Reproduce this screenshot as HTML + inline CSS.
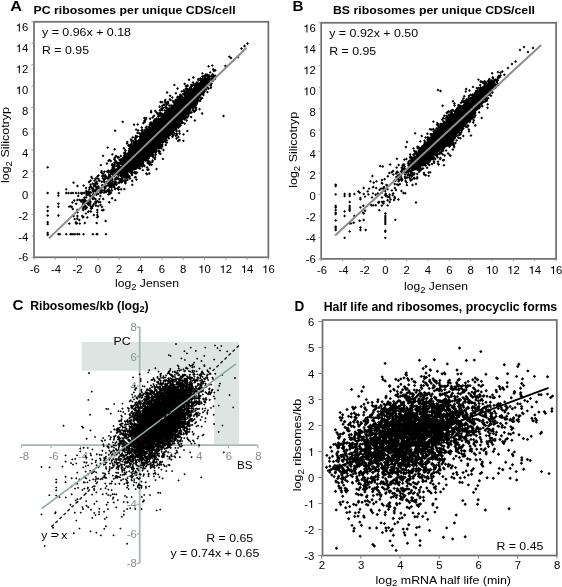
<!DOCTYPE html>
<html><head><meta charset="utf-8"><style>
html,body{margin:0;padding:0;background:#fff;}
svg{display:block;will-change:transform;font-family:"Liberation Sans", sans-serif;}
</style></head><body>
<svg width="562" height="587" viewBox="0 0 562 587" font-size="11.3">
<rect width="562" height="587" fill="#fff"/>
<text x="10.3" y="11.4" font-size="14" font-weight="700" textLength="11.8" lengthAdjust="spacingAndGlyphs">A</text>
<text x="33.6" y="14.0" font-size="11.5" font-weight="700" textLength="202" lengthAdjust="spacingAndGlyphs">PC ribosomes per unique CDS/cell</text>
<path fill="#000" fill-rule="evenodd" d="M107.6 146.2l-1.4 1.4 1.4 1.5 1.5-1.5zM101.6 155.8l1.4 1.5 1.5-1.5-1.5-1.4zM109.7 161.3l1.1 1.1 1.4-1.4-1.4-1.5-.2.2-1.2-1.1-2.3 2.1 1.5 1.5zM105.5 163.6l1.4 1.4 1.5-1.4-1.5-1.5zM99.4 165.1l1.5 1.5 1.4-1.5-1.4-1.4zM46.2 167.3l1.5 1.5 1.5-1.5-1.5-1.4zM105.7 171.8l1.4 1.3.1-.2.4.2.8.9 1.5-1.5-.9-.9 1.3 1.3.3-.3-1 1.1-.4-.3-1.4 1.4.5.5-.7.7.2.3-.6.6 0-.3-.8-.8.4-.4-1.4-1.4-1.1 1-.2-.2.9-.9-1.5-1.4-.3.3-.9-.9.8-.8-1.5-1.4-1.4 1.4.6.6-.9.9 1.5 1.4.1-.1.7.7.3-.3.7.7-.3.3-.6-.7-1.5 1.5 1.3 1.3-.8.8 2.1 2-.8.9-.8-.8-1.5 1.4 1.5 1.5 1.4-1.4.1.1-.3.3 1.4 1.5 1.4-1.4.7.8-.4.3 1.3 1.3-.5.6-.8-.8-1.2 1.3-2.7-2.1-1.5 1.5 1 1-.1.3-1.6 1.3-.8-.8.7-.6-1.5-1.4-1.3 1.1-.9-.9.3-.5-.7-.8 1.4 1.4 1.5-1.5-1.3-1.2.8-.8-1.4-1.5-2.6 2.4.2.3-.4.4-1.3-1.2-1.4 1.4 1.4 1.5.6-.6.3.4-1.2 1.2 1.4 1.5.5-.5.4.5.3-.2.8.7-.8.7.4.4-.3.3-.5-.5-.2.2-.4-.3.4-.3-1.4-1.5-.3.3-.7-.6.2-.3-1-1 .8-.8-1.5-1.4-1.4 1.4 1 1.1-2 1.7.9.8-1.1 1.1 1.4 1.4 1.5-1.4-.8-.8.4-.5 1.2 1.1.3-.3.1.2-1 .9 1.3 1.3-.4.5 1.2 1.2-1.4 1.3.4.4-1 .9-.8-.7.6-.6-.9-.9.2-.1.7.7 1.5-1.5-1.5-1.4-.2.3-.8-.8-.6.7-1.1-1-.6.6-1.3-1.3-1.5 1.5 1.2 1.2-.2.3-1-1-.9.9-.9-.9-1 1-.9-1-1.3 1.3-1.2-1.3-1.2 1.3-1.3-1.3-1.5 1.5 1.5 1.4 1.3-1.2 1.2 1.2 1.2-1.2 1.9 2 1-1 .3.2.9-.9.9.9 1-.9.3.3-1 1.1 1 1-1 1-.8-.7-1.4 1.4 1 1-.6.6-1-.8-1.3 1.2-1.2-1.2-1.2 1.1-1.2-1.1-1.4 1.4 1.4 1.5 1.2-1.2 1.2 1.2 1.2-1.3-1.3 1.4 1.4 1.4 1.5-1.4-.2-.2.3.3.3-.2-1.4 1.6.8.9-1 1 1.3 1.3-.6.6.3.3-.3.3.2.2-.6.6.8.8-.9.9 1.7 1.7 1.4-1.5-1-1 1.7-1.9 0 .4-1.3 1.3 1.4 1.5 2.7-2.9-2.7-3-.1.1-.3-.2-1.2 1.3-.2-.2.6-.6-.8-.8.5-.5.3.4 1.5-1.5-.5-.5.6.6 1.4-1.5-2.3-2.6.5-.4.7.7 1.5-1.4-1.1-1.1.7-.6.6.6 1-1.1.2.2-.5.6 1.7 1.7 1.3-1.3.5.4-1.1 1.2.8.8-.3.3 1.5 1.4 1.2-1.2 1.3 1.4 1.5-1.4-1.5-1.5-.1.2-1.6-1.9-.9.9-.1-.1.9-.9.2.2 1.3-1.3 1.2 1.3 1.4-1.4.5.5 1.5-1.4-1.5-1.5-.4.5-2-2.2.1-.2.5.6 1.5-1.5-.4-.4.3-.4-.2-.4 1.2 1.2.4-.4.2.3-.3.3.5.5-.7.7.6.7-.7.8 1.9 1.8 1.8-1.6 1.4 1.4 1.1-1.1.3.4.4-.4.4.4 1.3-1.3.9.8-1.4 1.5 1.5 1.4.6-.7.4.4 2.9-2.6-2.7-2.6.6-.6-1.8-1.7-1.1 1.2-.3-.3-1.5 1.7-.4 0 .5-.5-.5-.4 1.7-1.8-.6-.6 1-1 .7.7.4-.4.4.4-.4.4 1.4 1.4.8-.7.8.8-1.4 1.4 1.5 1.4.2-.2.3.3 1.4-1.4-1.4-1.5-.3.2 1.4-1.4-.7-.8.5-.5.1.2-.3.4 1.4 1.5 1.5-1.5-.6-.5.6-.6-.7-.6.3-.3 1.2 1.2 1.4-1.4-.7-1.1.5-.5 1 1 .6-.6.3.3 1-1 .3.3.2-.2.7.7 1.5-1.4-.4-.4.4-.4.6.6.5-.4-.4.6.5.5-.4.5 1.4 1.4 1.5-1.4-.6-.6.5-.4-.5-.5.7-.8.4.3 1.5-1.4-1.4-1.4.2-.3.5.4.2-.1 1.4 1.4 1.4-1.5-.6-.6.3-.3-.6-.6.7-.7-1.5-1.5-.4.5-.2-.3.2-.2-.7-.7.4-.5-.6-.7.5-.6-.1.2 2.5 2.2-.5.5 1.5 1.5 1.4-1.5-.7-.7.6-.5-.7-.7.3-.3 1.3 1.3.4-.4 1.1 1.1 2.6-2.5-1.5-1.5-.7.8-1.5-1.2-1.4 1.4.1.2-.3.4-.3-.3.7-.8-.5-.5 1-1 .6.6.7-.7.5.4 1.9-1.7 1.2 1.1.3-.4.8.8 1.5-1.4-1.2-1.5.5-.5 1.5 1.4 1.3-1.3.8.8 1.5-1.5-1.4-1.4.2-.2-.9-.9.6-.6-.4-.4.5-.5-.8-1 .4-.3 1.4 1.4 1.3-1.2.4.4-.9.8.5.5-.4.4 1.5 1.5.2-.2.3.4-.2.1 1.5 1.5 1-1.1.9 1 1.5-1.5-1.5-1.4-1 1-.2-.2 1.4-1.5-.9-.9 0-.1-1.4-1.4-.2.1-.8-.6 1.5-1.4-.7-.7.2-.1.2.2 1.2-1.2 1 .6.8-.9-.9 1.1 1.5 1.4.8-.8.2.3-.8.8 1.5 1.5 1.4-1.5-.8-.8.8-.8-1.4-1.5-.9.8-.5-.6.8-.8 1.1 1.1 1.4-1.5.1-.3-.9-1 1-1-.3-.3.9-.9.9.9-.7.7 2.4 2.3 1.5-1.5-1.4-1.4.8-.8-1.5-1.5-.2.2-.8-.8-1.2 1.3.2-.3-.7-.6.9-.9.5.6.3-.2.4.4 1.1-1.1 1.1 1.1 1.4-1.4-.9-.9.4.3 1.5-1.4-.9-.9.9-.9-1.1-1.1.1-.2.2.2.2-.2.3.3 1.2-1.2 1.2 1 .1-.2.9.9 1.5-1.5-1.2-1.2 1.1-1.1-1.1-1.1.1-.1-.3-.3.5-.5 1.5 1.5 1.4-1.5-1.3-1.3 1.1-1-.2-.2.1-.1.5.5 1.2-1.1-.1.2.4.4-1 1 1.5 1.5 1.4-1.5-.4-.4 1-1-.4-.4.2-.1-1.5-1.4-.5-.6.3.3.2-.2 1.9 2.2 1.1-1.1.3.3-.2.2-.1-.2-1.5 1.5 1.5 1.4.2-.2.2.1 2.1-2.1-.7-.7.6-.7 1.3 1.3 1.5-1.4-1.3-1.3 1.1-1-1.5-1.5-1.3 1.4-.5-.5.2-.2-.6-.7.6-.7-.6-.6.5-.5 1 1 1.4-1.5-.4-.4.3-.3.4.5 1.7-1.8-.8-.7 1-1 .4.5 1.5-1.5-1.5-1.7.4-.4-.2-.3.6-.6 1.1 1.1 2.2-2.2.4.3 2.6-3-.7-.7.9-.8-.3-.2.8-.8.5.5.3-.3.3.3 1.5-1.4-1.9-1.7-.7.7-.2-.2 1.5-1.6-.8-.8.3-.4.3.3.2-.1.7.7-.9.8 2.7 3.1 2.8-2.7-.5-.5.9-.9-.7-.7.8-.8-1.4-1.5-.7.6.8-.7.2.1 1.4-1.4-.4-.5.9-.9-.5-.5 1.1-1.1-.2-.3.1-.2 1.2 1.2 1.5-1.4-.6-.6 2.8-2.3-2-1.8-1 1 .4-.5-.5-.4 1.6-1.7-.2.2 1.4 1.4 1.5-1.4-.9-.9.8-.9-.6-.5.4.3 1.4-1.5-.9-1 .2-.3.9.9 1.4-1.5-1-1.1.4-.4.3.3-.2.2 1.4 1.5 1.5-1.5-1.4-1.4.2-.2-1.1-1 1.4-1.4-.2-.2.9-1.1.4.6-1.2 1.3 1.5 1.6-1 .9 1.4 1.5 1.5-1.5-1-1 .9-.9-.6-.8 1.2-1.3-1.8-2.1-1.1 1.1.6-.8-.7-.7 1.1-1 1.9 2 1.5-1.4-1-1.1.3-.3 1.1 1.2 1.5-1.5-1.5-1.4-.5.5-.5-.5.9-1-.6-.5 1.2 1 1.5-1.5-1.5-1.4-.6.6-1.9-1.9-2 1.7.4.3-.9.9-.1-.2.4-.4-1.4-1.4-.6.6-1.2-1.2-.6.5-.9-.9-2.3 2.6-.5-.4-.3.3-.5-.5-1.4 1.5 1.3 1.3-.6.6-1.3-1.3-1.4 1.5-.7-.7-1.5 1.4.9.9-.4.3 1.5 1.4.9-.9.6.6-1 1-.3-.4-.8.8-.2-.1.5-.5-1.5-1.4-1.4 1.4.2.2-1 1-.7-.7.4-.4-1.4-1.4-1.5 1.4 1.4 1.4-.4.4.1.1-.3.3-1.2-1.2-1.4 1.5 1.1 1.1-.2.2-.3-.3-1.5 1.4.4.4-.8.8-1.4-1.3-.6.6-.4-.3.2-.3.3.3.7-.6.4.4 1.5-1.4-.3-.3.2-.2-1.4-1.5-.9.9-.2-.2-.2.3-.3-.3-1.5 1.5 1.3 1.3-1.4 1.4.9.9-.2.2-1.2-1.2-1.4 1.5 1 1-.5.6 1.2 1.2-.3.2-.7-.8-1.5 1.5 1.5 1.4.3-.3.3.3-.5.5 1.1 1.1-.4.4-1.2-1.3.2-.3-1.4-1.4-.2.2-1.2-1.2-1.4 1.5.6.8-.1-.1-.7.7-.9-.9-1.4 1.5.2.2-.5.6.8.8-.6.6-.5-.5-1.5 1.4.7.8-.4-.4-.4.4-1.2-1.2-1.5 1.4 1.1 1.1-.3.4 1.3 1.3-.2.2.6.6-.2.2-.6-.5-.5.5-.6.1-.9-.9-1 1.1-.9-.9-1.4 1.5 1.4 1.4 1.1-1 .2.2-.2.3.1.2-1.1.9-.4-.4-.6.5-2.5-2.2-.5.5-.2-.1-1.4 1.4 1.4 1.5.4-.4.5.6.3-.3.2.1-.7.9-.9-.8-1.4 1.4 1.1 1.1-.2.2.2.2-1.1 1 .6.6-.3.3-.9-.9-.3.3-.5-.5-.3.2-1.4-1.6.5-.5.7.6.3-.3.4.4 1.5-1.4-.7-.7 1.3-1.2-1.5-1.5-.7.7 1.2-1.3.3.3.4-.4.3.4 1.2-1.1 1 1 3-2.9-.8-.7.7-.8-1.4-1.4-2 1.7-.2-.2.7-.7-.6-.5.7-.7-1.4-1.5-1.5 1.5.5.5-.6.7.9.9-.7.7 1.5 1.4.5-.5.1.2-.5.5-1.1-1-.3.4-.4-.4-1.3 1.3-.3-.3-1.4 1.5 1.2 1.2-.3.2-.1-.1-1.5 1.4.7.7-.2.2-.6-.7-1.5 1.5 1.4 1.3-1 1 .8.8-1.5-1.3-.3.3-2.5-2.8-1.5 1.5 3 3.2-.4.3 1.1 1-.6.8 1.4 1.4-.5.4-1.1-1.1-1.4 1.4-.4-.5-2.3 2.4.6.6-.9 1-.8-.8-.6.6-.5-.6-1.4 1.5.6.6-1.2 1.2 1.5 1.5.5-.2.4.4-.5.4-1.2-1.3-1.1 1.1-1.2-1.2-2.3 2.1.9.9-.4.4.6.6-.4.3-.8-.8-1.1 1-1.1-1.2 1-1-1.4-1.5-1.5 1.5 1.3 1.3-1 1 .2.3-.7.7 1.7 1.4-.2.2-.5-.5-.9.9-.9-.8-.6.6-1.3-1.2-1.4 1.5 1.4 1.4.7-.7 1.2 1.3.3-.3.3.3-1.3 1.3-1.3-1.3-.6.5-.8-.8-1.5 1.5.6.6-1.3 1.3.7.7-.7.7 1.3 1.6-.2.2-1.8-1.7-.7.7-.2-.3.4-.3-1.5-1.5-1.4 1.5.8.8-.4.3 1.3 1.3-1.1 1.1.5.5-.9.9-.9-.9-.3.3-.2-.2-1.4 1.5.5.5-.2.2 1.5 1.4.2-.2.2.2-1.2 1.3.6.7-.9 1 .7.7-.7.7.3.2-1.9 1.5-.2-.2.8-.8-.9-.9 1.1-1.1-1.7-1.7-1.4 1.5 1.1 1.1-.5.5-.3-.3-1.5 1.5 1.2 1.3-1.1 1.1 1.1 1.1-.3.2-.4-.4-1.4 1.5.6.6-.2.1-.8-.8-.8.9-.3-.3-.3.4-.4-.4-1.4 1.5 1.4 1.6-.4.7-.4-.4-.7.3-2.7-3.1.9-1.2-1.4-1.4-1.7 1.8.6.7-.8.7 2.1 2-.2.2-.4-.5-1.5 1.5 1.1 1-.4.4-1.3-1.3-1.4 1.5.4.5-.5.6 1.2 1.1-.6.6.4.4-.4.4.3.3-2 2.3-1.3-1.3-.2.3-.2-.2-2.3 2.3-1.3-1.3-1.5 1.4 1.5 1.5zM160.2 148l.3-.4 0 .1zM161.1 143.6l.6-.5.3.2-.6.6zM147.7 159l.2.1-1.3 1.2-.1-.1zM148.5 128.1l-1 1 .4-.5-.7-.8.7-.8.2.2-.3.2zM136.5 139.5l.1-.1-.3-.3 2.1-2.4 1.2 1.3-1.1 1.1.4.6-.5-.4-1.1 1zM108.3 184.4l-.1-.1.6-.6.1.1zM111.3 181.7l-.3-.7.7.8-.7.7-.3-.3zM112.9 182.1l.3-.3.6.7-.3.2zM116.8 180.7l1-1 .8.5-.2.3.8.8-.3.3-.3-.3-1.1 1.2-2-2.3.4-.4zM126.1 179.8l-1-.7.6-.7.9.9zM105.1 181.4l.3-.3-.6-.6.2.1 1.5-1.5-.4-.5 1.8 1.5.4-.4.6.5-.7.8-.6-.6-.4.4-.4-.3-1.3 1.3zM95.6 194.1l-.5.4-1.2-1.2-.2.1-.3-.3 1-1 1.1 1.1.2.3-.3.3zM104.3 178.2l-1.4-1.3.2-.2 1.5 1.4zM104 187.9l-.5.5.5.5-1 1-.7-.6-.3.3-.4-.4.2-.2.1.1 1.6-1.8zM103.3 191.6l.2.1-.7.7-.4-.3 1.1-1.2.2.2zM86.9 191.8l.7.8-.7-.7zM114.3 167.5l-.2.2-.2-.2.2-.2zM115.6 163.8l.7-.7-.4.4.8.8-.6.5.3.3-.8.8 1.5 1.4.2-.1-1.5 1.5-.9-.9 1.3-1.3-1-1.1 1-1-1.1-1zM121 168.6l.1.1.2 0-.2.1zM123.4 161.3l.1-.1.5.4-.1.2zM121.6 165.2l-.9.8-1-1 .4-.5 1 .9.6-.6.6.7-.2.2zM113.5 166.2l.8-.7-.7.8zM113.1 173.8l-.4-.4.2-.1.2.3 1.4-1.4.3.3-.3 0zM118.2 172.7l-.3.2.2-.3zM123.3 174.6l-.4-.4.2-.2.4.4zM113.1 169.8l-.1 0 .1 0zM116.8 170.8l.3-.5.1.1zM118.4 170.2l-.3-.3.3.3zM120.6 170.4l.2-.1.2.3-.1.1zM123.6 170.9l-.2-.2.2.2zM113.2 169l.1.1-.1.2-.2-.1zM114 174.8l-1.3 1.2 1.5 1.4 1.7-1.7-.8-.9.2-.2.9.9.7-.7.3.3.4-.4.3.3-.8.8 1.3 1.4-.3.3-1.4-1.5-1.5 1.5.9.9-.1.1-.9-.9-1.4 1.5 1 1-1 .9-.8-.9.8-.8-.5-.5.2-.3-1-1 .2-.3-1.9-1.7.6-.6 1.1 1.1 1.4-1.4zM118.7 177.1l1-1.1.3.3-.1.2 1.1 1.1-1 1 .1-.2zM123.6 178.7l-.3-.3.3-.4 1.3 1.1-.4.4-.5-.5-1 1-.4-.3zM119.3 174.5l.6.6-.3.4-.6-.7zM123.2 175.9l-.4.4-.1-.2.4-.4zM121.7 179.8l.1.1-.2.2-.1-.1zM110.7 179.2l0-.2.1.1zM113.5 182.9l.4.4-.1.2-.1.1-.4-.4-.5.5zM132.1 150.8l-.1-.2.1-.1.2.1zM132 149.7l-.2.3-.3-.3.3-.4zM132.1 141.6l1.1.9-.4.3.5.5-1 1.3-.3-.4 1.1-1.1-1.3-1.3zM127.3 169.6l.4-.6.1.1zM141.3 162.8l-.1-.2.5-.5.1.2zM143.1 130.3l1 1-.2.2-1.1-1zM143.1 165.9l-.6-.8.7.7zM153.9 152.6l1 1.1.3-.2-.8.9-.9-.9.6-.5zM152.6 123l.2.4-.3-.3zM160.6 115.9l-.3.4.3.3-.6.6.5.5-.3.3.2.2-.7-.6-.4.4-.6-.6zM174.2 131.4l.6-1 .5.5-.2.2 1.4 1.4-.8.7zM175.4 102.3l.5.5.2-.2-.3.4-.5-.6zM169 110l.3.3.1.3-.5-.5zM178.1 133.4l-1.2-1.2 1-1 1.3 1.2zM178.1 126.5l-.8.6.7-.7zM180.3 97.7l-.2.1.2-.2zM180.8 97.5l.1-.1.2.2-.1.1zM178.6 100.5l-.2.2-.4-.4.4.1zM180 124.6l-.1-.2.1.1zM185.3 90.3l.3.4-.4.4-.4-.4zM186.5 115.5l.8-.8.3.4-.8.8.2.2-.2.1zM193.8 86.1l.4.3-1 1 .5.6-.4-.5-1.1 1.1-.4-.3.5-.4-.3-.3zM189.1 89.5l-.7-.8.7.8zM187.3 90.7l-.3.3.3-.3zM188.3 110.1l-.2-.2.2-.2.3.2zM194.9 104.4l.1-.2 0 .1zM193.5 109.1l.2-.2.2.2.8-.8.3.3-.5.6.5.5-.3.2zM207 85.9l.1-.2-.5-.7.6.6zM204.1 77.7l-.5.6-.5-.4.7-.6zM206.3 77.5l.3-.3-.9-.8.1-.2 1.2 1.4-.3.3zM208 78.2l0-.3.2.1zM210.2 77.2l.4-.4.8.9-.6.6-.3-.2.3-.3zM211.7 77.4l.1-.1 0 .1zM199.6 79.2l.7.7-.3.3-.7-.6zM201.3 79l.1.1-.3.4-.2-.2zM206.2 79.4l.2.1-.1 0zM210.7 79.3l.4.4-.3.2-.4-.4zM197.8 84.9l-.2-.2.2.2zM205.3 89.1l.2-.3 0 .1zM198.8 99.2l1.5-1.3.2.2-1.3 1.3.5.5-.1.2zM98.5 173.9l-2.5 2.7 1.5 1.4 2.5-2.7zM89.9 176.9l1.2 1.2-.3.2 1.5 1.5 1.4-1.5-1.1-1.1.2-.3-1.4-1.4zM99.8 178.8l-1.5-1.4-.9.9-1.3-1.3-.4.4-.1-.2-1.5 1.5 1.5 1.4.4-.4.1.2.9-.9 1.1 1-.5.5 1.8 1.7 1.5-1.4-1.6-1.5zM93.1 180.6l1.4 1.4 1.5-1.4-1.5-1.5zM89.3 183.4l2.7-2.8-1.4-1.4-1.4 1.5-.2-.1-1.4 1.4 1.4 1.4.2-.1zM72.1 182.7l1.5 1.4 1.4-1.4-1.4-1.5zM82.1 185.6l1.5 1.4 1.4-1.4-1.4-1.4zM76 186l1.4 1.4 1.5-1.4-1.5-1.4zM84.6 188l1.4 1.4 1.4-1.4-1.4-1.4zM64.8 189.3l1.4 1.5 1.4-1.5-1.4-1.4zM67.4 192.8l-1.2-1.2-1.4 1.5 1.4 1.4 1.2-1.1 1.2 1.1 1.2-1.2 1.3 1.2.9-.9 1 .9 1.4-1.4-1.4-1.5-1 1-.9-1-1.3 1.3-1.2-1.3zM57 193.1l1.2 1.3-1.2 1.2 1.4 1.4 1.4-1.4-1.2-1.2 1.2-1.3-1.4-1.5zM46.2 193.1l1.5 1.4 1.5-1.4-1.5-1.5zM76.8 195.9l1.5 1.4 1.4-1.4-1.4-1.5zM98.9 195.9l1.5 1.5 1.4-1.5-1.4-1.4zM101.8 199.1l1.4 1.4 1.5-1.4-1.5-1.5zM97.9 199.1l1.5 1.5 1.4-1.5-1.4-1.4zM89.6 202.7l-1.4-1.4-.7.7-.3-.3-1.5 1.5 3 3.2 1.2-1.2.2.2 1.5-1.4-.8-.8 1.2-1.1-1.5-1.7.7-.6-1.5-1.5-1.4 1.5.4.4-.6.6 1.7 2-.7.8-.2-.1zM72.8 200.5l1.4 1.5 1.5-1.5-1.5-1.4zM92.1 204.2l.5.5-1.1 1.1-.8-.8-1.4 1.4 1.2 1.2-.9 1 1.4 1.4.6-.6.3.3 1.5-1.4-1.5-1.5-.7.6.7-.7.8.8 1.5-1.5-.5-.5 1.3-1.3.4.4-.9.9 1.4 1.5.8-.8 1.4 1.4 1.4-1.4-1.4-1.5-.8.8-1.1-1.1.9-.9-.5-.6.6-.6 1.4 1.3.8-.9.7.7 1.5-1.4-1.5-1.5-.8.9-1.9-1.7-.8.8-.3-.2-.7.7-.4-.4-1.4 1.4.9.9-.5.5-.6-.7zM71 202.4l1.4 1.4 1.5-1.4-1.5-1.4zM74.6 203.7l1.5 1.5 1.5-1.5-1.5-1.5zM57 203.7l1.4 1.5 1.4-1.5-1.4-1.5zM99 205l1.5 1.4 1.5-1.4-1.5-1.4zM70 207.3l.5.5.4-.4.9.8 1.4-1.4-1.4-1.4-.4.4-.9-.9-.8.8-.5-.5-1.5 1.4 1.5 1.5zM57 206.8l1.4 1.4 1.4-1.4-1.4-1.4zM46.2 206.8l1.5 1.4 1.5-1.4-1.5-1.4zM100.6 207l1.4 1.4 1.4-1.4-1.4-1.4zM71.3 208.9l1.5 1.5 1.4-1.5-1.4-1.4zM75.9 209.9l1.3 1.3-1.2 1.2 1.4 1.4 1.5-1.4-1.4-1.3 1.3-1.2-1.5-1.5zM95.8 217.4l1.5 1.4 2-2.1-1.1-1.1.6-.6-1.4-1.3 1.4-1.3-1.3-1.2 1.3-1.3-1.5-1.5-1.5 1.5 1.3 1.3-1.3 1.2 1.4 1.3-1.4 1.3 1.2 1.1zM102.7 209.3l-.5-.5-1.5 1.4 1.5 1.5.7-.8.6.5 1.5-1.4-1.5-1.4zM46.2 210.9l1.5 1.5 1.5-1.5-1.5-1.5zM88.7 210l-2 2.1 1.5 1.5 1.6-1.9 1.1 1.2 1.5-1.4-1.5-1.5-1.1 1.1zM84.6 213.6l1.4 1.4 1.4-1.4-1.4-1.4zM92.4 215l1.5 1.5 1.4-1.5-1.4-1.4zM57 215.5l1.4 1.5 1.4-1.5-1.4-1.5zM46.2 215.5l1.5 1.5 1.5-1.5-1.5-1.5zM72.1 216.1l1.5 1.5 1.4-1.5-1.4-1.5zM84.8 217l-2.5-2.4-1.5 1.5 1.1 1-.3.3 1.4 1.4zM76 216.1l1.1 1.2-1.4 1.4 1.5 1.4 1.4-1.4-1.1-1.2 1.4-1.4-1.5-1.5zM85.8 217.4l1.5 1.4 1.5-1.4-1.5-1.4zM73.2 219.1l1.5 1.5 1.4-1.5-1.4-1.4zM77.8 220.1l1.4 1.5 1.5-1.6-1.5-1.5zM105.7 219.6l-1.5 1.5 1.5 1.4 1.4-1.4zM76.6 224.5l.3.2 1.4-1.4-2.4-2.5-1.5 1.5.8.8-.6.5 1.5 1.4zM46.2 222.3l1 .9-1 1 1.5 1.4 1.5-1.4-1-1 1-.9-1.5-1.5zM83.4 223l1.4 1.4 1.4-1.4-1.4-1.4zM95.2 223l1.5 1.4 1.5-1.4-1.5-1.4zM67.8 223.6l1.5 1.4 1.5-1.4-1.5-1.4zM78.4 223.6l1.4 1.4 1.4-1.4-1.4-1.4zM46.2 232.9l1 .9-1 1 1.5 1.4 1.5-1.4-1-1 1-.9-1.5-1.5zM97 233l-.3-.2-1.5 1.4 1.5 1.4.3-.2.3.2 1.5-1.4-1.5-1.4zM64.8 234.2l1.4 1.4 1.4-1.4-1.4-1.4zM82.1 234.2l1.5 1.4 1.4-1.4-1.4-1.4zM58.4 232.8l-1.4 1.4 1.4 1.4.2-.1.1.1.6-.6.6.6 1.5-1.4-1.5-1.4-.6.6-.6-.6-.1.1zM71.2 233.4l-.7-.6-1.5 1.4 1.5 1.4.7-.6.6.6.6-.6.6.6 1-.9.9.9 1.3-1.2 1.2 1.2.9-.8.9.8 1.4-1.4-1.4-1.4-.9.8-.9-.8-1.2 1.2-1.3-1.2-.9.9-1-.9-.6.6-.6-.6zM104.6 234.2l1.4 1.4 1.4-1.4-1.4-1.4zM91.4 234.2l1.5 1.4 1.5-1.4-1.5-1.4zM121.3 121.8l1.4 1.5 1.5-1.5-1.5-1.4zM113.7 130.8l1.4 1.4 1.5-1.4-1.5-1.5zM122.4 148.3l1.5 1.4 1.4-1.4-1.4-1.5zM113.1 149.2l1.5 1.5 1.4-1.5-1.4-1.4zM110.9 154.3l1.5 1.5 1.4-1.5-1.4-1.4zM114.6 155.9l1.4 1.5 1.5-1.5-1.5-1.4zM119.4 156l1.4 1.4 1.5-1.4-1.5-1.5zM116.4 157.6l1.5 1.5.5-.5.2.2 1.5-1.4-1.5-1.5-.2.2-.4-.4-1.5 1.4.2.2zM117.7 187.1l1.4 1.5 1.5-1.5-1.5-1.4zM116.5 189l2.1 1.9 1.4-1.4 1.2 1.2 1.4-1.4-1.4-1.5-1.4 1.4-2.4-2.2-1.2 1.2-1-.9-1.6 1.7 1.5 1.5zM122.9 189.1l1.4 1.5 1.5-1.5-1.5-1.4zM117.6 193.1l1.4 1.5 1.5-1.5-1.5-1.4zM110.6 198.2l1.5 1.5 1.5-1.4-1.5-1.6zM113.8 200.2l1.5 1.4 1.4-1.4-1.4-1.5zM107.8 202.2l1.5 1.5 1.4-1.5-1.4-1.4zM131.3 137.3l1.4 1.5 1.5-1.5-1.5-1.4zM125.9 142l.5.5-.9.9 1.4 1.4 1.5-1.4-.5-.5.9-.9-1.5-1.4zM130.8 181l1.4 1.5 1.5-1.5-1.5-1.4zM130.8 184.8l1.4 1.5 1.5-1.5-1.5-1.4zM132.6 124.7l1.4 1.5 1.5-1.5-1.5-1.4zM134.7 129.6l1.5 1.5 1.4-1.5-1.4-1.4zM135.3 176.2l-.3-.3-1.5 1.5 1.5 1.4.5-.5.2.3 1.5-1.4-1.5-1.5zM135 179.6l1.5 1.5 1.4-1.5-1.4-1.4zM136.3 124.4l1.4 1.4 1.5-1.4-1.5-1.5zM136.8 130.5l1.4 1.4 1.5-1.4-1.5-1.5zM145.5 121.3l1.6-1.7-.5-.5 1-1.1-1.4-1.4-.9.9-1-1-1.4 1.4 1.4 1.5 1-.8-2.4 2.4.6.6-1.6 1.5 1.4 1.5 3-2.6zM141.4 170.2l1.4 1.4 1.5-1.4-1.5-1.5zM144.9 173.5l2.1 2.2 1.5-1.4-2.2-2.2zM147.8 168.7l-.3-.3 1.1-1-1.5-1.4-1.4 1.4 1.2 1.3-1 1 1.5 1.5.6-.7.5.5 1.5-1.5-1.5-1.4zM148.7 118.7l1.4 1.5 1.5-1.5-1.5-1.4zM147.8 173.5l1.5 1.5 1.4-1.5-1.4-1.4zM149.6 112.4l1.5 1.4 1.4-1.4-.6-.6.7-.8-1.4-1.4-1.5 1.4.7.7zM151.2 117.5l1.4 1.5 1.5-1.5-1.5-1.4zM151.1 160.4l.7.7-.8.7 1.5 1.5 1.4-1.5-.6-.6.7-.8-1.4-1.4zM152.6 115.8l1.4 1.4 1.5-1.4-1.5-1.5zM155.1 169.1l1.4 1.4 1.5-1.4-1.5-1.5zM163.6 102.3l-1.5-1.5-.6.7-1-.9-1.4 1.5 1.4 1.4.7-.7.9.9zM158.2 106.7l1.4 1.5 1.5-1.5-1.5-1.4zM162 150.1l1.5 1.4 1.4-1.4-1.4-1.5zM161.5 158.9l1.4 1.4 1.5-1.4-1.5-1.5zM164.3 145l1.4 1.4 1.5-1.4-1.5-1.5zM165.7 92.6l1.4 1.4 1.5-1.4-1.5-1.5zM168.7 95.7l1.4 1.5 1.5-1.5-1.5-1.4zM170.6 101.3l1.4-1.4-1.4-1.5-.2.2-.5-.5-1.4 1.4 1.4 1.5.2-.2zM170.9 97.4l1.5 1.5 1.4-1.5-1.4-1.4zM172.9 84.9l1.4 1.4 1.5-1.4-1.5-1.5zM176.1 88.6l1.5 1.4 1.4-1.4-1.4-1.5zM174.5 93.3l1.4 1.4 1.5-1.4-1.5-1.5zM175.1 138.5l1.4 1.4 1.5-1.4-1.5-1.5zM176.9 136.9l1.4 1.5 1.5-1.5-1.5-1.4zM178.1 139.4l-1.4 1.5 1.4 1.4 1.2-1.1.3.3 1.5-1.4-1.5-1.5-1.1 1.2zM180.4 91.4l1.5 1.4 1.4-1.4-1.4-1.5zM183.2 83.8l1.5 1.5 1.4-1.5-1.4-1.4zM183.2 123.6l1.4 1.5 1.5-1.5-1.5-1.4zM182.1 134.4l1.4 1.4 1.5-1.4-1.5-1.5zM181.9 140.8l1.5 1.5 1.4-1.5-1.4-1.4zM187.6 79.7l1.4 1.5 1.5-1.5-1.5-1.4zM185.2 120.5l1.5 1.4 1.4-1.4-1.4-1.5zM185.8 131.1l1.5 1.4 1.4-1.4-1.4-1.5zM191.8 77.5l1.5 1.5 1.4-1.5-1.4-1.4zM189.7 117.1l1.4 1.4 1.5-1.4-1.5-1.5zM193.4 120.4l1.5 1.5 1.4-1.5-1.4-1.4zM246 43.5l1.5 1.5 1.5-1.5-1.5-1.5zM243 46l1.5 1.4 1.5-1.4-1.5-1.4zM240 48.5l1.5 1.5 1.5-1.5-1.5-1.5zM227.8 56.7l1.5 1.4 1.4-1.4-1.4-1.5zM238 55.6l-1.4 1.4 1.4 1.4 1.4-1.4zM229.6 58l1.4 1.4 1.4-1.4-1.4-1.4zM210.8 65.6l1.5 1.5 1.4-1.5-1.4-1.4zM224 66.1l1.4 1.4 1.5-1.4-1.5-1.5zM207.1 66.3l1.5 1.5 1.4-1.5-1.4-1.4zM214.8 69.5l-1.5-1.7-1.4 1.5 1 1.2-.4.4 1.4 1.5 1.1-1.1.4.5 1.4-1.5-1.4-1.4zM208.8 72.4l1.5 1.4 1.4-1.4-1.4-1.5zM201 73.4l1.4 1.4 1.5-1.4-1.5-1.5zM206 92.1l1.5 1.5 1.4-1.5-1.4-1.4zM198.1 109.2l1.5 1.4 1.4-1.4-1.4-1.5zM200.7 113.6l1.5 1.4 1.4-1.4-1.4-1.5zM222 116l1.5 1.4 1.5-1.4-1.5-1.4z"/>
<line x1="48.9" y1="238.4" x2="246.6" y2="47.8" stroke="#8c8c8c" stroke-width="2"/>
<rect x="34.0" y="21.8" width="234.4" height="235.5" fill="none" stroke="#6c6c6c" stroke-width="1.7"/>
<path d="M31.5 257.3h2.5M34.0 257.3v2.5M31.5 235.9h2.5M55.3 257.3v2.5M31.5 214.5h2.5M76.6 257.3v2.5M31.5 193.1h2.5M97.9 257.3v2.5M31.5 171.7h2.5M119.2 257.3v2.5M31.5 150.3h2.5M140.5 257.3v2.5M31.5 128.8h2.5M161.9 257.3v2.5M31.5 107.4h2.5M183.2 257.3v2.5M31.5 86.0h2.5M204.5 257.3v2.5M31.5 64.6h2.5M225.8 257.3v2.5M31.5 43.2h2.5M247.1 257.3v2.5M31.5 21.8h2.5M268.4 257.3v2.5" stroke="#9a9a9a" stroke-width="1"/>
<text x="28.2" y="261.4" text-anchor="end">-6</text>
<text x="28.2" y="240.5" text-anchor="end">-4</text>
<text x="28.2" y="219.6" text-anchor="end">-2</text>
<text x="28.2" y="198.7" text-anchor="end">0</text>
<text x="28.2" y="177.8" text-anchor="end">2</text>
<text x="28.2" y="156.9" text-anchor="end">4</text>
<text x="28.2" y="135.9" text-anchor="end">6</text>
<text x="28.2" y="115.0" text-anchor="end">8</text>
<text x="15.6" y="94.1"> 0</text>
<path transform="translate(15.63 94.13) scale(0.01175 -0.01130)" d="M359 0L359 703L293 703C280 650 250 600 180 582C150 575 120 572 101 572L101 504L271 504L271 0Z"/>
<text x="15.6" y="73.2"> 2</text>
<path transform="translate(15.63 73.22) scale(0.01175 -0.01130)" d="M359 0L359 703L293 703C280 650 250 600 180 582C150 575 120 572 101 572L101 504L271 504L271 0Z"/>
<text x="15.6" y="52.3"> 4</text>
<path transform="translate(15.63 52.31) scale(0.01175 -0.01130)" d="M359 0L359 703L293 703C280 650 250 600 180 582C150 575 120 572 101 572L101 504L271 504L271 0Z"/>
<text x="15.6" y="31.4"> 6</text>
<path transform="translate(15.63 31.40) scale(0.01175 -0.01130)" d="M359 0L359 703L293 703C280 650 250 600 180 582C150 575 120 572 101 572L101 504L271 504L271 0Z"/>
<text x="34.8" y="273.1" text-anchor="middle">-6</text>
<text x="56.1" y="273.1" text-anchor="middle">-4</text>
<text x="77.4" y="273.1" text-anchor="middle">-2</text>
<text x="97.9" y="273.1" text-anchor="middle">0</text>
<text x="119.2" y="273.1" text-anchor="middle">2</text>
<text x="140.5" y="273.1" text-anchor="middle">4</text>
<text x="161.9" y="273.1" text-anchor="middle">6</text>
<text x="183.2" y="273.1" text-anchor="middle">8</text>
<text x="198.2" y="273.1"> 0</text>
<path transform="translate(198.19 273.10) scale(0.01175 -0.01130)" d="M359 0L359 703L293 703C280 650 250 600 180 582C150 575 120 572 101 572L101 504L271 504L271 0Z"/>
<text x="219.5" y="273.1"> 2</text>
<path transform="translate(219.50 273.10) scale(0.01175 -0.01130)" d="M359 0L359 703L293 703C280 650 250 600 180 582C150 575 120 572 101 572L101 504L271 504L271 0Z"/>
<text x="240.8" y="273.1"> 4</text>
<path transform="translate(240.81 273.10) scale(0.01175 -0.01130)" d="M359 0L359 703L293 703C280 650 250 600 180 582C150 575 120 572 101 572L101 504L271 504L271 0Z"/>
<text x="262.1" y="273.1"> 6</text>
<path transform="translate(262.12 273.10) scale(0.01175 -0.01130)" d="M359 0L359 703L293 703C280 650 250 600 180 582C150 575 120 572 101 572L101 504L271 504L271 0Z"/>
<text x="42.0" y="36.0" textLength="89" lengthAdjust="spacingAndGlyphs">y = 0.96x + 0.18</text>
<text x="42.0" y="54.4" textLength="47" lengthAdjust="spacingAndGlyphs">R = 0.95</text>
<text x="115.0" y="286.7" textLength="64" lengthAdjust="spacingAndGlyphs">log<tspan font-size="8.8" dy="2.8">2</tspan><tspan dy="-2.8"> Jensen</tspan></text>
<text x="9.0" y="183.0" textLength="76" lengthAdjust="spacingAndGlyphs" transform="rotate(-90 9.0 183.0)">log<tspan font-size="8.8" dy="2.8">2</tspan><tspan dy="-2.8"> Silicotryp</tspan></text>
<text x="292.4" y="11.4" font-size="14" font-weight="700" textLength="11.0" lengthAdjust="spacingAndGlyphs">B</text>
<text x="333.0" y="14.0" font-size="11.5" font-weight="700" textLength="202" lengthAdjust="spacingAndGlyphs">BS ribosomes per unique CDS/cell</text>
<path fill="#000" fill-rule="evenodd" d="M407 140.6l-1.4 1.5 1.4 1.4 1.5-1.4zM404.4 146.9l1.5 1.5 1.4-1.5-1.4-1.4zM412 148.4l1.5 1.4 1.4-1.4-1.4-1.5zM410.2 160.1l-.8-.9-2.1 2.3.5.5-1.2 1.2 1.3 1.3-.9.9 1.1 1.1-.5.5.8.8-.2.3-.7.7-.2-.2-.5.4-.9-.8-.2.2-.6-.7 1-1-1.2-1.2.8-.7-1.5-1.5-.3.3-.6-.6-1.5 1.4-.5 1 1.4 1.5.4-.4 1.2 1.3-.2.2-1.2-1.2-.3.3-.9-.9-1.5 1.5 1.3 1.2-.8.9.3.3-1.4 1.4 2.4 2.4 1.4-1.1.9.7.3-.2.1.1-1.1 1.1 1.2 1.1-1.3 1.3.6.9-.3.4 1.4 1.5.9-1 .2.3.6-.6.6.6 1-1 .7.8-.4.3 1 1-.6.5 1.5 1.5 1.4-1.5-.9-1 1.1 1.1 1.4-1.5-1.4-1.4-1 .9-1-1 .4-.3-.8-.8 1-.9-.7.8 1.4 1.4 1.5-1.4-.3-.3.8-.7.4.4 1.5-1.5-.5-.5.7-.6-1.5-1.5-.8.9-1.3-1.3.2-.4.6.7.7-.8.3.2 1.1-1.1.7.6.5-.5 1.1 1.1.9-.6.4.4-.9.9 1.4 1.4 1.5-1.4-.6-.6.2-.2.5.6 2-2.1.3.4 1.5-1.5-1.5-1.4-.7.7-.4-.4-.3.4-.5-.5-.5.4 1.2-1.4.5.5.8-.8.8.7.7-.7 1.1.9 1.5-1.4-1-1 .5-.6 2.6 2.5 1.5-1.5-1.6-1.5 2.4-2.8-.4-.4.2.1.3-.4.4.4.2-.2.4.4.5-.5.2.2.8-.8 1.1 1 1.4-1.5-2.5-2.9-.5.4.9-.9 1.7 1.6-.2.2 1.5 1.4 1.4-1.4-1.2-1.3 1.1-1.2-.3-.2.2-.3 1 1 1.1-1.2 1.7 1.7 1.5-1.4-2-2 .5-.6.5.4 1.4-1.4-.7-.8.8-.8-.3-.3 1.9-1.8.2.2.3-.3.3.3 1.3-1.3.2.2-.5.6 1.4 1.4 1.5-1.4-.3-.3.7-.7.3.3.8-.7.9 1-.6.6 1.5 1.5 1.4-1.5-1-1 .6-.7-.4-.4.3-.3-1.3-1.4.8-.8-1-1.1 1.4-1.4-1.4-1.5 1.3 1.2 1.4-1.4-.5-.6.6-.7.6.4 1.4-1.5-2.1-2 .8.6 1.4-1.4 0-.3.3.2-.3.3.2.2-1.2 1.4 1.5 1.5 1.1-.9.4.4 1.5-1.5-.7-.6 1.6-1.6-.8-.9 2.6-2.8-.8-.9.8-.6 1.4 1.4.5-.5.7.7 2.4-2.7-1.9-1.9-1.5 1.4.6.7-.1.1-.7-.7-.5.5.9-1.1-.7-1 .1-.1.7.7 2.2-2.1.9 1 .2-.1 1.5-1.5-.6-.6 1.1-1.3-.9-1 1.3 1.3 1.4-1.4-.1-.2.3-.3.5.5 1.4-1.5-.4-.4 1.4-1.4-1.2-1.3 1.2-1.2-1-.9.3-.4-.5-.6.4.4.5-.5.1.2 2.2-1.9.3.2.2-.2 1.5-1.4-.2-.2.4-.4-.4-.4.3-.3 1.2 1.1.1-.2.2.2 1.4-1.5-1.4-1.4-.3 0 .7-.7.2-.3-.2-.2.3-.3.3.3 1.1-1.1.6.6 1.2-1.3.5.4 1.5-1.4-.6-.6 1.9-2-1.4-1.4-.7.7-.4-.4 1-1.1-.4-.5.1-.1 1.1 1 1.5-1.4-.2-.2.9-.9-.8-.8.2-.3 1 .8.2-.1.7.7 1.5-1.5-.5-.4.2-.2-1.5-1.4.2-.2-.2-.2.3.3 2.1-2 .8.7 1.8-1.7-.8-.8.3-.3-.3-.3 1-1 1.1 1.1 1.5-1.4-.8-.8.2-.2-1.3-1.3.3-.3-.3-.4 1.2-1.2-.6-.5.4-.4-.9-.8.2-.1.5.5 2.6-2.2-.7-.7 1.2-1.1-1.3-1.3 1.3-1.3-1.5-1.4-1.4 1.4 1.3 1.3-1 1-.5-.5-2 2.2.3.3-.6.6.9.8-.7.7-.9-.9-1 1-.6-.6-1.3 1.3-1-1-1.2 1.2-.3-.2.4-.3-.2-.3.2-.2-1.5-1.5-1.4 1.5.2.2-.2.3 1 1-1-.8-1.4 1.4 1.1 1.1 0 .1-.1.2.7.7-.2.2-.7-.8.2-.2-2.9-2.7-1.4 1.5 1.2 1.4-2.6-2.5-.5.5-.6-.7-1.5 1.5 1.5 1.4.4-.4 2.1 1.8.3-.3.1.2-.4.5.4.4-.3.2 1 1.1-.7-.7-.8.8-.4-.4-.9.8-.8-.9-1.2 1.2-.8-.8-1 1-.8-.9-1.5 1.5 1.5 1.4 1-1 1.2 1.4-.2.1-1.2-1.2-1.3 1.4-.4-.4-1.4 1.4.5.5-1.5 1.5.4.4-.4.4-.8-.9-1.4 1.3-.8-.9-1.4 1.4-.4-.3-1.4 1.4 1 1-1 1 .4.4-.5.5-.9-.9-1.4 1.5.4.4-.2.1-.3-.3-1 1-1.4-1.4-1.4 1.4.6.6-.5.4-.2-.2-1.5 1.4 1.5 1.5 1.2-1.2.2.2.5-.4.5.5.6-.6.2.2-2.2 2.6-1.3-1.2-.5.5-1-1-.3.3-.5-.5-1.4 1.4.5.6-.2.3.5.6-.3.3-.2-.2-1.5 1.5 1.3 1.3-1.1-1.1-1.5 1.5.4.3-.4.4-.5-.5.2-.2-1.5-1.4-1.1 1.1-.4-.4-1.4 1.4.4.4-.3.3-1.4-1.4-1.5 1.4.1.3-.3-.3-1.5 1.5 1.5 1.4.4-.3.2.3 1.5-1.5-.2-.2.3-.3.9.9-.8.9-.5-.5-1.4 1.5.9.9-.1.1-1.5-1.6-1 1-1.2-1.1-1.4 1.4 1.4 1.5 1-1 .7.7-1.3 1-1.4-1.5-1.4 1.5.3.3-1.4 1.4 1.4 1.4 1.5-1.4-.3-.3.5-.6 1.5 1.4.9-.9.2.1-1.4 1.4.6.6-.1.1-.9-.9-.4.5-.9-.9-1.4 1.5 1 1-.7.7-.7-.7-.5.3-.5-.5-1.3 1.3-2-2.1-1.4 1.5.7.7-1 1 2.2 2-.5.5.5.5-.1.2-1.1-1.1-1.5 1.4.6.6-.9.8-.4-.3.3-.3-1.4-1.5-1.3 1.3-.7-.7-.5.4-.8-.9-1.5 1.5 1.5 1.4.4-.4.9.9 1.3-1.3-.3.3.7.7-.7.7.9.9-.7.7.3.2-.3.3-.6-.7-.4.4-.9-.6-1.5 1.4 1.4 1.5-.3.3.5.4-.6.7.1.2-.7-.7-.4.5-1.1-1.1-.2.3-.2-.2-1.1 1.1-.9-1-1.5 1.5 1.5 1.4 1.1-1.1.6.7-1.2 1.2 1.1 1.1-.7.7-.4-.4-.6.5-.3-.3.7-.7-1.5-1.5-1.4 1.5 1.2 1.1-.8.8.5.6-.8.9 0 .5-.5.5-.3-.4-1.5 1.5.4.4-.7.6-.1-.1-.7.5-.2-.1.4-.4-1.4-1.5-.3.3-.7-.7-1.4 1.4.7.7-.7.7 1.4 1.5.4-.4.2.1.1-.1.4.4-1.3 1.3.9.9-.4.4.3.3-.2.2-.4-.2.4-.5-1.4-1.4-.3.2-.4-.4-.3.4-1.3-1.3-1.4 1.5 1.4 1.4.5-.2-1.1 1.3-.1-.1-1.5 1.4 1.5 1.5 1.7-1.4 1.1 1-.3.2-.4-.4-.3.3-.6-.6-1.8 1.6-.7-.7-.3.3-1.2-1.2.9-.8-1.4-1.5-1.5 1.5 1.2 1.2-.8.9.2.2-.6.6 1.4 1.5 1.1-.8-1.1 1.1.5.6zM453 112.3l-1-1 .2-.2.9 1 .4-.4.9.9-.8.8-.9-.8zM438.7 153.2l-.6-.5.2-.2-.3-.3.2-.3.4.4 2.1-1.9.2.2-.5.6-.3.3-.2-.2-1.5 1.4.5.6-.5.4-.1-.1zM412.9 173.3l.4.5-.4-.4zM415.5 163.7l-.8.7.7-.8zM420 164.8l-.1.2-.2-.2.2-.2zM408.2 173.5l1.3-1.3.8.8-.6.7-.9-.8-.9.9-.3-.3-1.4 1.5 1.2 1.2-.5.5-.6-.6-.4.4-.6-.7 1.2-1.3-1-1.1.3-.3.9.9 1-.9zM408.8 176.4l-.6.5-.5-.5.5-.6zM410.6 167.6l-.2-.3.1-.1.3.3zM409 162.7l1.2-1.2.2.3-.9 1-.3-.3zM411.6 161.6l-.1.3-.1-.1zM404.2 170.4l-.2.1-.2-.2-.7.6-.3-.3.8-.8zM403.2 169.4l.4-.2-.3.3zM410.5 169l-.2-.2.1-.1.4.6-.5.5 0 .3-.4-.5zM422.5 151.6l-.2-.1.1 0zM415.5 167.9l-.3-.4.4.3zM416.1 168.1l.2-.3 0 .1zM420.2 169.3l-.2.2-.3-.6.1 0zM425.8 160.7l.5.4-.1.1zM430.1 138.8l.3.5-.4-.4zM437.1 129.7l-.2-.2.3-.4.2.2zM439.3 128.3l.4-.5.3.3-.5.4zM439.1 125.2l.7-.8.5.5-.7.7zM441.2 148.8l0-.6.3.3.1-.1.2.2-.2-.2zM444 122.7l-.2 0 .1-.1zM442.4 124.7l0 .2-.1-.1zM449.7 118.8l0-.1.1 0zM448.7 116.8l-.2.2-.6-.6.2-.2zM447.4 119.8l-.2.1.9-1zM449.6 144.5l.3-.5.1.1zM452.5 143.6l.2-.2.3.3-.1.2zM460.9 131.2l-.5.5-.5-.6.5-.4zM471.4 95.8l-.3.3.8.8-.2.2-.8-.7-1.1 1-.5-.5 1-.9.3.3.6-.6zM473.9 115.5l.4.3-.4.4-.4-.4zM484.7 100.4l-.7.8-.5-.5.7-.7zM480.6 105.3l.3.3.3-.3.2.1-.5.5-.5-.5zM496.7 81l-1.3 1.2 1.3 1.3-.3.3.8.8-.1.1-1.2-1.2-.4.4-.1-.2.3-.3-.6-.7.3-.4-.6-.6.4-.4.5.6zM395.5 158.8l1.4 1.5 1.5-1.5-1.5-1.4zM405.1 158.9l-.7-.7-1.5 1.4 1.5 1.5 1.3-1.3.7.7 1.4-1.4-1.4-1.5zM388.7 164.4l1.4 1.5 1.5-1.5-1.5-1.4zM397.2 165l1.5 1.5 1.4-1.5-1.4-1.4zM378.7 166.1l1.4 1.4 1.5-1.4-1.5-1.5zM381.3 166.5l1.4 1.4 1.5-1.4-1.5-1.5zM395.2 167.6l1.4 1.5 1.5-1.5-1.5-1.4zM393 169.6l-2.7 2.7 1.5 1.5 2.7-2.7zM399.5 172.4l-1.5-1.5-.1.2-.8-.8-1.5 1.5.4.3-1.4 1.4 1.5 1.4 1.4-1.4-.2-.5.7.8zM387.8 173l1.5 1.4 1.4-1.4-1.4-1.5zM391.8 174.6l1.5 1.5 1.4-1.5-1.4-1.4zM397.3 177.3l.4.4-1.3 1.2 1.6 1.6-.9.8 1.5 1.5 1.4-1.5-.2-.2.5-.5 1.4 1.5 2-2.2-.9-.8.3-.3-.6-.5.3-.3-1.2-1.2.8-.7-2.7-2.9-1.3 1.3-.4-.4-1.4 1.5 1.1 1.3-1.4-1.5-1.5 1.5 1.5 1.4zM400.4 178.5l-.2.3.8.9-1.3-1.3-.5.4-.2-.3 1.2-1.2-1.2-1.2.3-.3 1.4 1.5-.8.7zM372.4 174.6l-1.4 1.4 1.4 1.4 1.4-1.4zM386.4 176.3l1.5 1.4 1.4-1.4-1.4-1.5zM383.2 179.2l1.4 1.4 1.5-1.4-1.5-1.5zM380.5 179.9l1.5 1.5 1.4-1.5-1.4-1.4zM396.9 180.7l-1.4-1.4-.5.4-.4-.5-1.5 1.5 1.5 1.4.4-.4.5.5zM408.1 182.5l-1.2-1.2.2-.3-1.4-1.4-1.5 1.4 1.2 1.3-.2.2 1.4 1.4-1.2 1.2 1.5 1.4 1.4-1.4-1.4-1.4zM369 181.3l1.4 1.5 1.4-1.5-1.4-1.4zM375 181.3l1.4 1.5 1.4-1.5-1.4-1.4zM372.2 182.7l1.5 1.4 1.5-1.4-1.5-1.5zM383.7 183.4l-1.9-1.8-1.5 1.5 2 1.8zM398 183.8l-.9-.9-1 1-1.3-1.4-1.5 1.4 1.5 1.5.9-1 2.4 2.2 1.4-1.4.4.4 1.4-1.5-1.4-1.4-1.4 1.4-.4-.4zM334.2 184.7l.7.7-.7.6 1.5 1.4 1.5-1.4-.7-.6.7-.7-1.5-1.5zM411.1 185l1.4 1.4 1.5-1.4-1.5-1.5zM388.8 185.6l-1.5-1.5-.2.2-.7-.7-1.4 1.5 1.4 1.4.2-.2.7.7zM373 188.8l1.7-1.8-1.4-1.4-1.7 1.7zM383.4 189.7l.8.8 1.5-1.4-1.1-1.1.9-.9-1.4-1.5-1.5 1.5.2.2-.7.7-.9-.9-1.5 1.4 1.5 1.5.8-.9 1 1zM393.4 187.9l1.5 1.4 1.4-1.4-1.4-1.5zM374.7 187.9l1.5 1.5 1.4-1.5-1.4-1.4zM362.2 188l1.5 1.4 1.5-1.4-1.5-1.4zM367.6 188.7l1.4 1.4 1.4-1.4-1.4-1.5zM386.1 189.2l1.4 1.4 1.5-1.4-1.5-1.5zM378.1 189.9l1.5 1.4 1.4-1.4-1.4-1.5zM394.5 189.9l1.5 1.5 1.4-1.5-1.4-1.4zM390.4 190.4l1.5 1.4 1.4-1.4-1.4-1.5zM400 191l1.5 1.4 1.4-1.4-1.4-1.5zM383.7 191.1l1.5 1.5 1.4-1.5-1.4-1.4zM361.2 192.7l-2.8-2.7-1.4 1.4 2.7 2.7zM366.2 191.4l1.5 1.4 1.5-1.4-1.5-1.4zM380.1 192.9l1.4 1.4 1.5-1.4-1.5-1.5zM406.7 193.2l-1.5-1.4-.8.8-.9-1-1.5 1.4 1.5 1.5.8-.8.9 1zM391.8 193.3l.6.6-1.2 1.2 1.5 1.4 1.4-1.4-.5-.6 1.1-1.2-1.4-1.4zM371.6 193.4l1.4 1.4 1.4-1.4-1.4-1.4zM376.3 193.5l1.4 1.4 1.5-1.4-1.5-1.5zM388.4 197.7l1.1 1 1.4-1.4-1.1-1.2 1.3-1.3-1.4-1.5-1.5 1.5 1.2 1.1-.4.4-1.1-1-.2.2-1.1-1.1.6-.7-1.4-1.4-1.5 1.4.4.4-1.1 1 2.6 2.6.6-.6 1.1 1.1zM343.2 194l1 1-1 1 1.4 1.4 1.4-1.4-1-1 1-1-1.4-1.4zM348.2 194l1 1-1 1 1.5 1.4 1.5-1.4-1-1 1-1-1.5-1.4zM353 194l1.4 1.4 1.4-1.4-1.4-1.4zM362.2 194l1.5 1.4 1.5-1.4-1.5-1.4zM334.2 194.3l1.5 1.5 1.5-1.5-1.5-1.4zM366.9 194.3l1.5 1.5 1.4-1.5-1.4-1.4zM374.1 194.7l1.5 1.5 1.4-1.5-1.4-1.4zM363.6 196.7l1.4 1.4 1.4-1.4-1.4-1.5zM393.1 197l.7.7-.2.3 1.4 1.4 1.4-1.4-.7-.7.3-.3-1.5-1.4zM370.5 197.4l1.5 1.4 1.4-1.4-1.4-1.5zM380.6 197.4l1.4 1.5 1.5-1.5-1.5-1.4zM359 198l.6.7-.6.7 1.4 1.4 1.4-1.4-.6-.7.6-.7-1.4-1.4zM389.1 199.5l1.4 1.4 1.5-1.4-1.5-1.5zM396.9 199.5l1.5 1.4 1.4-1.4-1.4-1.5zM392.6 200.1l1.4 1.4 1.5-1.4-1.5-1.5zM386.2 200.3l1.4 1.4 1.5-1.4-1.5-1.5zM384.1 203l1.2-1.3-1.5-1.4-1 1-.9-.9-1.5 1.4 1.5 1.5.8-.9.2.2-1 1 1.4 1.5 1.5-1.5zM388.2 202l1.5 1.4 1.5-1.4-1.5-1.4zM348.2 202l1.5 1.4 1.5-1.4-1.5-1.4zM380.4 202l-1.4-1.4-.4.3-.2-.1-1.4 1.4.4.4-.3.2 1.5 1.5 1.4-1.5-.2-.2zM372.5 204.7l-1.3-1.3-1.5 1.5 2 1.9.8-.8.8.8 1.3-1.3 1.2 1.2 1.4-1.4-1.4-1.5-1.3 1.3-1.2-1.2zM386.2 205.4l1.5 1.4 1.5-1.4-1.5-1.4zM380.4 205.7l1.4 1.4 1.5-1.4-1.5-1.5zM361.9 205.7l1.5 1.5 1.4-1.5-1.4-1.4zM351.2 210.7l-.7-.7.7-.6-.8-.7.8-.7-1-1 1-1-1.5-1.4-1.5 1.4 1 1-1 1 .8.7-.8.7.7.6-.7.7 1.5 1.5zM334.2 214l1.5 1.4 1.5-1.4-.7-.6.7-.7-1.4-1.3 1.4-1.4-1.4-1.3 1.4-1.3-.8-.7.8-.7-1.5-1.4-1.5 1.4.8.7-.8.7 1.4 1.3-1.4 1.3 1.4 1.4-1.4 1.3.7.7zM359 207.4l1.4 1.4 1.4-1.4-1.4-1.4zM377.8 210.2l1.5 1.4 1.4-1.4-1.4-1.5zM363.6 210.7l1.4 1.5 1.4-1.5-1.4-1.5zM343.2 211.4l1.4 1.4 1.4-1.4-1.4-1.4zM365.4 213.4l-2.4-2.2-1.4 1.5 2.3 2.2zM383.8 218l1 1-1 1 1 1-1 1 1 1-1 1 1.5 1.4 1.5-1.4-1-1 1-1-1-1 1-1-1-1 1-1-1-1 1-1-1.4-1.3 1.4-1.3-1.5-1.4-1.5 1.4 1.4 1.3-1.4 1.3 1 1zM353 216l1.4 1.4 1.4-1.4-1.4-1.4zM343.2 216l1.4 1.4 1.4-1.4-1.4-1.4zM393.8 219.8l1.5 1.4 1.5-1.4-1.5-1.4zM362.2 220l1.5 1.4 1.5-1.4-1.5-1.4zM334.2 220.4l1.5 1.4 1.5-1.4-1.5-1.4zM358.2 220.7l1.5 1.5 1.5-1.5-1.5-1.5zM352.2 222.7l1.5 1.5 1.5-1.5-1.5-1.5zM349.7 222l-1.5 1.4 1.5 1.4.7-.6.6.6 1.4-1.4-1.4-1.4-.6.6zM334.2 226.7l.7.7-.7.6 1 1-1 1 1.5 1.4 1.5-1.4-1-1 1-1-.7-.6.7-.7-1.5-1.5zM359 227.5l1.2 1.2-1.2 1.3 1.4 1.4 1.4-1.4-1.2-1.2 1.3-1.3-1.5-1.4zM364.2 230l1.5 1.4 1.5-1.4-1.5-1.4zM383.8 230.7l.6.5-.6.5 1.5 1.5 1.5-1.5-.6-.5.6-.5-1.5-1.5zM348.2 231.4l1.5 1.4 1.5-1.4-1.5-1.4zM383.8 237.8l1.5 1.4 1.5-1.4-1.5-1.4zM343.2 237.8l1.4 1.4 1.4-1.4-1.4-1.4zM413.7 133.3l1.4 1.5 1.5-1.5-1.5-1.4zM420.3 136l1.4 1.4 1.5-1.4-1.5-1.5zM418.8 141.4l1.5 1.4 1.4-1.4-1.4-1.5zM415.7 174l1.5 1.4 1.4-1.4-1.4-1.5zM418.5 178.4l-.5-.4.7-.7-1.4-1.5-1.5 1.5.5.4-.6.6-.3-.4.2-.2-1.4-1.5-1.5 1.5.7.7-.2.3 1.5 1.4 1.3-1.3 1 1.1zM414.5 184.1l1.5 1.4 1.4-1.4-1.4-1.5zM414.6 202.5l1.4 1.5 1.4-1.5-1.4-1.5zM426 133.8l1.4 1.4 1.5-1.4-1.5-1.5zM425.7 167.7l1.4 1.5 1.5-1.5-1.5-1.4zM425.4 173l-1.4-1.5-1.5 1.5.9.9-.6.6 1.4 1.5.4-.4 1.1 1.1 1.5-1.5-1.5-1.4-.4.4-.6-.6zM428.7 171l-1.5 1.5 1.5 1.4.8-.8.7.7 1.5-1.4-1.5-1.5-.8.8zM427.3 175.8l1.4 1.5 1.5-1.5-1.5-1.4zM431.9 121.6l1.5 1.5 1.4-1.5-1.4-1.4zM432.5 161.3l.9.9-.7.7 1.5 1.4 1.4-1.4-.9-.9.7-.7-1.5-1.4zM430.6 164l1.4 1.4 1.5-1.4-1.5-1.5zM436.6 90l1.4 1.4 1.4-1.4-1.4-1.4zM439.5 161.7l-1.4-1.5-1.5 1.5 1.1 1-1.1 1.1 2.1 2.2 1.4-1.4-1.7-1.8zM439 91l1.5 1.4 1.5-1.4-1.5-1.4zM438.7 159l1.5 1.5 1.4-1.5-.3-.3.6-.7-1.5-1.4-1.4 1.4.3.4zM441.2 105.7l1.5 1.5 1.4-1.5-1.4-1.4zM443.4 159.1l-.3-.3-1.4 1.5 1.4 1.4.6-.5.2.2 1.5-1.4-1.5-1.5zM442.5 165.3l1.4 1.5 1.5-1.5-1.5-1.4zM443.3 155.6l1.4 1.4 1.5-1.4-1.5-1.5zM444.7 150.4l1.4 1.5 1.5-1.5-1.5-1.4zM446.6 153.4l1.4 1.4 1.5-1.4-1.5-1.5zM451.9 155.7l-2.3-2.2-1.4 1.5 2.3 2.2zM451.5 101.2l1.5 1.5 1.4-1.5-1.4-1.4zM451.5 149.6l1.5 1.4 1.4-1.4-1.4-1.5zM453.1 105.4l1.4 1.5 1.5-1.5-1.1-1 1-1-1.5-1.4-1.4 1.4 1 1.1zM454 143l1.4 1.5 1.5-1.5-1.5-1.4zM455.2 140.4l1.5 1.4 1.4-1.4-1.4-1.5zM461.8 138.3l-1.4-1.5-.7.7-1.3-1.2-1.4 1.5 1.4 1.4.8-.7 1.2 1.2zM462 98.4l1.4 1.5 1.5-1.5-1.5-1.4zM461.8 136l1.5 1.5 1.4-1.5-1.4-1.4zM462.8 96.3l1.5 1.4 1.4-1.4-1.4-1.5zM464.7 89l1.5 1.4 1.4-1.4-1.4-1.5zM464.3 91.6l1.4 1.5 1.5-1.5-1.5-1.4zM468 90.5l1.5 1.5 1.4-1.5-1.4-1.4zM467.5 131.3l1.4 1.4 1.5-1.4-1-1 .9-.9-1.5-1.4-1.4 1.4 1 1zM471.6 86.9l1.4 1.4 1.5-1.4-1.5-1.5zM469.5 135.6l1.4 1.5 1.5-1.5-1.5-1.4zM472.4 120.2l.8.9-1.4 1.4 1.5 1.5 1.4-1.5-.8-.8 1.4-1.5-1.5-1.4zM476.7 125.6l-.1-.1.2-.3-1.4-1.5-1.5 1.5.2.2-.3.2 1.5 1.5zM477 79.7l1.5 1.4 1.4-1.4-1.4-1.5zM478.7 85l1.5 1.4 1.4-1.4-1.4-1.5zM477.7 112.3l1.5 1.5 1.4-1.5-1.4-1.4zM480.3 117.9l1.4 1.5 1.5-1.5-1.5-1.4zM522.6 47l1.4 1.4 1.4-1.4-1.4-1.4zM531.6 48l1.4 1.4 1.4-1.4-1.4-1.4zM518.6 50l1.4 1.4 1.4-1.4-1.4-1.4zM526.6 52l1.4 1.4 1.4-1.4-1.4-1.4zM514 61.5l1.5 1.5 1.5-1.5-1.5-1.5zM510.6 64l1.4 1.4 1.4-1.4-1.4-1.4zM506.6 68l1.4 1.4 1.4-1.4-1.4-1.4zM500.9 71.5l1.4 1.5 1.5-1.5-1.5-1.4zM496.5 72.1l1.5 1.5 1.4-1.5-1.4-1.4zM490.7 73.2l1.4 1.5 1.5-1.5-1.5-1.4zM502.9 74.8l1.4 1.4 1.5-1.4-1.5-1.5zM491.2 77.2l.7.7-.3.3 1.4 1.4 1.5-1.4-.7-.7.3-.3-1.4-1.4zM489.6 95.7l1.4 1.5 1.5-1.5-1.5-1.4zM486.3 104.3l1.4 1.5 1.5-1.5-1.5-1.4zM486.1 107.8l1.5 1.5 1.4-1.5-1.4-1.4z"/>
<line x1="335.1" y1="235.5" x2="541.2" y2="45.0" stroke="#8c8c8c" stroke-width="2"/>
<rect x="321.2" y="22.8" width="234.9" height="236.1" fill="none" stroke="#6c6c6c" stroke-width="1.7"/>
<path d="M318.7 258.9h2.5M321.2 258.9v2.5M318.7 237.4h2.5M342.6 258.9v2.5M318.7 216.0h2.5M363.9 258.9v2.5M318.7 194.5h2.5M385.3 258.9v2.5M318.7 173.0h2.5M406.6 258.9v2.5M318.7 151.6h2.5M428.0 258.9v2.5M318.7 130.1h2.5M449.3 258.9v2.5M318.7 108.7h2.5M470.7 258.9v2.5M318.7 87.2h2.5M492.0 258.9v2.5M318.7 65.7h2.5M513.4 258.9v2.5M318.7 44.3h2.5M534.7 258.9v2.5M318.7 22.8h2.5M556.1 258.9v2.5" stroke="#9a9a9a" stroke-width="1"/>
<text x="315.8" y="263.0" text-anchor="end">-6</text>
<text x="315.8" y="242.0" text-anchor="end">-4</text>
<text x="315.8" y="221.1" text-anchor="end">-2</text>
<text x="315.8" y="200.1" text-anchor="end">0</text>
<text x="315.8" y="179.1" text-anchor="end">2</text>
<text x="315.8" y="158.2" text-anchor="end">4</text>
<text x="315.8" y="137.2" text-anchor="end">6</text>
<text x="315.8" y="116.3" text-anchor="end">8</text>
<text x="303.2" y="95.3"> 0</text>
<path transform="translate(303.23 95.29) scale(0.01175 -0.01130)" d="M359 0L359 703L293 703C280 650 250 600 180 582C150 575 120 572 101 572L101 504L271 504L271 0Z"/>
<text x="303.2" y="74.3"> 2</text>
<path transform="translate(303.23 74.33) scale(0.01175 -0.01130)" d="M359 0L359 703L293 703C280 650 250 600 180 582C150 575 120 572 101 572L101 504L271 504L271 0Z"/>
<text x="303.2" y="53.4"> 4</text>
<path transform="translate(303.23 53.36) scale(0.01175 -0.01130)" d="M359 0L359 703L293 703C280 650 250 600 180 582C150 575 120 572 101 572L101 504L271 504L271 0Z"/>
<text x="303.2" y="32.4"> 6</text>
<path transform="translate(303.23 32.40) scale(0.01175 -0.01130)" d="M359 0L359 703L293 703C280 650 250 600 180 582C150 575 120 572 101 572L101 504L271 504L271 0Z"/>
<text x="322.0" y="273.9" text-anchor="middle">-6</text>
<text x="343.4" y="273.9" text-anchor="middle">-4</text>
<text x="364.7" y="273.9" text-anchor="middle">-2</text>
<text x="385.3" y="273.9" text-anchor="middle">0</text>
<text x="406.6" y="273.9" text-anchor="middle">2</text>
<text x="428.0" y="273.9" text-anchor="middle">4</text>
<text x="449.3" y="273.9" text-anchor="middle">6</text>
<text x="470.7" y="273.9" text-anchor="middle">8</text>
<text x="485.8" y="273.9"> 0</text>
<path transform="translate(485.75 273.90) scale(0.01175 -0.01130)" d="M359 0L359 703L293 703C280 650 250 600 180 582C150 575 120 572 101 572L101 504L271 504L271 0Z"/>
<text x="507.1" y="273.9"> 2</text>
<path transform="translate(507.11 273.90) scale(0.01175 -0.01130)" d="M359 0L359 703L293 703C280 650 250 600 180 582C150 575 120 572 101 572L101 504L271 504L271 0Z"/>
<text x="528.5" y="273.9"> 4</text>
<path transform="translate(528.46 273.90) scale(0.01175 -0.01130)" d="M359 0L359 703L293 703C280 650 250 600 180 582C150 575 120 572 101 572L101 504L271 504L271 0Z"/>
<text x="549.8" y="273.9"> 6</text>
<path transform="translate(549.82 273.90) scale(0.01175 -0.01130)" d="M359 0L359 703L293 703C280 650 250 600 180 582C150 575 120 572 101 572L101 504L271 504L271 0Z"/>
<text x="329.2" y="37.0" textLength="89" lengthAdjust="spacingAndGlyphs">y = 0.92x + 0.50</text>
<text x="329.2" y="55.4" textLength="47" lengthAdjust="spacingAndGlyphs">R = 0.95</text>
<text x="404.0" y="290.1" textLength="64" lengthAdjust="spacingAndGlyphs">log<tspan font-size="8.8" dy="2.8">2</tspan><tspan dy="-2.8"> Jensen</tspan></text>
<text x="297.0" y="187.8" textLength="76" lengthAdjust="spacingAndGlyphs" transform="rotate(-90 297.0 187.8)">log<tspan font-size="8.8" dy="2.8">2</tspan><tspan dy="-2.8"> Silicotryp</tspan></text>
<text x="12.4" y="310.4" font-size="14" font-weight="700" textLength="11" lengthAdjust="spacingAndGlyphs">C</text>
<text x="30.2" y="309.5" font-size="12" font-weight="700" textLength="118.5" lengthAdjust="spacingAndGlyphs">Ribosomes/kb (log<tspan font-size="9" dy="2.5">2</tspan><tspan dy="-2.5">)</tspan></text>
<path d="M81.7 342H239.1V443.9H214V370.8H81.7Z" fill="#dde5e2"/>
<path d="M21.3 445.2H257.7M139.7 327V563.5" stroke="#a2b9b5" stroke-width="1.8" fill="none"/>
<path d="M21.5 445.2v3M139.7 563.4h-3M51.0 445.2v3M139.7 533.9h-3M80.6 445.2v3M139.7 504.3h-3M110.1 445.2v3M139.7 474.8h-3M139.7 445.2v3M139.7 445.2h-3M169.3 445.2v3M139.7 415.6h-3M198.8 445.2v3M139.7 386.1h-3M228.4 445.2v3M139.7 356.5h-3M257.9 445.2v3M139.7 327.0h-3" stroke="#a2b9b5" stroke-width="1.3"/>
<text x="23.9" y="459.6" text-anchor="middle" fill="#8c8c8c">-8</text>
<text x="136.8" y="567.4" text-anchor="end" fill="#8c8c8c">-8</text>
<text x="53.4" y="459.6" text-anchor="middle" fill="#8c8c8c">-6</text>
<text x="136.8" y="537.9" text-anchor="end" fill="#8c8c8c">-6</text>
<text x="83.0" y="459.6" text-anchor="middle" fill="#8c8c8c">-4</text>
<text x="136.8" y="508.3" text-anchor="end" fill="#8c8c8c">-4</text>
<text x="112.5" y="459.6" text-anchor="middle" fill="#8c8c8c">-2</text>
<text x="136.8" y="478.8" text-anchor="end" fill="#8c8c8c">-2</text>
<text x="169.8" y="459.6" text-anchor="middle" fill="#8c8c8c">2</text>
<text x="136.8" y="419.6" text-anchor="end" fill="#8c8c8c">2</text>
<text x="199.3" y="459.6" text-anchor="middle" fill="#8c8c8c">4</text>
<text x="136.8" y="390.1" text-anchor="end" fill="#8c8c8c">4</text>
<text x="228.9" y="459.6" text-anchor="middle" fill="#8c8c8c">6</text>
<text x="136.8" y="360.5" text-anchor="end" fill="#8c8c8c">6</text>
<text x="258.4" y="459.6" text-anchor="middle" fill="#8c8c8c">8</text>
<text x="136.8" y="331.0" text-anchor="end" fill="#8c8c8c">8</text>
<path fill="#000" fill-rule="evenodd" d="M89 371.8l-1.2 1.2 1.2 1.2 1.2-1.2zM90.7 391.7l1.1 1.1 1.2-1.1-1.2-1.2zM87.1 399.9l1.2 1.2 1.1-1.2-1.1-1.1zM113 404.1l1.1 1.2 1.2-1.2-1.2-1.1zM109.3 409.1l-1.1-1.2-.9.9-1-1.1-1.2 1.1 1.2 1.2.8-.8 1.1 1zM109.7 413.6l1.1 1.1 1.2-1.1-1.2-1.2zM88.9 414.8l1.2 1.1 1.1-1.1-1.1-1.2zM62.4 425.8l1.2 1.1 1.1-1.1-1.1-1.2zM112.4 425.9l1.2 1.1 1.1-1.1-1.1-1.2zM80.9 426.6l1.1 1.1 1.2-1.1-1.2-1.2zM82 427.7l1.1 1.2 1.2-1.2-1.2-1.1zM117.3 431.6l-.3-.3-1.2 1.2.3.2-.4.4 1.2 1.2 1.1-1.2-.3-.2.2-.2.3.3.7-.7 1 1-1 1 1.1 1.1.8-.7.4.4.6-.6.7.5-.3.3 1.1 1.1.6-.5.2.2-.5.5.7.9-.6-.6-.7.8-.8-.8-1.1 1.1 1.1 1.2.7-.8.8.8 1.1-1 1.6 1.6 1.1-1.1.3.2-1 1 2.8 3.1.1-.1.6.6.4-.3-.9 1-.3-.3-.3.3-.5-.4.2-.2-1.2-1.1-.5.5-.4-.5-1.2 1.2.2.2-.6-.6-.3.2-.6-.6.5-.4 1 1 1.2-1.2-1.2-1.1-.3.3-.9-.8.4-.3-1.8-1.6-.6.6-.2-.2-1.4 1.1-.3-.3-.4.4.2-.2-.9-.9.1-.2.6.6 1.1-1.2-1.1-1.1-.2.1-.8-.7.5-.5-1.2-1.1-2.1 1.9 1.1 1.1.5-.4.3.4-.3.3-.2-.2-1.1 1.1 1.1 1.2.4-.4.5.6-.3.3.9.9-2.4 2 1.2 1.2.9-1 .1.1-.9 1 .4.4-.7.7.2.3-.6.6.9.9-.9.9 1.2 1.1-1-.9-.2 0-.5.4-.3-.4.3-.5-1.2-1.1-1.1 1.1.8.9-.4.4 1.2 1.2.4-.5.8.8.4-.2.9.8-.3.3-.9-.9-.8.7-.6-.7-1.2 1.2.4.3-.9.9 1.1 1.1.3-.2.8.8 1.2-1.1-1.2-1.2-.2.3.4-.5.7.7.6-.7 1 1 1.1-1.1-1.1-1.1.6-.6.2.3 1.2-1.1-1.2-1.2-.8.9-.3-.3.9-.9-.9-.9.9-.9-.3-.2.7-.7-.4-.4.7-.7-.5-.4.5-.5.4.4.5-.5 1.6 1.6-.7-.6-1.2 1.1 1.2 1.2.2-.2.8.8-.4.4-.3-.3-1.7 1.8 1.8 1.9.4-.4 1 1 1.1-1.1-.4-.4.2.1.7-.7.7.7.3-.3.3.3-1.1 1-.7-.7-1.1 1.2 1.1 1.1 1.2-1.1.5.5-1.8 2 1.1 1.2 2.1-2.2.8.9 1.9-1.7.6.6 1.1-1.2-.3-.3.7-.9.4.3-.7.8.1.2-.2.2 1.2 1.2.2-.2.4.4-.3.2 1.2 1.1-.2.2-.2-.2-.5.5-.2-.1.5-.5-1.2-1.1-.6.5.7-.8-1.2-1.1-2.2 2.1-.3-.3-.8.8-.2-.2-.8.8-.8-.7-1.1 1.1.2.2-1.5 1.3-.4-.5 1.2-1.1-.9-.8.3-.3-1.1-1.2-.2.2-1.1-.8-.4.2.9-.9-1.2-1.1-1.1 1.1.3.3-.6.6-.2-.3-1.5 1.4 2 1.9.3-.3.3.4 1.3-1.1.2.2-1.2 1.2 1.1 1.2 1.2-1.2.2.3-2.1 2.2 1.2 1.1 1.1-1.1 1.1 1 1.1-1.1-.3-.3.2-.2.5.5-.4.4.6.6-.4.5-.6-.6-.7.6-.3-.3-.5.5-.7-.6-1.1 1.1 2.1 2.1.8-.5.8.8 1.1-1.2-.2-.2.1-.2.4.4.1-.2.6.6-.3.4.7.7-.2.2.5.5-.3.3-.8-.8-.9.9-.9-.9-2 2.1 1.2 1.1.8-.8 1.1 1.1 1.1-1.1-.2-.2.2-.2.8.8 1.1-1.2-.5-.5 1.1-1.1-.4-.3 1-1-1.2-1.2-.1.2-.2-.2-.2.2-1.2-1.1-.1.2.3-.5-.6-.6 2 1.6.1-.2 1 1.1.5-.5.4.4 1.2-1.1-.5-.5 1.3-1.2.3.3-.5.5.6.5-.8.8 1.1 1.1-.7.7.4.4-.3.3 2.4 2 .4-.4 1.1 1.1 1.1-1.2-1.1-1.1-.4.4-1.1-1.1-.2.2-.3-.3.3-.3-.4-.4 1.3-1.5-1.8-2 .9.7.8-.5.5.5-.4.4 1.2 1.2 1.1-1.2-1-.9.4-.4.4.4.5-.5.2.2-.6.6.5.5-.2.3.4.4-.4.5.4.4-.4.3 1.1 1.2.4-.4.3.3-.1.1-.2-.1-.4.4-.7-.6-1.1 1.3 1.1 1.2.6-.5.5.5.2-.3.8.9-.9.9.3.3-.4.5 1.1 1.2.9-.9.5.5.4-.4.2.2 1.1-1.1-1.1-1.2-.4.4-.2-.2-.4.4-.5-.5 1.8-1.9-.3-.3.7-.7-.3-.3.3-.3.5.6.2-.2.2.1-.7.7.2.1-1.4 1.3 1.2 1.1 1.3-1.2-.1-.2.9-.9.6.6.9-.9.4.5 2-2-1.2-1.2-1.7 1.7-.4-.4-.9.9-.2-.2.7-.6-.7-.6.5-.4.5.5.6-.6.4.2 1.1-1.2-.8-.8 1.1-1.2-.3-.2.8-.6.7.8 1.2-1.2-1.2-1.1-.2.2.3-.3.8.8.2-.3.6.3-.5.5.6.8-.1.1-.3-.2-1.1 1.1.8.9-.1.1-.4-.5-1.5 1.6 1.6 1.6-1.1.8-.5-.6-1.1 1.2.1.2-.9.9.9.9-.8.8 1.1 1.2 1.9-1.8 2 1.7 1.2-1.2-1-1 1.1-1.1-1.2-1.2-1.1 1.2.4.4-.1.2-.7-.7-1 1-.6-.6.3-.3.5.6 2.5-2.3-.8-.7.3-.3.7.6 1-1 .7.7 1.1-1.2-.2-.3.1-.1-1-1.1.6-.6.8.8 1.2-1.1-1.5-1.8-.8.8-.4-.3-1.1 1.1 1 1.1-.9.8-.8-.8.8-.9-.2-.2 1.9-2-.9-.9.8-.7-1.2-1.2-.8.8-.2-.2 1.1-1.3-.7-.7.1-.1 1.2 1.4-.3.4 2.6 2.4 1.2-1.2-.5-.5.2-.2-.7-.8 1-1.1-1.1-1.2-.3.4-.9-.9-.8.8-.1-.3.7-.7.6.5.7-.7.2.2 1.2-1.1-.4-.4.5-.6 1.1 1.2 1.2-1.2-.2-.1 1.5-1.9-.1-.1.7-.7-.8-1 .5.6.3-.4.6.6 1.4-1.5.4.1.6-.6.2.2-.9.9.2.2-.4.4.4.3-.5.5-.2-.3-1 .9-.6-.6-1.1 1.2.2.2-.3.4 1.1 1.1 1.2-1.1-.3-.3.2-.1.6.6.5-.5.3.2.5-.5.2.2.5-.5.3.3.7-.5 1.3 1.1 1.1-1.2-1.1-1.1-.8-.2.3-.2.2.2.4-.4.2.3 1.2-1.2-.6-.6.2-.2.9.8 1.1-1.1.7.5 1.1-1.2-1.1-1.1-.3-.2-.9.9-.9-.9-1.1 1.2.5.5-.2.2-1.3-1.3.6-.5.5.5 1.1-1 1 1 1.7-1.7.2.3 1-1 .3.4-.6.6 1.2 1.2 1.1-1.1 1.6 1.4 1.1-1.1-.3-.4.8-.9-.4-.4 1-1-.4-.4.8-.8-1.1-1.1-1.2 1.1.4.4-.8.8.4.4-.8.8-.6-.6-.5.5-.9-1-1 1-.2-.2 1-1.1-.7-1 .3-.4 1.2 1.2.4-.5.4.4.8-.8.3.3 1.1-1.2-1.1-1.1-.2.1-.7-.8-.3-.6.3-.3.2.2-.2.3 1.1 1.1.8-.7.5.5 1.1-1.1 1 1 1.2-1.1-.8-.8.5-.4-1.2-1.2-1.1 1.2.7.7-.4.4-.8-.8.2-.3-.5-.5 1-1-.4-.4.2-.2-1.1-1.3.5-.6-.9-.9.3-.3.2.2.4-.4 1.1 1.1.6-.5.7.6-.1.2-.7-.7-1.1 1.2 2.9 3-.7.8 2.2 2.1 1.2-1.1-.4-.4.7-.7-.6-.5.4-.4.7.7.5-.4.2.2 1.1-1.2-1.1-1.1-1.2.8-.7-.7.3.1 1.1-1.1-.7-.8.5-.5-1.1-1.2-.3.2-.1-.1.7-.7.3.3.4-.4 1 1 1.1-1.2-.5-.5.2-.3.7.7.8-.8.7.7 1.1-1.1-1.1-1.2-.8.8-.7-.7-1 .9-.5-.5.9-1.1-.6-.6.3-.2-.2-.2 1-1-.4-.4.2-.2.6.5-.4.4 1.1 1.1 1.2-1.1-.3-.3.3-.3.5.4 2-2.3-1.2-1.1-1.8 2.1-.3-.3.8-.8-1.1-1.1-.6.5-1-1 .7-.7.2.2 1.1-1.1-.8-.9.7-.7-1-.9.3-.3-1.1-1.2-.3.3-.2-.2.3-.3 1.5 1.4.5-.4.6.5 1.1-1.1-1-1.1.2-.2-1.1-1.2-.7.8-.4-.4-.7.7-.6-.7-.5.5-.5-.5 1.3-1.1 1.1 1.1.4-.5.2.2.7-.6.4.5-.3.2 1.2 1.2 1.1-1.2-.5-.5.3-.2-1.3-1.4.8-.8-.7-.7.2-.2.9 1 1.2-1.1-1.2-1.2-1 1-.9-1-.3.2.3-.3.9.8 1.1-1.1-.6-.7.6.5.7-.7.3.3-.8 1 1.2 1.2 1.1-1.2 0-.2.4.5.6-.3 1 1 .5-.4.1.1 1.2-1.3-1.1-1.1.4-.4.5.6-.3.3 1.2 1.2 1.1-1.2-.7-.7.4-.3-1.2-1.1-.4.4-.6-.6-.1-.3.3-.3-1.1-1.1.2-.2.3.3 1.1-1.2-.8-.9 1.7-1.4-1.2-1.2-1.1.9.4-.5-.8-.8.5-.5-.3-.2.4-.4-.4-.5.2-.2.3.3.4-.4.8.7 1.1-1.1-.3-.3.1-.2.9.9 1.2-1.1-.3-.3.3-.3-1.1-1.1-1.2 1.1.2.4-.9-1-.7.8-.5-.4-.8.8-.5-.6-.9.9-.3-.4.6-.6-1.1-1.1-.2.2-.3-.3 1.1-1.2-1.2-1.3.4-.3-1.2-1.2-1.1 1.2.9.9-.6.6 1.1 1.2-.7.4.3-.4-1.1-1.1-.5.4-.3-.3-.3.4-.1-.1 1-1.1-.7-.7.2-.2-.6-.7.3-.3-.3-.2.2-.1-.6-.6.9-1-1.8-2-.2.3-.4-.3.5-.5.8.7.8-.8.2.1.2-.2.5.5-.9.9 1.2 1.2.4-.5.3.3 1.1-1.1-.1-.2.8-.9.7.7 1.2-1.2-.7-.7.9-.9-.5-.6 1-.9-1.2-1.2-.4.4-.5-.5-1.2 1.1 1.1 1.1-.3.3-.5-.4-1.1 1.2-.4-.4.2-.3-1.2-1.2-1.1 1.2.2.4-1.5 1.1-.5-.4 1.2-1.2.2.2 1.1-1.1-1.1-1.2-.4.5-.8-.8-.3.3-.9-.9-.1.1-.1-.1 1.3-1.1-1.2-1.2-1.5 1.4 1.1 1.1-.8.8-1.3-1.6-1.5 1.4.8.9-.7.6.4.4-.2.1-1-.8-.2.2-.7-.6-1.1 1.1.6.6-.4.4.4.5-.4-.4-.3.4-1-.9-.5.5-.2-.2-.3.2-.9-1.1.2-.2 1 1.1 3.2-3.3.6.5 1.2-1.1.1-.4-1.1-1.2-.2.2-.6-.6-.5.5-.2-.2-.5.5-.7-.7-1.2 1.1.5.5-.5.5-.6-.7-1.2 1.2.3.2-1.1 1.1.7.6-.3 0-.5.5-.7-.8-.3.3-.7-.7-.9.9-.5-.5-1 1-.4-.4-.4.4-.3-.2-.5.4-.9-.9-.2.2-.4-.5-.2.2-1.1-1-.8.9-.7-.8-1.8 1.7.7.7.5 1.1-1.7-1.7-.7.7-1.1-.6-1 1.1-.4-.4-1.1 1.1 1.5 1.7 1-1.1.9.9 1-1 1 1-1 1 1.2 1.1.5-.5.4.4.6-.6.3.3-.5.6.2.3-.1-.1-1 1-.2-.3-1 1.1-.4-.4.2-.2.4.4 1.1-1.2-1.5-1.7-.6-.5-.1.2-.8-.9-1.4 1.7.3.4-.4.4.7.7-1.1.8-.8-.8-1.2 1.1.9.9-.6.6-.9-.7.5-.6-1-1 .5-.5.6.7.8-.8.4.3 1.1-1.2-.2-.2.6-.7-.2-.2.2-.3-1.1-1.1-1 1-1.2-1.3.8-.8-.2-.2.1-.1-1.2-1.2-.2 0 .2-.2-1.1-1.2-.3.1-1.2 1.1.8.8-.1.2 1.8 1.7-.8.8.6.6-.3.3-.5-.5.1-.1-.5-.6.4-.5-1.1-1.1-.8.7-.4-.4-1.1 1.2 1.7 1.7.3-.3-.1.3 1.2 1.1.2-.2 1 1-.4.4-.6-.6-1 1-.8-.8-.3.3-.2-.2 1-1-1.2-1.1-1.1 1.1.7.7-1 .9-.4-.4.4-.4-1.1-1.2-1.2 1.2.8.8-.4.4.4.7-.3.4.6.7-.3.3.7 1.2-.7.7.4.3-.4.4-.4-.3.2-.2-1.5-1.3-.2.2-.7-.6-.4.4-.3-.3.6-.6-.3-.3.2-.3-1.1-1.1-1.2 1.1.3.3-.2.3.9.9-.3.3-1-1-1 1 .9-1-1.1-1.1-1.2 1.1.4.4-.9.9 1.1 1.2 1-1 .8.8.9-.9.1.2-.4.4.7.7-.3.4.2.1-.3.3.3.3-.3.2-1.7-1.7-1.7 1.7 1-1.1-1.2-1.2-1.1 1.2.5.5-.5.6-.5-.6-1.2 1.2.2.2-.6.7-.4-.4-.6.6-.7-.6.4-.4-1.1-1.2-1.2 1.2.3.2-.6.6 1 1-.2.2 1.1 1.2.8-.8.5.5-.3.3-.2-.3-1.1 1.2 1.1 1.1.8-.7.2.2 1.2-1.2-.7-.6.7-.7-.4-.4.3.3 1.2-1.1-.3-.2.4-.4 1.2 1.2-.6.6-.2-.3-1.2 1.2 1.2 1.1.9-.9.2.4-.8.8.4.6-1-1.1-.7.7-.2-.2-1.1 1.1 1.3 1.7-1.1 1.1.1.1-.3.3.3.4-.2.1-.7-.7-.4.3-.5-.5-1.2 1.1.2.3-1 .9.2.2-.2.2.9.9-.7.7.6.6-.2.2-.4-.4-.2.2-.6-.6.4-.6-.7-.7.6-.8-.1-.2.5-.1 1.1-1.2-.3-.3.2.1 1.2-1.1-1.2-1.2-.6.3-.7-.5-.3.4-.2-.2-1.1 1.2.4.4-1.1 1.2.3.2-1.7 1.8-1-1.1-1.6 1.6-.7-.8-.4.4-.7-.7-1.2 1.2 1.2 1.1-.8.8 1.6 2 .2.1 1.1-1.1.2.2-.5.5 1.1 1.2.9-.9-.9 1 1.2 1.2.6-.6-.5.4.6.5-.4.4.2.1-1.6 2-.3-.3 1.8-1.6-1.1-1.1-3.1 2.5.7.7-.9.9.3.2-.6.6 1.1 1.2.5-.5.8.8.2-.2.1.1-.9.9.8 1-1.3 1.2 1.1 1.2.6-.6.3.3 1.1-1.1-.7-.8 1 .8.3-.2 1.2 1.4-.3.4 1.6 1.4-.3.3-1.1-1.1-.7.6-1.9-1.7-1.1 1.2.3.3-1.2 1.1.9-1-1.1-1.2-.4.4-.1-.1.5-.6-.8-.8 1.1-1-1.2-1.1-.7.4-.2-.2-.3.3-.3-.3-1.2 1.1.8.8-.2.2-1-.9.6-.5-1.2-1.2-1.8 2.1-.9-.9-1.1 1.2 1.7 1.8-1.6 2 1.2 1.1 1.1-1.1.6.7 1.4-1.1.6.6.9-.9.6.6.8-.4-.5.6.4.4-.5.5-1.1-1.1-1.1 1.2.8.8-.3.3.5.5-.6.6.1.2-.2.1.4.3-.5.5.1.2-.4.4-.3-.4-.3.2-.1-.2-.8.8-.3-.4.2-.2.2.2 1.1-1.1-1.1-1.2-.3.3-.2-.2-1.2 1.1 1 1-.2.1-1-.9-1.1 1.1-1-1-.4.5-.5-.4-1.1 1.1 1.1 1.2.5-.5 1.2 1.3-.6.6-1.1-1.2-1.1 1.2.2.2-.4.4-.3-.3 1-1-.3-.3.4-.3-.5-.5.3-.3-.6-.5.5-.5-1.2-1.2-.3.3-.6-.7.2-.2.7.6 1.1-1.1-1.1-1.2-1.1 1.2-.7-.7-2.5 2.3-1.2-1.1-1.1 1.1.2.2-.3.3 1.1 1.1 1.2-1.1-.2-.2.2-.2.6.6-.5.6 1.1 1.1.4-.4zM157.7 454.1l.2.2.3-.3.5.5-.3.3zM158.1 449.7l0-.2.1.1zM158.8 448l.2-.2-.2-.5.9.9-.3.3zM160.1 400.2l.2-.3.3.2-.3.3zM160.1 399.1l.2-.2.3.5 0 .1zM159.9 392.7l.3-.3.1.2-.2.2zM159.9 392.1l0-.1.1.1zM159.2 390.4l-.7.8-.4 0-.4.3-.4-.3.5-.8-.3-.3.2-.2-1.1-1.2-.5.6-.2-.2.2-.2-.6-.5 1.2-1.1-.4.5 1.1 1.2.7-.7.4.3-.5.5 1.2 1.1.7-.7-.8.8.9.9zM144.4 461.7l-.5-.5-1.1 1.1.1-.1-.4-.4.3-.3-.5-.4.2.1 1-1 1.1 1.1.5-.5.3.3-.2.3-.2-.2zM146.3 461l.4.6-.5-.5zM145.3 459.7l-.7-.7-1 1-.1-.1 1-1-.2-.2.4-.4-1.7-1.7.5-.6.7.8-.4.4 2.6 2.5-.6-.5zM145.8 455.1l-1.1-1 .8.7.4-.2.3.4.7-.7.3.3 1.1-1.2-.8-.9.9-.9-1-1 .9-.6-.7.8 1.1 1.1.9-.8-1.5 1.8.5.5-1 1 .5.5-.5.4.9 1.1-.2.2-1.2-1.4-.8.8-.6-.7zM145 450.4l-.5-.5.6-.5 1.8 1.4-.3.3-.4-.3-.3.1-.7-.7zM145.4 444.6l.4.6-.3.3-.5-.5zM147.6 405.9l1.2-1 .3.6-.2.1-.3-.3-.8.8zM146.7 403l.2-.3.5.6-.5-.4zM148 400.1l.4.4-.2.3-.4-.5zM133.1 448.8l.2-.2-.3-.4-1-1 .5-.5.6.7.2-.2.9.9-.9.9zM133.9 441.1l.2.3-.3-.3zM128 436.6l-.3.1-.7-.7-.1-.3.5-.5.8.8.4-.4-.6.6 1.2 1.2.4-.5.3.3.2-.2 1.4 1.2-.9.9 1.1 1.2.6-.5 0 .4-.6.6-.7-.7-.2.1-1.3-1.4-.3.3-.7-.6-.3.4 1-1.2zM129.2 432.9l-.3.4.5.6-.4.6-.3-.2.3-.3-.8-.9.6-.6zM119.1 430.3l.1.2-.4.4.4.5-.1.2-.8-.8.3-.3-.9-1 1.1 1.1zM123.5 434.3l-.1-.1.1.1zM125 434.5l-.6-.7.2-.2.6.7zM123.8 430.5l.9.7-.1.1zM125.7 432.5l-.9.8-.8-.8.3-.3.8.8 1-.9.7-.7.4.4-.4.4.9.8-.7.7zM128.3 453.7l-.8-.7.1-.1zM128 449.1l-.3-.4.5.6-.7.6-.2-.2zM122.3 442.6l.4.5-.5-.5-.3-.4 1.3-1.2-1 1.1.3.3zM123.4 445.9l1.2-1 .1.2-1.1 1zM125.7 449.1l.3.3-.2.2-.4-.4.5-.5-.8-.9.2-.1-.4-.4.4-.3.5.5.6-.6-.8.9.7.7zM123.7 449.6l.2.2-.3-.2zM126.4 423.8l-.9-.8.9-.9 1.1 1.1.5-.5.2.2.8-.7.5.6-.1.1.3.3-.4.3-.6-.6-.9.9-.6-.6zM132.4 436.8l1.1 1 .3-.3.1.2-.8.7-.1-.2.4-.4zM131.6 428.9l-.9.9.3.3-.4-.4-.4.5-.2-.1.7-.7-.4-.3.6-.8zM132.3 426l-.2-.2.4-.4.9.8-.3-.2-.2.2-.4-.4zM130.8 427.4l.1.2-.1-.1zM130.6 426.6l-.4-.2.1-.1zM132.6 432.1l0 .1 0-.1zM132.7 436.3l-.2.2-.3-.3.2-.3zM129 445.8l-.3-.4.4.3zM129.5 448.2l1-1.1-.2-.2.2-.3.3.3.2-.2.6.6-1 1.2-.7-.7zM132.1 444.6l.3.3-.5.4-.1-.2-.3.3zM129.7 450.3l-.5.3 1.4-1.2.4.4-.8 1zM134.9 426.4l.6-.7.1 0zM136 434.1l.2.2-.2-.2zM135.7 436.9l.2.4-.3-.3zM134.9 459.3l-.4.4-.5-.5.4-.4zM129.1 460.1l-.1-.1.2-.3.2.1zM128.4 457.2l-.6.5.6-.6zM123.6 456.1l.2.3-.3-.3zM131.4 458.5l.3-.4.3.2-.9.9-.4-.4.5-.5zM132.7 455.9l.1 0 0 .1zM130.6 459.9l.5-.5 1.5 1.5-1.1-1-.3.4zM137.5 420.2l.3.3-.3-.3zM137.6 413.5l.2.2-.2-.2zM138.4 411l-.4.6-.2 0zM136.4 409.2l-.4.4.9-.9-.8-.8.2-.2 1.5 1.2.4-.3.2.2-1.3 1.2zM134.5 407.2l.5.5-.3.3-.5-.6-1.1 1.1-.3-.3.4-.4-.1-.2 2.2-2.2 1.1 1.1.3-.2.3.3-.4.4-1-.9zM131.8 406.9l-.5-.4.1-.1zM134.3 416.4l-.2.2-.7-.7 1-.9.1.1-.7.7zM135.6 417.2l-.1-.1.7-.8.4.4-.3-.1zM140.4 456.3l-.1-.2.3-.2.1.1zM141.4 443.7l-.1-.1.1.1zM141.2 442.5l-.1.1.1-.1zM141.2 441.9l.2.2-.2.2-.3-.3zM143.2 424.2l.3.3-.3.3.2-.4zM143.2 418.6l-.8.7.7-.8zM142.9 412.1l.3.3-.1.1-.3-.3.2-.3zM141.2 411.2l-.9-.9.4-.3-1.1-1.1.4-.4 1.1 1.1 1.2-1.2-.6-.7.6.5 1.4-1.2.9.9.5-.4-.6.6-.5-.5-.5.5-.4-.4-1.1 1.2 1.2 1.2-.1.1-.7-.7-1.2 1.1.3.3zM145 404.6l-.8.9-.3-.3.5-.5.3.3zM135.6 458.6l.4-.5-.2-.3.2.2.8-.6 1 1 .4-.4.5.5.9-.7-.8.8.4.3-.2.3-.4-.4-.5.5-.7-.8-1.1.9zM137.5 453.4l-.4.4-.4-.3.4-.5zM138.3 451.4l-.1-.1-.4-.3.1-.1zM135.8 453.9l-.1-.1.6-.6.1.1zM135.7 450.5l.3 0-.1.1zM135 448.8l-.3-.4.4-.4.4.4zM141 421.4l-.2-.2.2.2zM140 412.5l-.2-.4.3.3zM141.3 411.5l.9.8-.5.5-.9-.8zM138.5 413.5l.8.7-.2.2-.8-.8zM139.2 408.8l.2.2-.3.2-.2-.2zM142.3 404.4l.4.4-.8.8.5.4-.6.4-.9-.9.7-.7-.2-.6.2-.2.6.6zM138.8 448.2l.2-.1-.2.2zM142.5 415.3l.2.3-.3-.3zM142.5 414.1l-1-.8.1-.1zM142 414.7l.1-.2 0 .1zM142.7 464.4l-.1-.3.2.2zM144.3 454.3l-.7.8-.4-.4.3.1.7-.6zM144.2 449.7l-.3.2.1-.4zM142.4 456.3l.2.3-.3-.2zM142.7 452.9l-.4.4-.2-.2.3-.3zM146.2 404.8l.2-.1-.1.2 1 1-.2.2-.3-.4-.6.6-.2-.2-.5.4.7-.7-.9-1 .4-.4zM144.5 401.1l.2-.2.8.9-.2.1zM146.4 408l.7.4-.4.4.2-.3zM143.7 424.5l.3.1-.1.1zM146.6 395.4l-.2-.2.7-.7.1.2zM147.5 400.3l-.3.2-.4-.4.2-.2zM151.9 453.9l0 .1-.1 0zM150.4 445.6l.9.8-.2.1-.1-.3zM154.2 402l-.6.4-.2-.2.5-.5zM152.3 394.5l.2-.2-.3-.2.3-.3.9.9.3 0-.1.2.2.3.7.7-.4-.3-.9.8-.2-.3.5-.5zM149.4 447.7l-.3-.2.1 0zM150.3 403.3l.1-.3.1.1zM149.9 399.6l-1.1-1 .1-.2.8.8 1.1-1 .4.4-1 1 .6.6-.1.1-.6-.5-.6.5-.2-.1zM152 398.9l-.2 0 .1-.1zM150 396.5l-.8-.8.8-.8.6.6.4-.3.7 1-.4-.2-1.2 1.1-.3-.4zM151.3 393.3l-.3.3-.2-.2.3-.3zM147.7 446.1l.2-.3.1 0zM147.2 442.6l-.6.3.5-.5zM146.9 443.5l-.2 0 .1-.1zM148.8 397.6l-.3.1.2-.2zM149.8 457.4l.5-.4.2.2-.4.4-.4-.1-.2.2zM149.1 460.5l-1.1.9-.2-.2.7-.7-.4-.3.4-.4zM148.1 458.3l.4-.5.3.3-.5.5zM152.1 403.2l.7.7-.7-.7zM152.1 401.9l.4-.4.5.5-.4.4zM155.7 462.1l-.1-.1.1 0zM152.8 451.5l.9-.5.9.8-.6.6.2.2-.2.3zM154.5 448.5l1.4-1.6.4.1.3-.3.4.5-.3.3-.3-.3-1.1 1.1.7.8-.3.3-.2-.3-.2.2zM154.2 446l-.6-.6.4.3.6-.6.3.2-.3.3.1.2-.5.5zM155.1 443l.7-.5.2.2.4-.4.1.2-.5.5-.3-.3-.5.5zM156.9 400.9l-.2-.2.2-.1.1.1zM157.1 399.8l-.5.4.4-.5zM154.8 393.1l.6-.9-.3-.4.5-.6.6.6-.2.3.3.4-1.2 1.3-.1-.2.1-.2zM153 455.1l.3.5-.4-.3zM153.8 454.3l-.4.4-1.1-1.1 1 .9.4-.4zM155.1 397.9l.6.7-.3-.1-.9.5-.2-.3zM156.6 442.5l.2-.2.4.4-.2.1zM157.6 413.2l-.1.1 0-.1zM171.1 439.9l.9-1.2.3.3-.9.9 1.2 1.1.8-.8.3.2-.9.9-1.1-1.1-.2.1zM172.2 394.3l.2.1-.1.1zM171.3 383.2l-.3-.3 1-1.1-.2-.3.2.3-.5.5.5.5zM172.8 379.9l.1.2-.1.2-.2-.2zM164.1 442.5l1.1-.6.4.3-.4.4-.3-.4-.5.6zM165.9 440.6l0 .1 0-.1zM165.4 440l-1.3-1.4.1-.1 1.3 1.4zM165.1 394l.7.5-.3.5-.4-.4.3-.3zM161.1 444.9l-.6-.6.2.1.3-.3.4.5 1.3-1.1-1.1 1 1 1.1-.6-.6-.3.4-.5-.5-.3.3zM161.5 436.7l.3.2 0 .1zM163.7 390.8l.2.1-.4.4.8.8-.4.4.1.3-.3-.3-.3.4.7-.9-.8-.8zM161.1 448.8l0 .3-.8-.8.4-.4.7.7zM161.8 404.3l-.2.2 0-.3zM162.1 397.6l-.5-.6.5.5zM162 392.3l.1 0-.1 0zM162.1 391.5l.6-.7.2.1-1 1-.2-.4.2-.2zM161.9 383.7l.2-.2.1.2-.2.2zM160.4 395.3l.1-.1-.1.1zM162.7 395.1l-.3 0 .1-.1zM163.4 445.6l-.1.3-.4-.4.2-.1zM163.6 438.2l-.2.1-.3-.3.1-.2zM165.4 389l.2-.2.2.2-.2.2zM166 388l-.1-.4.2.3zM164.3 444.2l-.2-.1.1 0zM167.4 443l.3-.2-.4.4-.2-.4zM168.4 440.2l-.3.3.3.3-.5-.4.4-.4zM169.6 392.2l-.1.1.1-.1zM166.7 435.3l.1-.3.1.1zM168.3 382.5l-.4-.3.3-.3.3.3zM168.6 445.1l.3-.3.2.3-.3.3zM172 385.9l-.4.5-.2-.2.1-.2zM169.7 378.6l1.2 1.1.2-.2.2.2-.4.4-1.5-1.2zM171.7 380.1l.2-.1.3.3-.1.1zM180.1 431.3l.6.8-.7-.7zM179 431.5l-.2.2-.8-.8.5-.4-1-1.3.7.5.5-.5.2.2 1.1-1.1-.2-.4.4.4-.8.8.5.4-.3.3-.2-.1-1.1 1.1zM178.7 420.2l.4.4-.4-.4zM179.5 415.6l.1 0-.2.2zM180.8 413.1l.3.3-.7.7-.1-.1.7-.7zM182.9 394.6l-.1.1-.2-.2.1-.1zM183.1 390.4l-.2.2-.2-.3.2-.2zM183.4 385.6l1.5 1.3.3-.1-.6.6-.5-.6.3-.2zM183.6 382.1l-.4-.5.8.4-.7.8 1 1.2-1.4-1.3zM173.2 439.3l.9-.9.3.2-1 1-.5-.6zM173 437.2l-.2-.2.3-.2.4.4.8-.8.2.1-.8 1-.5-.5zM174.1 435.5l-.3-.3.4-.5.4.4zM175.5 433.2l.4.4 1.2-1.1-.1-.3.7.7.6-.5.5.5-.4-.2-1 .9-.4-.4-.8.8-.7-.7-.2.2-.5-.5.1-.1.5.4zM176.3 386.2l-.4-.4-.3.3-.6-.3.6-.7.6.6.9-.8.5.5zM176.8 380.2l.7-.8.8.9 0 .3-.5.5.3.5-.5-.5-.6.6-.2-.3.6-.6zM173.9 385.9l.3.1-.4.4.3-.3zM173.6 383.4l.4-.4-.4-.4.2-.3-.4-.4.3-.3 1.1 1.1 1.1-1.1.2.2-.6.6.6.6-.5.6.2.2-.7.8zM175.4 380.6l-.2.2-.4-.4-.5.4-.1-.1.7-.6zM173.6 433.1l.4-.5.4.4-.2.3-.4-.4zM176.3 426.8l-.5-.5.5.5zM176.4 434.9l-.5.3.4-.4zM178.8 395.3l0-.2.2-.3.4.2zM179.8 387.3l-.3.3.8.8-.5-.4-.7.7-.4-.3.8-.8-.4-.4.3-.3zM181.5 381.7l.5-.5.1.1-.8.8.2.4-1.1-1.1-.3.1.4-.4.3.4.3-.2zM178.5 426.9l-.2.2-.1-.2.1-.1zM180.8 386l.9.9-.1.2-.2-.2.2-.1zM181 383.5l.1-.1-.1.1zM180.8 388.6l.1.3-.2-.2zM186.6 432.2l.1.3-.2-.2zM186.6 429.6l-.1-.1.2-.3.1.2zM185.6 426.3l-.5.5.3-.3-1.2-1.2-.3.1.2-.2.6.5.8-.8.4.3.4-.4.5.5-1 1 1 1zM186.7 423.5l-.6-.4.1-.1zM185.5 420.3l-.3.1.4-.4.3.3 1.2-1.1-1.2-1.2-.3.4.6-.6-.3-.3.5-.4-.5-.5.9-.9-.6-.7.6.5.1-.2.7.7-1.4 1.7.7.7-.3.2 1.2 1.1 1.1-1.1-.7-.7.5-.6.9.8.8-.7-3.9 4.6.2.2-.4.4-.4-.4.7-.7zM188 412.3l-.1-.3.1.2zM187.6 410.1l.1 0-.6.5zM186.9 408.2l-.2-.2.6-.6.2.2zM187.1 406.3l-.3-.4.3-.3.4.3zM186.8 401.2l.6.6.4-.3.2.3-.5.5-.8-1zM186.9 397.8l.3.4-.3.4-.1-.2.2-.2-.3-.3zM186.9 393.3l.3.3-.1.1zM188.2 388.2l-.2.4.3.2-.7.7.5-.5-.4-.3zM186 387.3l.7.7.1-.1-.2.2zM187.5 385.6l.2.2-.5.5-.3-.4zM188.5 380.8l-1.1-1 .3-.3.1.2 1-1 .6.7-.2.2.8.8-.3.4.2.2-.9 1 .3.4-.4.3.4.4-.5.6-.6-.6.7-.7-1-1zM181.2 425l.3.4 1-.9-1.1 1.1-.4-.4zM183.8 419.9l-.7.7.2.2-.3.2-.5-.2 1-1-.2-.4zM183 418.6l.1-.3.1.1zM183.1 418.2l-.3-.3.2-.1.2.2zM182.8 411.4l.3.4-.2.2-.3-.3-.3.3-.1-.1zM182.7 407.8l.3-.3.3.3-.3.2 1.1 1.1-.1.2-1.4-1 .3-.4zM181.6 420.5l-.3-.3.2-.2.3.3zM180.7 416.1l.3 0-.1.1zM184.8 383.6l.5.5.2.3-.2.2-.8-.7zM184.1 388.6l.4-.4.8.9-.2.2zM185.7 410.5l.6.6-.7.7.6.6-.2.2-.6-.7.2-.3-.4-.4zM184.1 395.1l0 .1-.5-.5zM185.6 399.4l-.1-.3-.8-.8 1 .9zM183.7 398.2l.2-.2.2.1-.1 0zM185.6 406.4l.1-.2-.4-.4.2-.4.6.6zM184.8 404.1l.7.6-.2.2-.2-.3zM185.5 408l-.5-.3.5-.4.4.3zM185.6 429.7l-.8-.7.5-.5 1.1 1-.8.7-.2-.3zM185.1 423.7l-.2 0 .2-.1zM183.8 427.2l-.1.1-.1 0zM189.3 377.5l-.6.7-.3-.3.7-.6zM192.1 400.6l1.6-1.7-.5-.7.6.6-.2.2 1 1-1.5 1.8-.2-.2-.4.4-.2-.2.5-.5zM190.2 397.4l.3-.3-.2-.2.2-.2.3.3 1.1-1.2-.4-.5.7-.6.2.3-.2.1.4.4-.4.4 1.1 1.2.7-.7.1.1-.9.9-.9-.8-.4.4-.4-.4-1 1.1zM192.9 392.9l-.3-.3.6-.5.2.3-.4.5.2.2-.8.8.1.3-.4-.4zM191.4 404.8l-.5.5-1.2-1-.9.7 1.1-1-.3-.3.7-.6.7.7-.3.3zM188.9 394l-.3.3-.4-.4.3-.3zM189.8 394.3l-.3-.3.3-.2-.2.2zM190.5 389.6l-.3-.4.3.4zM192.4 390.3l.1.1-.4.4-.3-.3zM188.5 386l.2.2-.3.3-.5-.4.6-.6.2.3zM190.6 387.3l-.5-.5.2-.1.5.4zM191 385.4l-.1.6-.2-.2zM191.2 384.9l.1-.1-.1.1zM189.7 391.2l.1.1-.7.7-.1-.1zM190.2 401.3l-.4-.6.8-.5.4.4zM192.4 403.4l.3.4-.4-.3zM190.4 402.2l-.1 0 .1 0zM190.4 408.3l-.8-.8.2-.2-.3-.2.3-.3 1.1.9.4-.4.2.3-.3-.1zM192.8 407.5l-.3.3-.5-.5.2-.2zM190 414l-.6-.7.2-.2.8.7-.7.6zM189.2 416.2l-.4.4-.1-.1.4-.4zM196.7 393.8l1.2-1.2-.6-.5.2-.2-.1.2.6.6-.5.5.3.2-.4.4.8.9-.5.4.3.3-.8 1.1.5.4-.7.7-.8-.5 1.1-1.1-1.1-1.2-1.2 1.2 1.2 1.1-1.1 1.1-.2-.1 1-1.1-1.1-1.1.5-.5-.2-.3 1.4-1.2-1.4-1.5.6-.6.3.3-.4.5zM196 389.3l0-.2.1.1zM199.8 402.8l0 .1 0-.1zM198.7 400l-.5.4.2.2-.3.3.6.8-1.6-1.2-.1.1-.9-.8-.9.9-.4-.5 1.1-1.1.7.4.8-.8zM89.3 430.5l1.2 1.1 1.1-1.1-1.1-1.2zM109.9 431.9l1.1 1.1 1.2-1.1-1.2-1.2zM112.8 439.7l1.1 1.2 1.2-1.2-.7-.7 1-1-.8-.9.3.2 1.8-1.6-1.2-1.2-1.2 1.2-.3-.3-1.2 1.2.9.8-.6.6.7.7zM107.8 435.8l1.1 1.2 1.2-1.2-1.2-1.1zM93.9 437l1.1 1.1 1.2-1.1-1.2-1.2zM109.7 437.2l1.2 1.2 1.1-1.2-1.1-1.1zM101.9 438.1l1.2 1.2 1.1-1.2-1.1-1.1zM85.5 438.7l1.1 1.2 1.2-1.2-1.2-1.1zM109 439.2l1.2 1.2 1.1-1.2-1.1-1.1zM103.8 440.3l1.1 1.1 1.2-1.1-1.2-1.2zM100.5 440.5l1.7 1.8 1.2-1.1-1.8-1.8zM115.3 442l1.2 1.1 1.1-1.1-1.1-1.2zM111.8 442.5l1.1 1.1 1.2-1.1-1.2-1.2zM114.2 443.3l1.1 1.1 1.2-1.1-1.2-1.2zM107.8 444.2l1.1 1.1 1.2-1.1-1.2-1.2zM102.1 444.3l1.2 1.2-.8.7 1.2 1.2 1.1-1.2-1.1-1.1.7-.8-1.1-1.1zM113.4 444.2l-1.1 1.1 1.1 1.2.4-.4.6.5.7-.7.8.8 1.1-1.2-1.1-1.1-.7.7-.8-.8-.4.5zM106.7 447.2l2 1.8 1.1-1.1-.8-.9.4-.3-1.2-1.2-.2.2-.7-.6-1.1 1.1.8.8zM110.7 446.7l1.2 1.2 1.1-1.2-1.1-1.1zM112.8 447.7l1.1 1.1 1.2-1.1-1.2-1.2zM82.5 447.8l1.1 1.1 1.2-1.1-1.2-1.2zM86.6 447.9l1.2 1.1 1.1-1.1-1.1-1.2zM79.1 448.7l1.2 1.1 1.1-1.1-1.1-1.1zM91.3 449.4l1.2 1.2 1.1-1.2-1.1-1.1zM112.1 450.4l2 1.8 1.2-1.2-2.1-1.8zM108.3 450.7l1.2 1.2 1.1-1.2-1.1-1.1zM101.2 450.8l1.2 1.1 1.1-1.1-1.1-1.2zM80.3 450.2l-1.2 1.2 1.2 1.2 1.1-1.2zM111.7 452.9l1.2-1.1-1.2-1.2-.6.6-.2-.2-1.2 1.2.3.3-.6.5 1.2 1.2 1.1-1.2-.2-.3zM104.8 452.9l1.2 1.1 1.1-1.1-1.1-1.2zM89.4 453.7l1.1 1.1-.7.6 1.2 1.2 1.2-1.2-1.1-1 .6-.7-1.1-1.1zM115.4 454.9l-1.2-1.2-.9.9.5-.5-1.1-1.2-2.3 2.1 1.2 1.1.4-.5.6.6.9-.9.7.7zM95.7 454.2l1.1 1.2 1.2-1.2-1.2-1.1zM107.7 454.7l1.1 1.2 1.2-1.2-1.2-1.1zM98.4 454.8l1.1 1.1 1.2-1.1-1.2-1.2zM100.4 455.1l1.2 1.1 1.1-1.1-1.1-1.2zM76 455.3l1.1 1.2 1.2-1.2-1.2-1.1zM64.4 455.4l1.2 1.2 1.2-1.2-1.2-1.2zM84.3 456l1.2 1.2 1.1-1.2-1.1-1.1zM103.5 459.4l.3.3-.8.9 1.3 1.5 1.2-1.1-.6-.8 1.9-1.9-.6-.7.9-.9-1.1-1.1-1.2 1.1.7.7-.2-.2-.4.4-.8-.8-1.1 1.2.9.9zM85.2 457.7l1.2 1.1 1.1-1.1-1.1-1.2zM110.9 458.6l-.3-.2.6-.6-1.1-1.2-1.2 1.2.3.2-.6.6.4.5-.8.8 1.1 1.1 1.2-1.1-.5-.4zM98.9 458.4l1.1 1.2-.5.5 1.2 1.1 1.1-1.1-1.1-1.2.5-.5-1.2-1.1zM74 459l1.2 1.1 1.1-1.1-1.1-1.2zM115.5 462.3l-.2-.3.5-.5-1.2-1.2-1.1 1.2.6.6-.5.6 1.1 1.1.9-.9.6.6-.6.5 1.7 1.8-1.4 1.2.4.3-.9 1 1.2 1.1 1.2-1.3.3.3-1 .9 1.2 1.2 1.1-1.2-.7-.7.9-1-.6-.6.2-.2.4.3 1-1 .7.7-.2.1.2.2-1.1 1 1.2 1.2.5-.4-1.1 1.1 1.1 1.1-.8.8 1.1 1.2 1.2-1.2-.8-.8.6-.6 1 1.1 1.2-1.2-.9-.8.4.2 1.2-1.1-1.2-1.2-.6.6-.3-.3-1.1 1.2.8.8-.2.2-1.1-1.1-.3.1 1.5-1.5-.4-.4.2-.2-1-1 .2-.2-.2-.2.9-.9-1.2-1.1-.5.5-.9-.9-1.1 1.1 1.1 1.1-.3.3-.8-.8-.8.7-.3-.3-.7.5.9-.8-.6-.6 1-1 .3.4 1.2-1.2-1.2-1.1-1 1.1-.4-.4-.4.4-1-.9 1.1-1.1-.5-.4.2-.2-.2-.2.2-.2 1.5 1.6 1.2-1.2-.6-.5.2-.1.5.5-.9.9 1.1 1.2 1.2-1.2-1-.9.9-1-1.1-1.1-.8.7-.4-.4.2-.2.1.1 1.2-1.2-1.2-1.1-1.9 1.6.8 1-.3-.3-.9.9-.7-.7-.3.3-.4-.4-1.1 1.1-1.1-1.2-1.1 1.2 1.1 1.1 1.1-1.1.6.6-.2.2.5.5-.2.1.9 1zM91.1 459.4l1.2 1.2 1.1-1.2-1.1-1.2zM71.1 459.4l1.2 1.2 1.1-1.2-1.1-1.2zM110.8 460.3l.7.7-1 1 1.2 1.1 1.1-1.1-.7-.7 1-1-1.2-1.2zM94.9 460.5l.6.6-1 1.1 1.1 1.1 1.2-1.1-.7-.6 1.1-1.1-1.1-1.1zM64.4 461.6l1.2 1.2 1.2-1.2-1.2-1.2zM83.1 462.3l1.1 1.1 1.2-1.1-1.2-1.2zM86.6 461.3l-1.3 1.4 1.1 1.2 1.3-1.5zM102.8 464.8l1.1 1.1.8-.8.6.5 1.1-1.1-1-1 .4-.4.6.6 1.2-1.1-1.2-1.2-.5.5-.7-.6-1.1 1.2 1 1-.6.7-.6-.6zM69.9 463.1l1.2 1.1 1.1-1.1-1.1-1.2zM75.1 463.5l1.2 1.1 1.1-1.1-1.1-1.1zM109 463.6l1.1 1.2 1.2-1.2-1.2-1.1zM90.7 463.6l1.2 1.2 1.1-1.2-1.1-1.1zM111.5 463.8l1.1 1.1 1.2-1.1-1.2-1.2zM99.2 463.8l1.2 1.1 1.1-1.1-1.1-1.2zM71.8 464.6l1.2 1.2 1.1-1.2-1.1-1.1zM95.4 465.2l1.2 1.1 1.1-1.1-1.1-1.2zM113.5 466.3l.4.4 1.4-1.5-1.1-1.1-.8.7-.3-.4-1.2 1.2 1.2 1.1zM87 465.4l1.1 1.2 1.2-1.2-1.2-1.1zM84.6 466.1l1.1 1.1 1.2-1.1-1.2-1.1zM99.3 467.5l-.1-.2 1-1-1.1-1.1-1.8 2-.9-.8-1.2 1.1 1.2 1.1.9-.8.9.8zM61.3 466.7l1.1 1.1 1.2-1.1-1.2-1.2zM108.5 466.9l1.2 1.1 1.1-1.1-1.1-1.2zM40.4 467l1.1 1.2 1.1-1.2-1.1-1.2zM104.8 467.1l1 1-.7.7 1.1 1.1 1.2-1.1-1-1 .7-.7-1.1-1.2zM48.4 467.4l1.2 1.2 1.1-1.2-1.1-1.1zM82.1 467.5l1.1 1.1 1.2-1.1-1.2-1.2zM110.1 468.1l1.2 1.2 1.1-1.2-1.1-1.1zM108.4 469.3l1.2 1.1 1.1-1.1-1.1-1.2zM89 470.8l1.1 1.2 1.2-1.2-1.2-1.1zM93.4 471.4l-.4-.5-1.2 1.2 1.2 1.1 1-1 .5.4 1.1-1.1-1.1-1.2zM84.5 471.7l1.1 1.1 1.2-1.1-1.2-1.2zM95.1 472.5l1.2 1.1 1.1-1.1-1.1-1.2zM76.1 472.6l1.2 1.2 1.1-1.2-1.1-1.1zM117.9 473.9l.3.1 1.2-1.1-1.2-1.2-.3-.1-.8.9-.9-1-1.2 1.2 1.2 1.1.8-.8zM103 471.9l-1.1 1.1 1.1 1.2 1.2-1.2zM107.9 473.5l1.1 1.1 1.2-1.1-1.2-1.2zM90.6 473.5l1.2 1.1 1.1-1.1-1.1-1.2zM103.7 473.6l1.2 1.1 1.1-1.1-1.1-1.2zM87 474.3l1.1 1.1 1.2-1.1-1.2-1.2zM111.7 475.6l1.1 1.2 1.2-1.2-1.2-1.1zM118.2 477.8l-.6-.7.2-.2 1.1 1.1.3-.3.9.9 1.1-1.2-1.1-1.1-.3.2-.9-.8-.6.6-1.1-1.1-.2.2-.8-.7-1.2 1.1.2.2-.6.7.5.6-.5.5 1.1 1.2.7-.7.7.6zM116.3 477.3l.4-.3-.3.4zM105.7 477.3l-.4-.4.5-.5-1.1-1.2-1.2 1.2 1 1-.5.5 1.2 1.1.4-.5.6.6 1.2-1.1-1.2-1.2zM86.1 477.4l-.6-.6.2-.2-1.2-1.1-1.1 1.1 1.9 2.4.3-.3.7.8 1.1-1.2-1.1-1.1zM64.4 476.8l1.2 1.2 1.2-1.2-1.2-1.2zM94.7 476.9l1.2 1.2 1.1-1.2-1.1-1.1zM102.1 477.3l1.2 1.2 1.1-1.2-1.1-1.1zM70.6 478.2l1.1 1.2 1.2-1.2-1.2-1.2zM75.1 478.2l1.2 1.2 1.1-1.2-1.1-1.2zM96.5 479.5l.3.3.7-.6.7.7 1.1-1.1-1.1-1.2-.7.7-.7-.8-.9 1-.3-.3-1.2 1.2.9.9-.8.9 1.1 1.1 1.2-1.1-1-1zM112.7 478.7l1.1 1.2 1.2-1.2-1.2-1.1zM101.2 479l1.2 1.2 1.1-1.2-1.1-1.1zM78.3 479.3l1.1 1.2 1.2-1.2-1.2-1.1zM92 479.3l1.1 1.2 1.2-1.2-1.2-1.1zM55 479.5l1.2 1.1 1.2-1.1-1.2-1.1zM88.5 480.4l1.1 1.2 1.2-1.2-1.2-1.1zM110.8 481.4l1.1 1.2 1.2-1.2-1.2-1.1zM64.4 482.2l1.2 1.2 1.2-1.2-1.2-1.2zM55 482.2l1.2 1.2 1.2-1.2-1.2-1.2zM85.9 482.4l-1.1-1.1-.5.4-.6-.5-1.1 1.1 1.1 1.2.5-.5.6.6zM86.2 482.3l1.2 1.2 1.1-1.2-1.1-1.1zM110.6 483.2l-.7-.7-1.2 1.2 1.2 1.1.7-.8.7.7 1.2-1.1-1.2-1.2zM104.1 483.6l1.1 1.1 1.2-1.1-1.2-1.2zM75.9 483.8l1.2 1.1 1.1-1.1-1.1-1.2zM114.2 484.1l1.1 1.2 1.2-1.2-1.2-1.1zM105.4 486.1l1.1 1.1 1.2-1.1-1.2-1.2zM70.6 486.2l1.1 1.2 1.2-1.2-1.2-1.2zM93.6 486.3l1.1 1.2 1.2-1.2-1.2-1.1zM55 487.5l1.2 1.1 1.2-1.1-1.2-1.1zM86.8 487.6l.4.4-.6.6 1.2 1.1 1.1-1.1-.4-.4.6-.6-1.2-1.1zM76.9 487.8l1.2 1.2 1.1-1.2-1.1-1.1zM104.3 488.2l1.2 1.1 1.1-1.1-1.1-1.2zM83.2 488.5l1.1 1.2 1.2-1.2-1.2-1.1zM73.9 488.6l1.2 1.2 1.1-1.2-1.1-1.1zM92.9 488.8l.7.8-.5.4 1.2 1.2 1.1-1.2-.7-.7.5-.5-1.2-1.1zM99.7 489l1.1 1.1 1.2-1.1-1.2-1.2zM107.1 489.6l1.2 1.1 1.1-1.1-1.1-1.2zM81.3 489.9l1.1 1.2 1.2-1.2-1.2-1.1zM110.5 490.1l1.2 1.1 1.1-1.1-1.1-1.2zM55 490.2l1.2 1.2 1.2-1.2-1.2-1.2zM95.2 492.5l1.2 1.1 1.1-1.1-1.1-1.2zM84.7 493.4l1.1 1.2 1.2-1.2-1.2-1.1zM105.3 493.5l1.1 1.2 1.2-1.2-1.2-1.1zM113.4 494.5l.9.8.8-.8 1.1 1.1 1.2-1.1-1.2-1.2-.8.9-1.1-1.2-.9.9-.8-.9-1.2 1.2 1.2 1.1zM70.6 494.2l1.1 1.2 1.2-1.2-1.2-1.2zM101.6 494.2l1.1 1.2 1.2-1.2-1.2-1.1zM91 494.7l1.1 1.1 1.2-1.1-1.2-1.2zM107 494.9l1.2 1.2 1.1-1.2-1.1-1.1zM48.2 495.2l1.1 1.1 1.2-1.1-1.2-1.2zM55 495.6l1.2 1.2 1.2-1.2-1.2-1.2zM109.3 495.6l1.2 1.2 1.1-1.2-1.1-1.1zM58.3 497.1l1.2 1.2 1.1-1.2-1.1-1.1zM64.7 497.4l1.1 1.1 1.2-1.1-1.2-1.2zM114 499l-.6-.5 1.1-1.1-1.2-1.1-1.1 1.1.5.6-1 1 1.1 1.1zM76.2 499.2l1.2 1.2 1.1-1.2-1.1-1.1zM74.4 500.5l1.2 1.1 1.1-1.1-1.1-1.2zM85 501.1l1.2 1.2 1.1-1.2-1.1-1.1zM95.5 501.4l1.1 1.2 1.2-1.2-1.2-1.1zM76.4 502l1.2 1.2 1.1-1.2-1.1-1.1zM112.6 502.3l1.2 1.1 1.2-1.1-1.2-1.1zM106.8 502.4l1.1 1.1 1.2-1.1-1.2-1.2zM93.2 503.9l1.1 1.1 1.2-1.1-1.2-1.2zM105.5 504.7l1.1 1.2 1.2-1.2-1.2-1.1zM69.3 504.8l1.1 1.1 1.2-1.1-1.2-1.2zM87.9 506l-1.5-1.6-1.1 1.2 1.4 1.5zM81.3 507l1.2 1.2 1.1-1.2-1.1-1.1zM87.1 507.2l1.2 1.2 1.1-1.2-1.1-1.1zM115.1 507.3l1.1 1.2 1.2-1.2-1.2-1.1zM98.1 508.8l1.2 1.2 1.1-1.2-1.1-1.1zM81.8 509l1.2 1.2 1.2-1.2-1.2-1.2zM107.9 507.9l-1.2 1.1 1.2 1.2 1.1-1.2zM89.8 509.8l1.2 1.2 1.2-1.2-1.2-1.2zM102.9 511.8l1.2 1.1 1.1-1.1-1.1-1.2zM97.9 512l1.2 1.1 1.1-1.1-1.1-1.2zM54.5 512.2l.3.3-.8.8 1.1 1.1 1.2-1.1-.3-.3.8-.8-1.2-1.1zM79.6 512.7l1.1 1.1 1.2-1.1-1.2-1.2zM73.7 512.8l1.1 1.1 1.2-1.1-1.2-1.2zM93.1 513l1.1 1.1 1.2-1.1-1.2-1.2zM40.4 514.3l1.1 1.1 1.1-1.1-1.1-1.1zM97.8 514.3l1.2 1.1 1.2-1.1-1.2-1.1zM94.3 515.1l1.1 1.2 1.2-1.2-1.2-1.1zM105.5 517.4l1.2 1.1 1.1-1.1-1.1-1.2zM91.1 518l1.1 1.1 1.2-1.1-1.2-1.2zM103.6 518.9l1.2 1.1 1.1-1.1-1.1-1.2zM75.1 520.5l1.2 1.1 1.1-1.1-1.1-1.1zM104.8 526.2l1.1 1.2 1.2-1.2-1.2-1.1zM51.9 527.7l1.1 1.2 1.2-1.2-1.2-1.1zM78.4 528.5l1.1 1.1 1.1-1.1-1.1-1.1zM103.1 528.8l1.2 1.2 1.1-1.2-1.1-1.1zM89.4 531.4l1.1 1.2 1.2-1.2-1.2-1.1zM95.2 532.7l1.1 1.1 1.2-1.1-1.2-1.2zM72.7 533.2l1.1 1.2 1.2-1.2-1.2-1.1zM56.6 534.7l1.2 1.2 1.1-1.2-1.1-1.1zM112.4 535.3l1.1 1.2 1.2-1.2-1.2-1.1zM99.7 535.5l1.2 1.1 1.1-1.1-1.1-1.2zM43.6 546l1.1 1.2 1.2-1.2-1.2-1.1zM121.3 403.6l1.2 1.2 1.1-1.2-1.1-1.1zM127.6 410.9l1.1 1.1 1.2-1.1-.9-.9 1.1-1.2-2.2-2.1-1.2 1.2 2 1.8zM121.3 408.6l1.2 1.2 1.1-1.2-1.1-1.1zM117.2 411.1l1.2 1.2 1.1-1.2-1.1-1.1zM120.7 410.2l-1.2 1.1 1.2 1.2 1.1-1.2zM122 412.1l1.2 1.2 1.1-1.2-1.1-1.1zM123.9 413.9l1.2 1.1 1.1-1.1-1.1-1.2zM120.8 416.7l1.1 1.1 1.2-1.1-.8-.8.2-.2-1.1-1.1-1.2 1.1.8.8zM117.8 421.2l1.2 1.1.4-.4.3.3.6-.6.5.5.2-.2.3.2 1.2-1.1-.8-.8 1-.9-1.2-1.2-1.1 1.2.7.8-.3-.3-.6.6-.5-.5-.4.4-.3-.3zM122.6 422.3l-.6.6-.5-.5-1.2 1.1 1.2 1.2.5-.5.6.6 1.1-1.1zM122.9 429l.9-1 .7.6.9-.9.4.5 1.1-1.2-1.1-1.1-.9.9-.4-.5-.8.8-.4-.4.3-.4-1.1-1.1-.4.4-2-2.3-1.2 1.2 2.2 2.4.4-.4.8.8-.6.6zM121.1 461.5l1.2 1.2 1.1-1.2-1.1-1.1zM123.1 464.4l.6.6-.2.1 1.1 1.2 1.2-1.2-.5-.5.1-.2-1.1-1.1zM125.4 472l1.2 1.2 1.1-1.2-1.1-1.1zM123.5 475.3l.6.5 1.1-1.1.6.6 1.2-1.2-1.2-1.1-.1.1-.3-.2.4-.4-1.1-1.1-1.2 1.1.5.5-.4.4.3.3-.6.6-.6-.5-1.1 1.1-1-1.1-1.2 1.2 1.2 1.1 1.1-1 1 1zM126.5 478.1l1.1 1.1 1.2-1.1-1.2-1.2zM122 479.3l1.1 1.1 1.2-1.1-1.2-1.2zM126 478.2l-1.2 1.1 1.2 1.2 1.1-1.2zM119.9 480.2l1.1 1.2 1.2-1.2-1.2-1.1zM125.8 480.7l1.2 1.2 1.1-1.2-1.1-1.1zM128 481.2l-1.1 1.1-.5-.6-1.2 1.2 1.2 1.1.3-.3.7.7 1.7-2zM118.2 483.7l1.2 1.2 1.1-1.2-1.1-1.1zM123.1 484.1l1.1 1.2 1.2-1.2-1.2-1.1zM129.2 485.9l-1.4-1.5-1.1 1.2 1.3 1.4zM125.9 487.6l1.1 1.2 1.2-1.2-1.2-1.1zM123.8 495.9l1.1 1.1 1.2-1.1-1.2-1.2zM125.6 497.2l1.2 1.1 1.1-1.1-1.1-1.2zM116.6 500.1l1.2 1.1 1.2-1.1-1.2-1.1zM122.6 502l1.2 1.1 1.1-1.1-1.1-1.2zM126.5 502.2l1.1 1.2 1.2-1.2-1.2-1.1zM126 509l1.1 1.2 1.1-1.2-1.1-1.2zM122.9 511l1.1 1.2 1.2-1.2-1.2-1.1zM122.7 514.7l1.2 1.2 1.1-1.2-1.1-1.1zM120.7 516.8l1.2 1.2 1.1-1.2-1.1-1.1zM119.2 528.5l1.2 1.1 1.2-1.1-1.2-1.1zM126 543.8l1.1 1.1 1.1-1.1-1.1-1.2zM132 377.4l1.2 1.1 1.1-1.1-1.1-1.2zM132.8 392.4l1.1 1.2 1.2-1.2-1.2-1.1zM131 394.7l1.1 1.1 1.2-1.1-1.2-1.2zM131.6 397.3l1.1 1.2 1.2-1.2-1.2-1.1zM132.9 399.5l1.2 1.1 1.1-1.1-1.1-1.2zM130.9 399l-2.3 2.3 1.1 1.1 2.3-2.2zM131.3 401.7l1.2 1.1 1.1-1.1-1.1-1.2zM130.2 412.6l1.1 1.2 2.1-2.3-1.2-1.2zM129.8 416.5l-1.6 1.7 1.2 1.1.8-.9.2.3 1.2-1.2-1.3-1.3.8-.7-.6-.6.8-.8-1.2-1.1-.4.4-.3-.2-1.1 1.1.8.9-.3.3zM132.7 463.5l1.1 1.1 1.2-1.1-1.2-1.2zM131.7 468.4l-.9.9 1.2 1.1.3-.2.4.4-1 1 1.2 1.1 1.1-1.1-.4-.5.9-1-.9-.9.6.5 1.1-1.1-1.1-1.2-.2.2-.6-.5-.4.4-.1-.1 1.3-1.3-1-.9.5-.5-1.2-1.1-1.1 1.1.9.9-.8.9.2.2-.2.2-.3-.3-1.1 1.1 1.1 1.2zM133.1 469.3l-.8-.8.1-.2.8.9zM128.1 471.2l1.2 1.2 1.1-1.2-1.1-1.1zM130.1 472.7l1.2 1.1 1.1-1.1-1.1-1.2zM131.3 474.1l1.1 1.2 1.2-1.2-1.2-1.1zM131.7 478.7l2.3-2.4-1.1-1.1-.5.4-1-1-.7.7-.4-.4-1.1 1.2 1.1 1.1.7-.7.3.3-.8.8zM132 481.5l1.2-1.1-1.8-1.6-1.1 1.1zM132.5 485.2l1.1 1.2 1.2-1.2-1.2-1.1zM127.5 489.1l1.2 1.1 1.1-1.1-1.1-1.2zM130.5 497.1l1.1 1.1 1.2-1.1-1.2-1.2zM129.1 508.2l1.1 1.1 1.2-1.1-1.2-1.2zM133.3 385.8l1.1 1.2 1.2-1.2-1.2-1.1zM135 388.2l1.1 1.2 1.2-1.2-1.2-1.1zM134 389.7l1.2 1.2 1.1-1.2-1.1-1.1zM133.9 396l1.1 1.2 1.2-1.2-1.2-1.1zM136.9 396.2l-1.7 1.8 2.2 1.9 1.1-1.2-.9-.9.4-.5zM136.3 401.1l-2 1.9.4.3-.4.4 1.2 1.1 1.1-1.1-.3-.3 1.1-1.2zM135.7 468.6l1.2 1.2.2-.3.6.6-.4.3 1.2 1.2 1.1-1.2-1.1-1.1.3-.4-.2-.3-1.1-1.2-.3.3-.3-.2zM136.9 471.2l-1.1-1.1-1.2 1.1.4.4-.5.6 1.1 1.1.3-.3.9.9 1.1-1.2-1.1-1.1-.3.3-.1-.1zM133.1 473.4l1.2 1.2 1.1-1.2-1.1-1.1zM135 475.1l1.1 1.2 1.2-1.2-1.2-1.1zM137.6 478.9l1.4 1.4 1.9-2.2-1.2-1.1-.9.9-1.6-1.3-1.1 1.2.2.1-.2.2 1.1 1.2zM133.1 479.9l1.2 1.1 1.1-1.1-1.1-1.2zM133 482l1.1 1.2 1.2-1.2-1.2-1.1zM135.2 482.7l1.2 1.1 1.1-1.1-1.1-1.2zM134.5 489l1.2 1.2 1.1-1.2-1.1-1.1zM134 509l1.2 1.2 1.2-1.2-1.2-1.2zM138.5 374.2l1.1 1.2 1.2-1.2-1.2-1.1zM137.1 395.9l1.2 1.1 1.1-1.1-1.1-1.2zM138 397.3l1.2 1.1 1.1-1.1-1.1-1.2zM140.8 475.7l1.1-1.3-1.1-1.2-.4.4-.7-.7-1.2 1.1 1.2 1.2.2-.3zM138.3 486.4l.6-.6.5.5.2-.3.4.4 1.1-1.2-2.2-2.3-1.2 1.2.8.8-.2.1-.4-.5-1.2 1.2.6.6-.7.7 1.1 1.2 1.2-1.2zM138.1 488l1.1 1.2 1.2-1.2-1.2-1.1zM139.6 379l1 1-1 1 1.1 1.2 1.2-1.2-1-1 1-1-1.1-1.2zM145.7 386.5l-1.1-1.2-.8.9-1.1-1.2-1.2 1.2 1.2 1.1.8-.8 1.1 1.1zM142.5 389.8l-1.2-1.2-1.1 1.2.7.7-.7.6 1.2 1.1-.5.5 1.1 1.1 1.2-1.1-1.1-1.1.4-.5-.6-.7zM141.2 400.8l1.2 1.2 1.1-1.2-1.1-1.1zM139.9 467.6l1.1 1.2 1.2-1.2-1.2-1.1zM141.4 470.5l1.2 1.2 1.1-1.2-1.1-1.1zM140.4 481.5l1.1 1.2 1.2-1.2-1.2-1.1zM140.2 487.8l1.2 1.2 1.1-1.2-.7-.7 1-1.1-1.1-1.2-1.2 1.2.8.8zM140.6 496.9l1.2 1.2 1.1-1.2-1.1-1.1zM145.1 500.4l-1.2-1.1-2 2.4 1.1 1.2zM141.6 507.8l-1.2 1.2 1.2 1.1 1.1-1.1zM142.3 476l1.1 1.1 1.2-1.1-.6-.6 1.1-1.1-1.2-1.2-1.1 1.2.6.6zM143 494.9l1.2 1.2 1.1-1.2-1.1-1.1zM146.5 382l1.1 1.2 1.2-1.2-1.2-1.1zM146.5 471.1l1.2 1.1 1.1-1.1-1.1-1.2zM144.6 482.2l1.2 1.2 1.1-1.2-1.1-1.1zM147.2 487.9l-.8-.8.6-.5-1.2-1.2-1.1 1.2.7.7-.5.6 1.1 1.1zM148.1 370.2l1.1 1.1 1.2-1.1-1.2-1.2zM147 372.4l1.2 1.2 1.1-1.2-1.1-1.1zM147.6 473.6l.3.3-.5.6.9.9-.9.9 1.1 1.1 1.2-1.1-.9-.9.9-.9-.3-.3.5-.6-1.1-1.1zM148 486.5l1.2 1.1 1.1-1.1-1.1-1.2zM153.6 380.1l.4.4-.4.5 1.1 1.1 1.2-1.1-1-1 .5-.4-1.1-1.2.3-.3-1.1-1.2-1.2 1.2 1.2 1.1-.2.2-.7-.6-.6.6-.7-.6-1.1 1.1 1.1 1.2.7-.7.6.7zM149.8 385.4l1.2 1.2 1.1-1.2-1.1-1.1zM148.9 495.1l1.2 1.1 1.1-1.1-1.1-1.2zM152.2 384l1.2 1.2 1.1-1.2-1.1-1.1zM150.9 387.2l1.1 1.2 1.4-1.6-1.2-1.1zM153.5 470.7l1.2 1.1 1.1-1.1-1.1-1.2zM156.5 473.9l-.4-.4.4-.4-1.5-1.4-1.1 1.2.6.8-1-1-1.1 1.1 1.1 1.2.9-.9 1 1zM154 475.3l-1.2 1.2 1.2 1.1 1.1-1.1zM154.2 368.3l1.2 1.1 1.1-1.1-1.1-1.2zM154.3 480l1.2 1.2 1.1-1.2-1.1-1.1zM155.6 510.5l1.1 1.1 1.2-1.1-1.2-1.2zM156.4 378l1.1 1.1 1.2-1.1-.5-.5.4-.5-1.1-1.2-1.2 1.2.6.5zM156.4 464.1l.6.5-1.2 1.4 1.1 1.1 1.7-1.8.6.6.3-.4.4.4.6-.7.7.7 1.1-1.2-1-.9 2-2.1-1.1-1.2-1 1-1-1-1.2 1.1.5.5-.9.9.9.9-.3-.3-.5.4-1.1-1.1zM160.1 463.8l.4-.4.4.4-.4.4zM157.1 474.5l1.2 1.1 1.1-1.1-1.1-1.2zM157 492.7l1.2 1.2 1.1-1.2-1.1-1.1zM157.4 371.6l1.1 1.1 1.2-1.1-1.2-1.2zM157.8 467.7l1.1 1.2 1.2-1.2-1.2-1.1zM158.3 477.1l1.1 1.1 1.2-1.1-1.2-1.2zM159 509.6l1.2 1.2 1.1-1.2-1.1-1.1zM161.2 375.8l.6-.6-.6-.7 1-1-1.1-1.1-1.9 1.6.8.7-.5.5.5.4-.7.6 1.2 1.2 1.1-1.2zM163.1 378.9l.3.3 1.5-1.2.6.6 1.1-1.1-1.1-1.2-.9.9-.5-.4.5-.5-1.1-1.2-1.2 1.2.6.5-.9.9-.9-.9-1.1 1.1 1.1 1.2 1-1 .9 1zM160.6 452l1.2 1.1 1.1-1.1-1.1-1.2zM163.2 457.7l.6.6 1.2-1.2-.5-.5.3-.3-.2-.2 1-1.1-1.4-1.9.5.5 1.2-1.2-1.2-1.1-.1.1-.5-.5-1.2 1.1.6.6-.3.3-.3-.3-1.2 1.1 1.2 1.2.3-.4.2.5-.2.3-.8-.8-1.2 1.1.3.3-.8.8 1.2 1.2.2-.2.6.5zM160.3 469.5l1.1 1.2 1.2-1.2-1.2-1.1zM159.2 492.9l1.1 1.2 1.2-1.2-1.2-1.1zM165.3 466.4l1 1 1.1-1.2-1.1-1.1-.8.8-1-1 .2-.2-1.1-1.2-1.2 1.2 1.2 1.1-.2.2 1.1 1.2zM161.5 478.4l1.2 1.2 1.1-1.2-1.1-1.1zM167.4 375.5l-1.5-1.3-1.1 1.1 1.5 1.3zM164.9 450.9l.2.1-.2.3 1.1 1.1 1.2-1.1-.2-.2.2-.2-1.1-1.2zM165.1 471.1l1.2 1.2 1.1-1.2-1.1-1.1zM168.8 374.2l2.2 2 .7 0-.5.5 1.1 1.2.6-.6.4.4 1.1-1.2-2.9-2.9-.6.4-.9-.9.3-.3-.9-.9.4-.3-1.2-1.2-1.1 1.2.5.5-1.4 1.5 1.1 1.2 1.2-1.1.2.2zM166.9 452.1l1.2 1.2 1.1-1.2-1.1-1.1zM166.2 456.3l1.2 1.1 1.1-1.1-1.1-1.2zM170.8 465.3l-1.2-1.2-.5.5-.8-.9-1.2 1.2 1.2 1.1.4-.5.9.9zM167.8 355l1.1 1.2 1.2-1.2-1.2-1.1zM169.2 368.9l.7.7-1 1.1 1.1 1.1 1.2-1.1-.7-.7 1-1.1-1.2-1.1zM168.7 458.2l1.1 1.2 1.2-1.2-.9-.9.4-.4-1.1-1.1-1.2 1.1.9.9zM169.5 355.9l1.1 1.2 1.2-1.2-1.2-1.1zM170.7 456.2l1.1 1.2 1.2-1.2-1-1 .2-.2-1.1-1.1-1.2 1.1 1 1zM170.2 459.7l1.1 1.1 1.2-1.1-1.2-1.2zM171 471.1l1.1 1.1 1.2-1.1-1.2-1.2zM173.7 372.1l1.2 1.3.5-.4.2.2-.3.2 1.2 1.2.2-.2.3.3.4-.5.3.4 1.3-1.5-1.1-1.2-.7.7-.9-1-.4.5-.2-.4.4-.3-1.1-1.2-1.3 1.5-1-.9-1.1 1.1 1.1 1.2zM176.3 457.3l-1.9-2.2-1.2 1.2 1.9 2.1zM174.8 344l1.2 1.2 1.2-1.2-1.2-1.2zM176.2 377.1l-1.2-1.2 1-1-1.1-1.1-1.2 1.1 1.2 1.2-1 1 1.1 1.1zM174.3 448l1.1 1.1 1.2-1.1-1.2-1.2zM175.6 452.7l1.1 1.1.6-.5.1.2 1.2-1.2-1.2-1.1-.6.4.9-.9-1.1-1.1-1.2 1.1 1.1 1.1zM174.1 453.5l1.1 1.2 1.2-1.2-1.2-1.1zM178.7 365.6l.2-.1-1.2-1.2-1.1 1.2 1.9 2.2-.8.9 1.1 1.2 1.2-1.2-1.1-1 .9-.9zM177.5 369.8l-1.1 1.1 1.1 1.2 1.1-1.1.8.8 1.2-1.1-1.2-1.2-1.1 1.1zM179.1 373.3l-1.9 1.9 1.1 1.2.5-.5.3.3 1.1-1.1-.3-.3.3-.3zM179.2 443.8l.5-.5-1.1-1.2-.1.1-.3-.2-1.2 1.1 1.2 1.2.2-.1-.5.6 1.5 1.4-.4.4 1.1 1.1.8-.8.5.6 2-1.7-1.1-1.1-1.6 1.2-.4-.4.4-.4zM177 448l1.1 1.1 1.2-1.1-1.2-1.2zM177.4 480.5l1.1 1.1 1.2-1.1-1.2-1.2zM180.3 358.4l1.1 1.1 1.2-1.1-1.2-1.2zM179.9 370l1.1 1.1 1.2-1.1-1.2-1.2zM181 441.1l1.2 1.2 1.1-1.2-1.1-1.1zM180.1 443.7l1.2 1.2 1.1-1.2-1.1-1.1zM178.7 457l1.1 1.2 1.2-1.2-1.2-1.1zM183.2 351.2l1.2 1.1 1.1-1.1-1.1-1.2zM185.8 353.4l1.1 1.1 1.2-1.1-1.2-1.2zM183.8 359.9l1.1 1.1 1.2-1.1-1.2-1.2zM186.8 368.9l.9.9 1.1-1.2-1.1-1.1-.7.7.4-.6-1.1-1.2-1.2 1.2.4.3-.6.5 1.2 1.2zM182.3 369.3l1.1 1.2 1.2-1.2-1.2-1.1zM184.3 370.1l-1.2 1.1 1.2 1.2.5-.6.3.3 1.2-1.1-1.2-1.2-.5.6zM183.1 438.1l1.2 1.2 1.1-1.2-1.1-1.1zM182.8 450.1l1.2 1.1 1.1-1.1-1.1-1.2zM183.4 474.2l1.1 1.1 1.2-1.1-1.2-1.2zM189.6 347.6l1.2 1.2 1.1-1.2-1.1-1.1zM188.2 364.8l2.1 2.4 1.1-1.2.5.5-.7.8 1.1 1.1 1.2-1.1-1-1 1.8-1.8-1.2-1.2-2.1 2.2-1.7-1.8zM193.7 374.1l-.4-.4-1.1 1.1 1.1 1.2.8-.8.4.3 1.2-1.1-1.1-1.1.3-.3-1.1-1.1-.6-.5-.4.4-.1-.1 1-1.1-1.1-1.2-1.2 1.2.8.7-1.1 1.1 1.1 1.1.5-.4.5.6.1-.1zM187.8 371.1l1.2 1.2.5-.4.9.9 1.1-1.1-1.1-1.2-.4.4-1.1-1zM188.4 429.3l1.2 1.1 1.1-1.1-1.1-1.2zM191.3 432l1.2 1.1 1.1-1.1-1.1-1.2zM194.5 434.7l-.3-.3.6-.6-1.1-1.1-1.2 1.1.3.3-.6.6 1.1 1.1zM188.8 439.2l-.8-.9.4-.4-1.2-1.1-1.1 1.1.9 1-.4.4 2.3 2.1 1.2-1.2-1.2-1.1zM194.9 441.2l-1.9-2-1.1 1.1 1.8 2zM189.1 441.6l1.2 1.1 1.1-1.1-1.1-1.2zM190.2 443.7l1.2 1.1 1.1-1.1-1.1-1.2zM189 452.3l1.1 1.2 1.2-1.2-1.2-1.1zM190.4 457.1l1.2 1.1 1.1-1.1-1.1-1.2zM213.8 345.5l1.2 1.1 1.2-1.1-1.2-1.1zM220.2 346l1.1 1.2 1.2-1.2-1.2-1.1zM204.1 347.6l1.2 1.1 1.1-1.1-1.1-1.2zM216.4 348l1.1 1.2 1.1-1.2-1.1-1.2zM218.8 350.5l1.2 1.1 1.2-1.1-1.2-1.1zM194.7 350.9l1.1 1.1 1.2-1.1-1.2-1.2zM226 351.5l1.2 1.1 1.1-1.1-1.1-1.2zM203.1 356l1.1 1.1 1.2-1.1-1.2-1.2zM196 358.7l1.2 1.1 1.1-1.1-1.1-1.2zM213 359.6l1.1 1.1 1.2-1.1-1.2-1.2zM200.3 361l1.2 1.1 1.1-1.1-1.1-1.2zM193 362.5l1.2 1.2 1.1-1.2-1.1-1.1zM203 365.1l.7.7-.3.3 1.1 1.2 1.2-1.2-.7-.7.3-.3-1.1-1.1zM193 366.8l1.2 1.2 1.1-1.2-1.1-1.1zM208.9 368.2l1.1 1.2 1.2-1.2-1.2-1.1zM198.3 368.5l1.2 1.2 1.1-1.2-1.1-1.1zM207.8 372.2l1 1 1.2-1.2-1.2-1.1-.3.3-.3-.4.4-.5-1.1-1.1-1.2 1.1.6.6-.5.4 1.1 1.2zM193.3 371.1l1.1 1.2 1.2-1.2-1.2-1.1zM195.5 371.3l1.2 1.2 1.1-1.2-1.1-1.1zM199.5 376.3l1.1-1-1.1 1.1.7.7-1.1 1.2 1.1 1.1 1.2-1.1-.7-.7 1.1-1.2-.3-.4 1-1-.4-.4.3-.3.8.7.4-.4 1 1 1.1-1.1-1.1-1.2-.4.4-.4-.4.5-.4-1.2-1.1-.5.3.7-.6-1.2-1.2-1.7 1.9.9.9-.4.4-.5-.5-2.1 2.1zM202.5 373.4l-.3.4-.5-.6.3-.3zM214.1 373.8l1.2 1.2 1.1-1.2-1.1-1.1zM209.5 374l1.1 1.1 1.2-1.1-1.2-1.2zM196.2 374.4l1.1 1.1 1.2-1.1-1.2-1.2zM206.3 374.8l.3.2-.9.9 1.1 1.2 1.2-1.2-.3-.2.9-.9-1.1-1.2zM221.1 374.9l1.2 1.1 1.1-1.1-1.1-1.2zM193.3 376.7l1.1 1.1 1.2-1.1-1.2-1.2zM201.5 376.9l1.2 1.2 1.1-1.2-1.1-1.1zM211.4 377.6l1 1-.5.4 1.2 1.2 1.1-1.2-1-1 .5-.4-1.2-1.2zM206.3 377.7l.2.3-.5.5 1.2 1.1 1.1-1.1-.2-.3.5-.5-1.2-1.2zM233.8 378l1.2 1.2 1.2-1.2-1.2-1.2zM202.9 378.7l1.2 1.2.3-.3.7.7 1.1-1.2-1.1-1.1-.3.3-.7-.7zM200.9 383.4l-.5-.4-.3.2-.2-.2-.7.7-1.1-1.1-1.2 1.1.6.8-.8.9 1.1 1.1 1.2-1.1-.5-.5.5-.5.2.2-.2.1.7.8-.7.7.5.5-.4.3-.2-.2-2 2.3 1.2 1.1.4-.4.7.6.9-.9.4.4 1.8-1.6-.1-.1.7-.7-.2-.3.1-.1-1.1-1.2-1.2 1.2.3.2-.2.4-.4-.3 1.5-1.5.1.1 1.1-1.1-.6-.6.4-.4.8.7 1.1-1.1-1-1 .4-.4.6.5 1.1-1.1-1.1-1.2-.6.6-.6-.5-.2.3-.6-.6.4-.3-1.2-1.2-1.1 1.2.9.9-.3.3.2.3-.8.8.1.1-.1.2.6.6zM203.3 382.5l-.8.8-.2-.2.7-.7-.1-.2zM207 380.1l1.2 1.2 1.1-1.2-1.1-1.1zM198.9 380.7l1.1 1.1 1.2-1.1-1.2-1.2zM218.9 383.6l1.1 1.1 1.2-1.1-1.2-1.2zM204.4 386.8l1.1 1.1.6-.6.5.4 1.1-1.1-1.9-1.7 1-1.1-1.1-1.2-1.2 1.2.8.7-1.1 1.1.7.7zM210 384.6l1.2 1.2 1.1-1.2-1.1-1.1zM207.7 384.8l1.2 1.2 1.1-1.2-1.1-1.1zM218 385.9l1.2 1.1 1.1-1.1-1.1-1.2zM208.4 388.5l.2.2-.6.6 1.2 1.1 1.1-1.1-.2-.2.6-.6-1.2-1.2zM202.5 388.5l1.1 1.2 1.2-1.2-1.2-1.1zM212.4 388.4l-1.5 1.5.3.3-.5.6 1.2 1.1 1.1-1.1-.3-.4.9-.9zM216.9 390.3l1.1 1.1 1.2-1.1-1.2-1.2zM209.1 394.6l1 1 1.1-1.2-.5-.6.3-.3.4.3 1.1-1.1-1.1-1.2-.7.7-.4-.4-.2.3.5-.6-1.1-1.2-1.6 1.8.4.4-1.1 1.1.2.3-.5.5 1.2 1.2zM209.1 393.2l.1-.2.6.6-.7.6.4-.6zM204.4 392.2l2.1 2 1.1-1.2-2.1-2zM213.1 392.6l1.2 1.1 1.1-1.1-1.1-1.2zM201.7 394.5l1.1 1.1 1.2-1.1-1.2-1.2zM228.4 395.1l1.1 1.2 1.2-1.2-1.2-1.1zM212.6 396.3l1.2 1.2 1.1-1.2-1.1-1.1zM203 401.5l2 2 .3-.3.2.3 1.2-1.2-1-.9.4-.5-.7-.8.2-.2.8.8 1.2-1.1-1.1-1.1.6-.6-1.1-1.2-1.2 1.2.3.2-1 1 .7.8zM202.1 398.4l.6.6-.6.6 1.1 1.1 1.2-1.1-.6-.6.6-.6-1.2-1.1zM213.6 398.6l1.2 1.1 1.1-1.1-1.1-1.2zM209.7 398.6l-1.2 1.4 1.1 1.2 1.3-1.4zM203.1 404.5l1.1 1.2 1.2-1.2-1.2-1.1zM217.6 405.6l1.1 1.1 1.2-1.1-1.2-1.2zM212.3 406.3l1.1 1.1 1.2-1.1-1.2-1.2zM232.1 407.4l1.2 1.2 1.1-1.2-1.1-1.1zM209.8 407.9l1.2 1.2 1.1-1.2-1.1-1.1zM204.2 408.4l1.2 1.1 1.1-1.1-1.1-1.2zM195 412.2l1.8-1.7-.7-.8.4-.4 1.3 1 .8-.9.6.5 1.1-1.1-1.1-1.2-.9.9-1.3-1-.5.5-.5-.5-1.2 1.1.8.8-1.7 1.7zM201.4 409l1.2 1.1 1.1-1.1-1.1-1.2zM206.8 410.2l1.2 1.1 1.1-1.1-1.1-1.2zM203.6 410.7l1.2 1.2 1.1-1.2-1.1-1.1zM201.9 412.3l1.1 1.1 1.2-1.1-1.2-1.2zM206.2 412.3l.7.7-.8.8 1.1 1.2 1.2-1.2-.7-.7.8-.8-1.1-1.2zM196.4 411.6l-1.9 1.8.5.5-.2.3-.5-.5-1.2 1.1.4.4-.8.9 1.2 1.1 1.1-1.1-.4-.5.5-.5 1.1 1 .7-.7.6.5.4-.5 1.1 1.1 1.1-1.2-1.1-1.1-.5.4-.6-.5 1.4-1.3-1.1-1.2-1 .8zM198.7 413.5l1.1 1.2 1.2-1.2-1.2-1.1zM212.5 414.8l1.2 1.1 1.1-1.1-1.1-1.2zM195.8 416.7l1.1 1.2 1.2-1.2-1.2-1.1zM200.7 417l1.2 1.1 1.1-1.1-1.1-1.2zM204.3 418.3l1.2 1.1 1.1-1.1-1.1-1.2zM199.4 420l1.1 1.1 1.2-1.1-1.2-1.2zM204.1 421.7l1.1 1.1 1.2-1.1-1.2-1.2zM196.1 421l-2.2 2.3 1.1 1.1 2.3-2.3zM212.8 424l1.2 1.2 1.2-1.2-1.2-1.2zM221.4 425.5l1.1 1.1 1.1-1.1-1.1-1.1zM197 425.6l1.2 1.1 1.1-1.1-1.1-1.2zM195.4 426.3l1.2 1.2 1.1-1.2-1.1-1.1zM200.6 426.5l1.1 1.2 1.2-1.2-1.2-1.1zM217.5 431.9l1.2 1.2 1.1-1.2-1.1-1.1zM203.5 433.6l-2 1.9 1.2 1.1 1.9-1.9zM197.3 436.6l1.2 1.2 1.1-1.2-1.1-1.1zM196.4 438.4l1.1 1.2 1.2-1.2-1.2-1.1zM193.6 443.3l1.2 1.2 1.1-1.2-1.1-1.1zM198 445.2l1.1 1.2 1.2-1.2-1.2-1.1zM222.7 452.3l1.1 1.2 1.2-1.2-1.2-1.1zM200.1 477.4l1.1 1.2 1.2-1.2-1.2-1.1z"/>
<line x1="41.7" y1="508.6" x2="235.9" y2="363.8" stroke="#8fa8a5" stroke-width="1.6"/>
<line x1="51.4" y1="526.8" x2="239.1" y2="345.3" stroke="#111" stroke-width="1.35" stroke-dasharray="3.2 2.4"/>
<text x="113.5" y="345.3" textLength="17.2" lengthAdjust="spacingAndGlyphs">PC</text>
<text x="237.0" y="468.6" textLength="15.6" lengthAdjust="spacingAndGlyphs">BS</text>
<text x="41.3" y="538.6" textLength="26" lengthAdjust="spacingAndGlyphs">y = x</text>
<text x="206.2" y="542.3" textLength="47" lengthAdjust="spacingAndGlyphs">R = 0.65</text>
<text x="170.4" y="556.6" textLength="89" lengthAdjust="spacingAndGlyphs">y = 0.74x + 0.65</text>
<text x="294.6" y="310.6" font-size="14" font-weight="700" textLength="9.8" lengthAdjust="spacingAndGlyphs">D</text>
<text x="323.7" y="311.0" font-size="12" font-weight="700" textLength="233.5" lengthAdjust="spacingAndGlyphs">Half life and ribosomes, procyclic forms</text>
<path fill="#000" fill-rule="evenodd" d="M347 407.8l-1.7 1.7 1.7 1.7 1.7-1.7zM340.2 410.9l-1.7 1.7 1.7 1.7 1.7-1.7zM351.2 418.7l1.7-1.7-1.5-1.5 1.6-1.7-1.7-1.7-1.7 1.7 1.5 1.6-.8.8-1.7-1.6-1.7 1.7 1.7 1.7 1-.9zM342.7 413.1l-1.7 1.7 1.7 1.7 1.7-1.7zM341 418.2l1.2 1.2 1.7-1.7-1.7-1.7-1 1-1.2-1.2-1.7 1.7 1.7 1.7zM341.1 418.5l-1.7 1.7 1.7 1.7 1.7-1.7zM344.9 420l-.3.3-.3-.2-1.7 1.7 1.7 1.7.4-.4.2.3 1.7-1.7zM348.4 426.5l.8-.9.5.6 1.7-1.7-.4-.5 1.1-1.3-1.7-1.7-1.7 1.7.1.1-.4.3.5.5-.5-.5-1.7 1.7zM343 422.6l-1.7 1.7 1.7 1.7 1.7-1.7zM352.4 427l1.9 1.8 1.7-1.7-2.8-2.7-1 1-.8-.8-1.7 1.7 1.7 1.7zM349.2 429l-.6.5 1.1-1.2-1.7-1.7-.7.8-.6-.6-.2.3-1.5-1.5-1.7 1.7 1.7 1.7.3-.2 1.2 1.2-.6.6 1.7 1.7.2-.2.5.6.6-.6.3.3 1.7-1.7zM335.4 428l-1.7 1.7 1.7 1.7 1.7-1.7zM338.5 435.8l-1.7 1.7.6.6-.3.3 1.7 1.7 1.7-1.7-.4-.4 1.4-1.4-1-1 1.2-1.2 1 1 2.8-2.4-1.7-1.7-2.6 2.3-1-1-1.2 1.2-.8-.8.4-.4-1.7-1.7-1.7 1.7 1.5 1.5-.4.4 1.7 1.7 1.2-1.2.3.3-.8.7zM350.4 441.1l.7-.7.7.7 1.1-1.2 2.9 2.6.4-.5.2.2-1 1-.6-.6-1.7 1.7 1.2 1.2-.8.9.5.7-.9-1 .8-.7-.9-1.2 1.2-1.2-1.7-1.7-1.7 1.7.4.4-1.6-1.6-.7.6-1.4-1.4-.8.8-.3-.3-.8.8-.7-.7.2-.2-.4-.4 1.5-1.4-1.7-1.7-1.7 1.7.4.4-1.5 1.4 1 1-.5.6-.8-.8-.9.9-2.2-1.9-1.7 1.7 1.5 1.5-.5-.4-1.7 1.7.2.2-.4.4 1 1-.6.6 1.7 1.7.7-.7.3.3 1.7-1.7-.9-.8 1.4-1.3-.2-.4 1.3 1.3-.2.2.1.2-1.4 1.4 1.7 1.7.3-.3.7.8-.9.9 1.7 1.7-1.2 1.2-.7-.6-1 .7-.5-.5-1.7 1.7 2.7 3 .9-.9.8.8-.9.8-.4-.4-1.7 1.7 1 1.1-.1.1 1.7 1.7 1.7-1.7-.6-.5 1.6-1.7.2.2-.7.7 1.1 1.1-.5.5.3.2-.4.4 1.7 1.7 1.7-1.7-.3-.3.4-.3-1-1.1.5-.9.8.9-.6.6.9 1-1.6 1.6.4.4-.6.6 2.9 3.1-.8.8-1.3-1.2.5-.6-2-1.9-1.7 1.7 1.6 1.6-1.4 1.4-1.5-1.7.2-.1-1.3-1.3.2-.2-1.7-1.7-.3.4-1.8-2-1.6 1.6-.9-.9-1 .9-1.2-1.2-1.7 1.7 1.5 1.5-1.3-1.1-1.7 1.7 3 3.3.8-.8 1.3 1.3.9-.8.7.7-.2.2 1.7 1.7.2-.2.2.2.4-.4.2.1-1.1 1.3 1 1-.5.5 1.2 1.2-1.8 2 1.7 1.7.2-.1.2.2-1.4 1.4.4.4-.3.2 1.7 1.7 1.7-1.7-.4-.4.3-.2-1-1.1.8-.8 1.7 1.7 1.7-1.7-1.2-1.3 1.5-1.6-1.7-1.7-1.3 1.4-.7-.7-.2.2-.2-.3.5-.5-.7-.7 1.1-1.1.7.6.8-.9 1.3 1.3-.9.9 1.7 1.7 1.7-1.7-1.5-1.5.9-.9-1.3-1.3.6-.6-.2-.2.4-.5 1.5 1.6.4-.4 1.5 1.5 1.7-1.7-.2-.2.2-.2.3.3-.3.3 1.1 1.1-.1.2-1-1-1.7 1.7 1.7 1.7 1.5-1.5 1 1 1.7-1.7-1.2-1.1.4-.4-1-1 1.2-1.3-1.6-1.8.2-.1 1.3 1.3 1.8-1.8.5.5.2 0 1.7-1.7-1.1-1.2 1.5 1.5 1.5-1.5-.7.8 1.7 1.7 1.6-1.5-1.4 1.4.2.2-1.6 1.6 1.2 1.2-1.5 1.5.6.6-.1.1-.8-.8.2-.2-1.7-1.7-3.2 3.1 1.2 1.3-1 1 1.7 1.7 1.6-1.6 1.7 1.7 1.7-1.7-1.4-1.3 1 .9 1.7-1.7 1.7 1.8 1.7-1.7-.9-.9.6-.6 1.2 1.1 1.7-1.7-.2-.2.9-.9.5.4 1.1-1.1.2.2-.1.2.3.3-.9 1 1.7 1.7.7-.7.2.3.7-.7 1 1-1.6 1.7.8.8-.5.5.7.8-1.6-1.6-1.7 1.7-.7-.7-.5.6-1.2-1.2-1.7 1.7.3.4-.8.8-1.5-1.4-1.7 1.7.5.5-.5.5-.7-.7 1-1-1.7-1.7-.6.6-.6-.5-1.7 1.7 2 2-.9 1.2 1.5 1.8-.9.9 1.6 1.6-1.5-1.4-1.7 1.7 1.5 1.5-.3.3.2.2-1.7 1.7 1.7 1.7.6-.6.4.4-1.1 1.1 1.7 1.7 1.7-1.7-.9-.9 1.1-1.1-1.4-1.4 1.5 1.4 1.7-1.7-1.2-1.1.1-.2-.3-.3.9-.9.2.3 1.7-1.7-1.7-1.7-1.5 1.5-.1-.2.2-.2-.3-.3.3-.3.4.3 1-1 1.3 1.2.3-.3 1.3 1.3 1.7-1.7-.3-.3.9-.9.4-.7.3.3-1 .9 1.7 1.7 1.7-1.7-1-1 1-1-1.3-1.3 1.4-1.4.6.6-1.3 1.3 1.7 1.7 1.7-1.7-.9-.9 1.3-1.3-.7-.8.8-.8-.9-.8.6-.5-1.2-1.2 1.7-1.7-.8-.7 1.2-1.1-1.8-1.8 1.4-1.4-.8-.9.6-.6-.1-.4 1.5 1.4-.5.5.3.2-1.3 1.3 2.7 2.6-1.6 1.7.8.8-.6.7 1.7 1.8-1.6 1.7 1.7 1.7 1.7-1.7-1-1 .2-.2.7.6.9-.8.3.3 1.7-1.7 1 1-1.4 1.4 1.7 1.7.9-.9.8.8.4-.4.3.3 1.7-1.7-1.7-1.7-.3.3-.5-.5.7-.7 1.2 1.2 1.7-1.7-.2-.2 1.7 1.2.7-.7.4.3-.6.6 1.5 1.5-.5.5-.5-.5-1.7 1.7 1 1-.4.3-1.2-1.2-1.4 1.5-.4-.1-1.4 1.4-.3-.3-1.7 1.7 1.2 1.2-.2.2-.7-.7-1.4 1.4-.3-.3 1.1-1.1-.6-.6.6-.7-.4-.5.2-.3-1.5-1.6.4-.4-1.7-1.7-1.7 1.7 1.6 1.6-.5.4.5.5-.3.3.6.6-.6.6-.6-.5.4-.4-1.7-1.7-.8.9-1-1-1.7 1.7.2.3-1.3 1.4 1.7 1.7 1.1-1.2.9 1 .4-.5.6.6.5-.3 1.1 1.1 1.6-1.6.2.2-1.1 1.1 1.5 1.5-1.6 1.6-2.1-2.3-.2.2-1-1-1.7 1.7 1.7 1.7.2-.2 2 2.2 1.3-1.3 1.1 1.1 3.4-3.4-1.5-1.5.4.4 1-1.1.8.7 1.7-1.7-1.2-1.2 1.6 1.6.7-.6 1.4 1.5 1.3-1.3.9.8-.1.1 1.7 1.7 1.7-1.7-1.1-1.3 1.6-1.6-1.7-1.7-1.1 1.1-.7-.7.9-.9-.8-.8.8-.9.9.9-.2.2 1.7 1.7.2-.3 1.1 1.1 1.7-1.7-.2-.3 1.1-1 .2.2 1.7-1.7-1.7-1.7-1 .5-.8-.8-.6.7-1.4-1.5-1.4 1.4-.6-.6.5-.6-1.3-1.3.8-.7-.5-.5.2-.1 1.8 2 .2-.1.2.2 1.3-1.4.2.3-.6.6 1.7 1.7 1-1 .7.7 2.2-2 1.1 1.2-1.4 1.4 1.6 1.6-1.1 1.1.6.6-1.1-1-1.7 1.7.3.3-1.4 1.3 1.7 1.7 1.4-1.3-1.6 1.6 1.7 1.7.6-.6 1.1 1.1.4-.4 1 1 1.7-1.7-1.7-1.7-.4.4-1-1-.6.6-.7-.8.7-.8.5.5 2.6-2.6-1.3-1.4.7-.8.6.6-.6.7 1.7 1.7 1.7-1.7-.6-.7 2-1.8-.2-.2.9-.9-1.7-1.7-3.2 2.9.2.3-.5.5-1.5-1.6 1.2-1.2.8.7 1.7-1.7-1.3-1.3.7.7 1.7-1.7-.7-.7.4-.4.8.9-1.1 1.1 1.7 1.7 1.5-1.5.4.4-1.5 1.4.4.4-.2.2 1.2 1.1-1.1 1.1 3.2 3 .8-.8 1.1 1 1.7-1.7-.8-.8.2-.3-.1-.1 1.3-1.3-1.7-1.7-1.9 1.8.2.2-.6.5-1.2-.9.2-.2.6.7 1.7-1.7-1.7-1.7-.5.6-.3-.3 3.2-2.9-1.7-1.7-.3.3-1.6-1.7-1.5 1.5-.6-.6 1.6-1.6-1.1-1.2.3-.4-.3-.4.2-.2 1.7 1.7.3-.4.2.2-.2.2 3.2 3.1.5-.5.5.5-1.5 1.8.5.4-.2.2.9.9-.5.6 1.7 1.7.9-.9.4.4 2.1-2.4.2.2-1.4 1.7 1.7 1.7 2.3-2.5-.4-.5.2-.2.2.1 1.7-1.7-.4-.3.3-.3-1.7-1.7-1.4 1.4-.7-.7-1.3 1.3-.1-.1.9-1-.8-.7.5-.5-1.2-1.3 1.3-1.2-.3-.3.6-.5-.2-.3.2.2.4-.4.4.4 2.2-2-1.8-2 .3.4.5-.4.7.7.8-.9 1.3 1.2.9-.9.2.2.7-.7 1.2 1.2.5-.5 1.2 1.1.8-.8 1.7 1.7.7-.8.3.2.7-.7.4.4-.4.4.4.3-1.8 2 1.7 1.7 2.9-3.1-.3-.4.5-.5-.4-.4 1.8-2.3-1.7-1.7-1.2 1.2-1-1 1.6-1.6-2-2 .8-.9 1.5 1.6 1.1-1.1.5.5 1.4-1.5-.2.4 3 2.7 1.7-1.7-1.6-1.6 1.1 1 1.7-1.7-2.9-2.6-1.4 1.5-.3-.3-1.4 1.5-.2-.2.5-.5-1.7-1.7-.3.3-1.4-1.7 1.6-1.6-1.7-1.7-.6.6-1.3-1.3.9-.9.9 1 1.1-1.2 2.4 2.5.6-.6-1.4 1.5.6.6-.7.7 1.7 1.7 1.7-1.7-.3-.3.9-.9-.8-.7.4-.4 1.1 1 1.7-1.7-1.4-1.4.4-.4-.1-.4 1.3-1.3-1.7-1.7-1.7 1.7.2.2-.9.8-.9-.9.6.5 1.7-1.7-.3-.3.5-.5-.1-.3-1.5-1.7 1.3-1.2-.4-.4.8-.7.7.8-.1.2-.3-.3-1.7 1.7 1.7 1.7.4-.5.3.3.8-.8.4.3-.4.3 1 .9-.9.9.7.7-1 1 1.7 1.7.6-.4-.5.6.9.8-1.6 1.6 1.2 1.3-.3.3 1.1 1.1-.8.7.7.6-.8.8 1.7 1.7.4-.4 2.7 2.2.9-.8 1.6 1.6.5-.5.3.3-1.1 1.1 1.7 1.7.9-1 .8.8 1.7-1.7-1.2-1.5.5-.6-1.6-1.6.2-.2.6.6 1.7-1.7-1.7-1.7-.3.3-.6-.6-1.2 1.2-1.1-1.1 2-2.2-.3-.2 1.5-1.6-1.7-1.7-2.7 2.7-.5-.5-.6.6 1.3-1.3-1.7-1.7-.8.8-.2-.1 1.3-1.3-1.7-1.7-.6.6-.3-.4 1-1.1 1 1 .6-.5.4.4 1.7-1.7-.1-.2.7-.8-.1-.2 2 1.8.5-.5.2.2-.6.6 1 1-.7.7 1.7 1.7 1.7-1.5-.7.7.3.3-.4.4 1.7 1.7 1.7-1.7-.3-.3.4-.4-.8-.8.7-.7-1.7-1.7-.6.6-.8-.8.6-.6-1.2-1.2 1-1 .5.4 1-1 .8.9.6-.6.6.5 1.7-1.7-1.7-1.7-.6.6-.6-.5-1 1-.4-.6.4-.4.4.5 1.1-1.1.4.4.6-.6.3.3-.2.2 1 1-.2.2 1.7 1.7 1.7-1.7-1-1 .1-.3.5.3.5-.5.4.4 1.2-1.2 1.1 1.1.2-.2.2.2-.7.7 1.7 1.7 1.7-1.7-1.5-1.5.6-.7-1.6-1.6.4-.4.9.9 1.7-1.7-1.7-1.7-.6.5-2.6-2.4-1.7 1.7.4.4-.8.7.3.4-.9.9-.2-.1-.3.2-.2-.2 1-1-1-1 .3-.2-1.7-1.7-.2.2-.5-.6-.4.4-1.1-1-1.3 1.3-.5-.5-1.7 1.7.1.2-.2-.1-.4.4-.9-1-1.6 1.6-1-1.1.9-.9.9.9 1.5-1.5 1.1 1 1.7-1.7-.5-.4.2-.2-2.9-2.8-2.1 2.3-1.7-1.7 1.5-1.5-1.7-1.7-1.7 1.7.6.6-.2.2-1.9-2.2-1.1 1.1-.3-.2 1.2-1.1-.4-.4.4-.4.5.4 1.7-1.7-.4-.3 1.3-1.3.3.4-.5.5 1.2 1.2-.4.3 1.7 1.7.2-.2.3.3 1.1-1.1.2.1-.7.8.8.9-.2.2 1.7 1.7.5-.5 2.1 2 .4-.4 1.7 1.7.3-.3 1.9 1.8 2.6-2.6-1.3-1.3.2-.3-1.7-1.7-.9 1-.2-.2.9-.8-.2-.1.2-.2 1.1 1.1 1.2-1.1.8.8.4-.4 2.3 1.9.2-.2.3.2 1.7-1.7-1.7-1.7-.3.3-.2-.3-.2.2-1.1-1-.3.4-1.1-1.1-1.1 1.2-.9-.9-.6.7-1.2-1.2-1.5 1.6-1.5-1.5-.7.7-.3-.4.4-.4-1.2-1.2.9-1.2-1.5-1.4.5-.5-1.3-1.3.6-.6-1.7-1.7-.2.2-.8-.8-1.7 1.6-.3-.3.5-.6-1.4-1.3.5-.5 1.5 1.5 1.7-1.7-.8-.8.4-.5-1.3-1.3.5-.5-1.7-1.7-.2.2-.1-.1-1.3 1.2-1.3-1.3 2.7-2.9-1.7-1.7-.4.5-1.1-1.1-1.2 1.3-.3-.2-.6.7-1-1.1.6-.5.8.8 1.7-1.7-1.7-1.7-1.2 1.2-1.7-1.6-1.7 1.7 1.3 1.6-.9.9.9.9-.8.8-1-1.1-1.2 1.1-.4-.4.2-.2-1.4-1.5 1-1 .8.9 1.7-1.7-.6-.6.6-.7-.4-.5 1.5-1.5-1.7-1.7-1.7 1.7.5.5-1.6 1.5.7.7-.7.6-1.9-2.2-.7.7-.9-.9.2-.2.5.4 1.7-1.7-1.7-1.7-1.3 1.3-.5-.5-.3.3-.3-.3-1.2 1.2-.6-.5-1.2 1.1-1.3-1.3-1.7 1.7.6.6-.5.6 1.7 1.7 1.7-1.7-.7-.7 1.4 1.4 1.2-1.2.4.4-.3.4 1.7 1.6-1.7 1.7-.3-.3-1.6 1.6-.6-.6-.4.5-.9-.9-.5.5-.9-.9-.8.7-1-1 .7-.6-1.7-1.7-.4.3-1-1-1.7 1.7 1 .9-.2.2.9 1-.1.1 2.2 2.2.3-.3.5.5-.3.2 1.6 1.6-.3.3-1.7-1.7-1.5 1.6-1.4-1.4.9-.9-1.7-1.7-.8.8-.3-.3 1.4-1.4-1.6-1.6 1.1-1.1-.5-.5 1.6-1.6-1.7-1.7-1.4 1.5-.4-.4.3-.4-1.7-1.7-.7.7-.2-.2-1.1 1.1-1.3-1.3-.3.3-1-.9-1.7 1.7 1.5 1.4-.2.3-1.4-1.4-.9 1 .9-.9-1.7-1.7-1.1 1.1-.2-.2 1.6-1.6-1.7-1.7-1 1-1.5-1.5-1.2 1.2-1.5-1.4-1.7 1.7 1.7 1.7 1.3-1.2.4.3-1.6 1.6 1.7 1.7 1.7-1.7-.6-.7.8-.8 1.2 1.2-4.8 5.1-.2-.2-.6.6-.2-.3.7-.7-.3-.4 1.5-1.6-2.6-2.7-.9.9-1.7-1.8.4-.4-1.7-1.7-1.7 1.7 1.4 1.4-.3.3-1-1.1-1.7 1.7 1.7 1.7 1.1-1.1 1.4 1.4.4-.4.9.9.9-.9.4.5-1.6 1.6 1.5 1.4-.8.8.4.3-.3.2 1.4 1.3-.2.3-.3-.4-.8.8-.3-.2 1-1-1.1-1.1.7-.7-1.4-1.4.2-.2-1.7-1.7-.6.7-2.9-2.4-.5.4-.2-.2-.6.5-.6-.7-1.1 1.2-.3-.3-1 1.1-.9-.8-1.4 1.4-.6-.5 1.3-1.3-1.6-1.7.9-1-1.7-1.7-1.7 1.7 1.7 1.7-.9.9-.5-.5-1.7 1.7 1.7 1.7.3-.3 2.3 2.2 1.4-1.5.5.6 1.1-1.1.8.8.9-.9.8.8-.3.2 1.7 1.7.4-.3.2.2-.8.8 1.7 1.7.2-.2.5.5-.9.9 1.7 1.7.4-.4.3.2 1.1-1.2 1.6 1.5-.9-.8-1.7 1.7.6.7-.7.7.6.6-.7.7-.6-.6.2-.2-1.7-1.7-1.7 1.7.7.7-.3.2-.2-.1.2-.2-.9-.9 1.5-1.5-1.2-1.2.5-.6-.9-.9 1-1-1.7-1.7-1.2 1.2-.5-.6-.5.5-.4-.4.3-.4-1.7-1.7-.7.7-.6-.6-3.8 3.7-.3-.4 1-1-1.7-1.7-1.7 1.7 1.3 1.3-1.5 1.5.4.5-.4.4-.6-.5.7-1-.3-.2.4-.4-1.7-1.7-1.9 1.8 1.4-1.4-1.7-1.7-1.7 1.7 1.1 1.2-.7-.7-1.5 1.6-1.3-1.3-1.7 1.7 2.1 1.9-1.8 2-.8-.8 1.1-1.1-.6-.6.3-.2-1.7-1.7-1.7 1.7.6.5-.3.3 1.6 1.5-1.1 1.1 1.6 1.6-.2.2-.8-.8-1.3 1.4-1.3-1.3-1.7 1.7 1.7 1.7 1.4-1.4 1 1-.6.6-.4-.4-.5.4-.4-.4-1.7 1.7.2.2-.8.8 1.5 1.5-.1.2-1.6-1.6-1.2 1.2-1.2-.9-.9.9-.6-.6 1.2-1.2-.3-.3.8-.8-.3-.3 1.3-1.3-.6-.6 3.7-3.7 1.1 1 1.7-1.7-1.7-1.7-1.7 1.6-.5-.6 1-1-1.7-1.7-1.2 1.2-.7-.7-.5.5-1.2-1.3 1.4-1.4-1.7-1.7-1.7 1.7 1.5 1.5-1.4 1.5 2.3 2.3.5-.5.8.8 1.2-1.2.2.2-1.3 1.5-.3-.2-1.7 1.7.2.2-.4.4.6.6-1.3 1.3.3.3-1 1-.4-.4-1.7 1.7.5.6-.9.8-.7-.7-1.2 1.2-.4-.4-1.7 1.7.4.4-.6.7-.2-.2-1.7 1.7 1.7 1.7.5-.5.7.8-1.1 1 .4.4-.6.5 1.7 1.7 4.1-4.3-.7-.8.8-.8-.8-.8.4-.4-1-1 .9-.9.8.8.3-.4 1 1 .9-.9 1.6 1.4-.2.1-1-.9-1.7 1.7 1.7 1.7.4-.4.9 1 1.7-1.7-1.2-1.3 1.1-1 .6.6.9-.9 1.5 1.6 1.8-1.6.8.7-1.5 1.6.2.3-.4.4-.7-.6-1.7 1.7 1.2 1.1-.3.3-.2-.2-.3.3-.6-.5.3-.3-1.7-1.7-1.4 1.4-.3-.3-1.7 1.7.1.2-.2.2-1.3-1.2-1.7 1.7.7.7-.1.2-.9-.8-1.7 1.7 1.5 1.4-.2.2 1.1 1.3-.9-.9-.3.3-.4-.3-.8.8-1.3-1.2-.2.2-.5-.4 1-1-1.7-1.7-1.7 1.7 1.5 1.6-1 .9 1.2 1.2-.5.6.1-.2-1.7-1.7-.3.2-1.4-1.4-.8.7-.9-.9-1.9 1.9 1.3 1.5-.6.6-2.3-2.1-1.7 1.7 1.1 1.1-1 1 .7.6-.9.8.3.3-1.1 1.1 1.1 1.2-.2.2.2.2-.4.5-.3-.2.6-.6-1.7-1.7-.6.6-1.3-1.2.5-.6.9.9 1.7-1.7-1.7-1.7-1.3 1.3-.8-.9-1.7 1.7 1.5 1.5-1 1 1.4 1.4-.7.6zM408.6 468.9l-1 .9-1.1-1.1 1.9-1.8 1.1 1.1 1.7-1.7-1-1 .3-.3 1.7 1.6.2-.2.9 1-.4.4-.4-.3-1.7 1.7.4.4-.3.3-.3-.3-.6.6zM410 463.2l.8-.8 1.1 1.1-.8.8zM409.8 455.5l.5-.6.1.1zM410.4 454.2l-.3-.4.4.4zM410.4 448.2l1-1 .3.2 1-.9.3.3.4-.4.3.3.4-.5 1 1-.4.4-.1.6-1 1 .7.7-.9.9.4.4-.4.4-.6-.5-.3.3-.6-.6 1.1-1.1-1.7-1.7-.5.5zM410.2 443.2l0-.1 0 .1zM409.6 440.6l.2-.1.6.7.8-.8.7.6-.2.2-.4-.4-.8.7zM415.3 430.1l.1-.2 0 .1zM415.9 422.3l.2-.2-.6-.5.2-.2.9.9 1.2-1.2.3.3-1.5 1.5zM413.3 411.2l-.6.6-.2-.2 1.2-1.2-.2-.3.3-.3-1-1 .1-.3.7-.8.4.4 1.3-1.3.4.4-1.9 2.1 2.2 2.4-1.2 1zM414.8 405.4l-1.4-1.1.6-.6-.3-.3.2-.2-.1-.1.8.6 2.1-2 1.5 1.3-.9.8 1.7 1.7 1.2-1.1.3.3-1.3 1.4-.3 0-.4-.4-.2.2-1.1-1.2-.2.3-1-.8zM416.5 399.4l-.5-.5 3.6-3.6.2.1-.9 1 1.7 1.7 1.7-1.7-.9-.9.1-.2 1.1 1.1-1.3 1.5.2.2-.6.6.2.3-.7.7-.1-.2.4-.4-.1-.2.2-.2-1.7-1.7-1.7 1.7.2.6-.5.5.3.3-.8.8-.8-.8zM385.3 473l-.5-.5-.8.7 1.3-1.3 2 1.8-.3.4-1.3-1.4zM385.1 471.5l.5-.4-.4.5zM387.8 469.3l1.7-1.7-.8-.7 1.3-1.3-.3-.3.3-.4.9.9-1.4 1.5 1.4 1.5-.3.3-.6-.5-1.7 1.7 1.3 1.2-.6.5-1.5-1.8.6-.5-1.5-1.4zM386.5 467l-.1-.2.7-.7.2.3-.9.9zM386.2 462.8l.5.5.1-.1.4.3-.2.2zM385.2 461.5l-.8-.8-1.7 1.7 1.7 1.7-.2.2.1.1-1 1-.5-.5.5-.4-.9-.9.2-.2-1.7-1.7-1.6 1.6-.2-.2.2-.2-.2-.2 1.5-1.4.3.3.7-.7.9.9 1.7-1.7-1-1 0-.4 2.4 2.3zM385.9 455.8l1.1 1-1.1 1.1.4.6-1.5-1.5zM384.6 453.6l1-1-.8-.8.3-.3.3 0 .8.8.5-.4.3.3-.3.3 1 1-.8.8-1.5-1.5zM386.1 445.3l-1.6 1.4-.4-.5 1.2-1.2-1.3-1.3.1-.1zM387 438.7l.5-.5.9.8.2-.3.2.2-.7.6.3.3-.6.7.2-.4-.9-.8.2-.2zM386 432.6l.2 0-.1.1zM386.7 430.8l-1-1.2.2-.2 1.1 1.1zM388.1 424.7l.2.1-.2.2.1-.2zM389.7 421.2l-.7-.7-.3.4-.2-.2 1-1 .2.2 1.7-1.7-1-1 .8-.7.2.2-.6.7.9.9-.7.7.4.4-.5.6.6.6-.2.2-.6-.7zM391.2 412.3l-.6-.6.7-.6.2.2-.3.3.5.6zM390.1 409.8l.6-.5-.5.5zM363.7 463.9l-.6.6-.3-.3.6-.6zM362.7 459.1l-.5-.4.1-.1-.3-.3.2-.2.3.4.6-.6.5.5zM364.6 457.9l.2.5-.2.3 1.7 1.7.2-.2.7.7.6-.6 1 1-1.4 1.5.2.3-.2.2.8.8-.5.5-.9-1 .6-.6-1.7-1.7-.4.4-.8-.8.9-.9-1.4-1.5zM370.1 458.2l.3.4-.4.5.1-.2-.5-.4.3-.3-.2-.3.7-.7.3.4zM370.6 450.4l1.9-1.6.8.8-.2.2 1.2 1.1-.5.5-.5-.5-.9 1-1.5-1.5zM370.6 445.6l.3-.4.9.9.2-.2 1.6 1.6-.6.7zM372.1 436.4l1.2-1.2.3.3.3-.4.3.3-1.5 1.5-.2-.2-.9.9-.5-.5.9-.9zM374.6 432.4l-.3.3-1-1.1-.2.3-.4-.4-.9.8-.1-.1 1.3-1.4zM372.9 429l.8 1-.4.4-.9-.9zM373.6 427.6l-.7.7-.5-.4.7-.8zM358.8 442.3l1.5-1.5 1.3 1.3 1.1-1.1.2.2-.1.1.9.9-.7.6.6.6-.1.2-1.3-1.2-1.1 1.1-.8-.9-1.7 1.7.5.5-1.1 1.1-.5-.6.9-.9-.5-.4.8-.8-.8-.8.5-.5zM365.4 438.8l-.9-.8-.8.6 1.3-1.3 1 .9zM362.3 436.3l-1-1-.2.2-.6-.6 1.4-1.5.3.3 1.2-1.1 1.3 1.3 1.3-1.3.4.4-.3.4-.3-.3-1.7 1.7 1.6 1.5-.5.5-1.5-1.6-1 1-.2-.1zM360 431.9l-.3-.5.4.4zM355.7 437.2l.2-.3-.3-.3 1.1-1.1-.3-.3.2-.1.8.8-.4.4.6.6-1.1 1.1zM357.7 439.4l-.9.7-.9-.9.8-.8zM360.7 439.6l-1.2-1.1.3-.3.5.6.6-.6.4.5.3-.2zM351.7 465.6l1.4-1.4-1.7-1.7-.6.6-.1-.1.7-.7 1.4 1.4 1.3-1.4 1.6 1.6 1.7-1.7-.2-.2.3.3-.2.2.3.2-.3-.1-1.7 1.7.3.2-.3.3.4.4-.1.2-.7-.8-.3.3-.5-.5-1.7 1.7 1 1-1.2 1.2.9.9-.9.9.2-.4-1.6-1.6 1.6-1.6zM351.8 461l-.7-.7.6-.6.7.7zM351.6 459.2l-.6-.3.1-.1zM350.3 455.8l-2 2-.5-.4.9-.9-1.5-1.6.7-.7 1.6 1.5 1-1.1.5.6-.5.8zM347.8 454l-.7-.7.3-.3-1.7-1.7-1.2 1.2 1.3-1.3-1.4-1.4.9-.9-.8-.8 1.1-1.1-1.5-1.7 1.2-1.5 1.1 1.1.8-.8.3.3.7-.6.7.8-1.2 1.2 1.4 1.4-.6.6.5.5-.8.9 1.7 1.7 1.9-2.2.4.4.2-.2.5.4 1.5-1.4.4.4-.8.7.6.6-1 1.1.3.2-1.1 1.1-.8-.7-.7.7-.4-.4-1.1 1-.3-.3zM350.1 444.7l.1.2-.2-.2zM344.8 458l.8-.8-1.7-1.7-.8.8-.2-.1 1-1 .6.7.1-.2 2.2 2.4-.9 1zM337.9 467.8l.9.9-.5.6.5-.6-1.6-1.5 1.4-1.3.6.6zM341.9 470.5l-.2-.2-.4.5-1.5-1.5 1.3-1.2.4.4-.6.6 1.2 1.2zM336 466.3l-.5.5-.2-.2.5-.5 1.1 1.1zM345.2 478.5l-1.1 1-.1-.1.9-1.2zM363.8 455.3l-.6.5 1.1-1.1.5.4-.6.6zM363 451.6l-.1.2 1.2 1.3-.5.5-.8-.8-.6.6-.7-.7 1.3-1.3zM362.9 448.7l-2.4-2.9.9-.9.8.9 1.1-1.2 1.3 1.4.5-.3-1.1 1.1.8.8-.9.9-.4-.4zM361.5 461.5l.3.3-1.3 1.3-.2-.2zM353.9 454.8l-.9-1.1.5-.4.7.7.9-.9.3.2zM358.4 449.5l.2-.3 1.4 1.4-1.4 1.3.9.9-.6.6-.5-.3.5-.5-.9-1 .6-.6-.4-.4.7-.6zM361.2 455.7l-2 1.8.2.2-.9.9-.3-.4 1.3-1.3-.4-.5.2-.4 1-1.1.2.2.7-.6.9 1-.6.6zM360.5 450.4l.1-.3.1.1zM355.6 445.2l.1 0-.1 0zM357.7 446.5l1.6 1.5-.5.5-1.4-1.4-.3.1zM353.8 456.1l.4.4-1 .9.3.3-.7-.6zM356 456.8l.2-.5.3.2-.4.4.6.6zM354.8 461.5l-.5.3.4-.4zM366.1 439.9l-.4.3.3-.4zM369.6 436.2l.5.5-1.6 1.5 1.6 1.8-.6.7.8.8-.1.2.4.5-1.4-1.4-.1.2.8-.8-2.4-2.3.8-.8-1.3-1.2.2-.2 1.5 1.5zM368.7 432.9l-.7.6.5.4-.5.6-.7-.7 1.1-1.2zM366.4 431.1l-.5.6-.1 0zM366.1 443.4l.4-.4.1.1-.4.4zM368.7 444l-.1.3-.5-.4.2-.2zM369.6 454.6l.4.4-.2.3-.5-.5zM360 473.7l1.3 1.1-.2.3-1.2-1.2zM365.2 485.8l-.2.1.1-.1zM366.5 420.4l-.5-.4.2-.1.4.4-.4.4.2.3-.2-.3zM378.1 460l-.4-.4.3-.2.4.4zM381.8 450.7l-.7.8-1.4-1.4.7-.8zM380.6 448.8l-.5-.6.5.5zM378.6 446l-.9-.9.8-.8.9.9zM378.7 441.3l-1 .7.9-.9zM379.2 440.4l-.7.7.7-.7zM377 435.2l.9-.9.6.8-.4.4.6.6-.7.8-.6-.6.4-.4zM378 432.1l.2.2 1-1 .2.3-.3.4 1.2 1.2-1.4-1.4-1.3 1.2-.3-.3zM379.3 423.9l-.1-.3.2.3zM369.6 466.1l.5.4 2.1-2 .4.5 1-1 .3.3.7-.7 2.3 1.9-.4.4-.2-.2-1 1-1.7-1.7-.7.5-.6-.6-1.7 1.7 1.4 1.4-.5.4-.4-.5-.2.2-1.3-1.3.4-.3zM372.2 459.5l1.4-1.3-.2-.1.2-.2.3.3-.1.2.3.3-1.7 1.7.6.5-.5.5-.2-.3.3-.3-.5-.5.5-.4zM368.6 470.8l-.5-.5.6-.5.5.4zM367.2 467.6l.3-.3.7.8-.3.2zM368.5 480.4l-.5-.5 1.3-1.3 1.9 1.6 1.5-1.4-2.1 2.5-1-1.1-1.1 1.1-.4-.4zM377 429.7l-.4-.2.1-.1zM375.8 431.3l.2.3-1.1 1-.2-.2zM374.8 444l-.8-.7.1-.1 1 1-.2.2-.2-.2zM376.3 451.6l.5-.5.3.3-.4.4.2.3zM377.4 458.2l.6-.6 0 .1-.8.8-.5-.6.4.4.2-.2zM377 469.3l-.4-.5 1-1 .2.2.3-.2.2.2zM382.3 451l-.3-.3.6-.5.9 1-.3.3-.6-.7zM382.7 417l.8-.8 1.2 1.2.7-.7.4.3-.2.2 1.3 1.3-.2-.1-.7.8-.2-.2.2-.1-1.7-1.7-.7.7zM385.7 413.6l.1-.2.5.5-1 .8-.3-.3.4-.4-1.1-1.1.3-.4zM384.6 409.5l.2.3-.4.4.3-.4zM387.1 405.3l.7.7.7-.7 1.7 1.6-.2.2-.3-.3-1.7 1.7 1.2 1.2-1.6-1.6-.5.5-.9-.9.3-.3-.7-.8zM380.1 428.9l.7-.8 1.5 1.6-.5-.3-.6.6zM383.7 429.3l-.5.4-.4-.4.4-.4zM382.2 413.8l-1.2-1 .1-.1zM381.5 425l-.1-.1 2.5-2.3.5.5-1.4 1.3-.4-.4zM380.3 415.6l1.1 1.2-.3.3-1.2-1.1zM382.4 414.3l.9 1-1-.9zM384 420.6l-.8.8-.1-.1.8-.8zM381.4 439.2l-.4-.4.8-.8.4.4-.8.8.6.6-.3.3-.6-.6zM383 435.7l-.2.2-.2-.3.1-.1zM383.9 457.5l.3-.2-.3.2zM387.6 411.5l-.2.1-.3-.3.1-.2zM388.2 416.4l-.6-.5.7-.7.4.4-.7.6zM388.8 423.7l-.2.2-.2-.1.2-.2zM399.6 469.4l-.3.3-.3-.3.8-.9-1.4-1.4.6-.6.2.2-.5.4 1.4 1.5-.2.3.9.9-.3.2 1.7 1.7 1.4-1.3 1 1.1.5-.5.9.6-.8.6-1.4-1.4-1.3 1.4zM401.3 466.4l.2-.1.7.6.6-.6.7.8.6-.6.6.5-.2.3.9.9-.4.3-.4-.4-.3.3-1.2-1.1-.7.7-.6-.6.3-.3zM399.6 461.5l-.9.9-.3-.2 2.2-2.5.7.7-.5.4.8.8-.5-.3-.9.8zM400.2 458.6l.6-.6.5.5-.8.7zM401.4 455.1l.8-1 .1.1zM402.3 450.9l-.2.2-.4-.5.1-.2zM400.9 449.2l.3.4-.4-.3zM401.5 444.2l-2.4-1.9.9-.9-.4-.4.3-.4-1.3-1.3.2-.2.5.6.3-.2.5.5.5-.4.4.4-.7.8.4.4-.4.4.7.7-.7.8zM402.7 438.6l-.6.6.5-.6zM401.9 432.9l-.8-.8.1-.1.8.9-.9.9zM401.4 427.7l.6-.5.2.1-.6.6zM401.6 421.9l.2-.3 1 1.1-.2.2zM401.9 412.3l.7.5.2-.3.8.8 1-1 .3.3-1.2 1.2.7.6-.2.2-.4-.3-.7.5-1.8-1.8zM402.6 409.1l-.3.2.3-.3zM399.4 407.3l.2-.1.5.4 2-2 .3.3.9-.6-.6.5.5.6-.9.8-.8-.8-1.5 1.5zM392 466.4l-.8-.8.7-.6.8.7zM389.5 462.2l.3-.3-.6-.5.1-.2.9.8.4-.4-.5.5.6.6-1.2 1.3-.6-.6.8-.9zM390.9 457.2l-1.8-1.7.3-.3-1-1 .4-.4 1.2 1.2 1.6-1.6.6.6.8-.8.3.3-.8.8-.3-.3-.3.1-1.7 1.7 1.2 1.1-1.7 1.7zM393.1 450.7l-.9-1 1 1zM392.7 448.7l-.2-.2.2-.3.2.2zM397.8 442.7l-.4.2-.2-.1.3-.3-.6-.6zM397.2 440l-.3.1.2-.2zM395.1 427.3l.4-.4.1.1-.5.6-.4-.5zM395 419.4l.8.8-.2.2-.7-.9zM398.3 419.1l-.4.4-.6-.6.4-.4zM393.9 417.1l.2-.3.9.9.9-.8-1.2 1.2zM398.5 415.3l-.4.4-1.2-1.2.4-.5 1.4 1.4zM397.5 411.2l1.3 1.3-1.2 1.2-1.1-1.1 1-1-.2-.2zM395.6 407.6l-.1 0 .1 0zM398.7 407.7l-1.4-1.5 1.4 1.5zM396.2 404.7l3-2.9.5.5-.4.3 1.2 1.2-1.1 1.1-.5-.4-1.5 1.5zM393.2 436.9l.9 1-.4.4-1.1-1.1zM392.7 430.3l-.3-.3-.3.1.4-.4-.1.3zM390.1 426.8l.8.8-.5.7-.8-.9zM386.5 445l1-1 .2.2-.9 1.2zM387.2 436.7l-.4.4-.2-.2.4-.4zM390.3 435.7l-.3.3.3-.3zM389.9 436.4l-.3.4-.1 0zM389.3 451.7l.2-.1.2.2-.1.2zM395.6 404.5l-.2-.2-.9.9.9-.9zM393.7 415.6l-.5-.6.3.2 1.1-1.1.3.3zM393 422.5l.3.1-.1.1zM395.7 422.8l-.2.3-.2-.2.2-.2zM394.6 443.6l-.2.2-.3-.4.1-.1zM391.4 472.3l-1-.7.1-.1zM395.5 469.9l-.2-.2.3-.3-1.1-1.1.8-.8-.4-.4 1.3-1.4-.5-.5.5-.5-.2-.3.2-.2.3.3.4-.4.5.5-.9 1 1.5 1.4-.6.5-1.1-1.1-1.7 1.7 1.7 1.7.8-.6-1.1 1.1.4.4-.5.6-.6-.7-.4.4-.3-.3zM397.5 462.1l.3-.2.1.1-.3.2zM397.9 457.6l.3.1-.1 0zM397.3 456.5l-.5-.6.5.5zM398.8 445.2l.5.4-1 1.1.2.2-.3.3.7.7-.2.1-.2-.3-.4.4-.4-.4-.2.2.4-.6-.2-.2 1.5-1.5zM394.4 456.7l.6.4-.1.1zM394 453.2l.3.3-.2.3-.3-.3zM393.9 463.6l-.9-.9.5-.6-.3-.5.5.5.5-.5.5.4-.6.6.1.2-.2.3.2.2zM394.7 458.5l.6-.6.5.5-.6.7zM398.3 410.3l-1-1 .4-.3.9.9zM399.8 410.1l.2-.3.1 0zM398 450.8l.1-.1-.1.1zM393.5 481.6l.4-.4.2.2.3-.2 1.3 1.2-.5-.3-.6.6zM401.7 477.6l.2-.2.5.5-.2.2zM409.2 400.4l.8.8-.5.5.5-.5zM409.6 399.4l-.5.5-.9-.9.9.9zM405.9 463.2l-.1-.1.6-.7.5.5-.3.3-.1-.2-1.1 1.1.3-.4-.2-.1zM407.8 460.9l-.6.5.5-.5zM407.6 454.3l-.3.2 1.6 1.6-.2.3-.9-.8-.6.6-.2-.2.7-.7-.7-.6zM405 454.5l.5-.4-.5.5-.9-.9zM407.1 452.2l.2-.2.3.2-.3.3zM406.3 450.5l-.2-.2.2-.2.2.1zM405.8 439.1l.4.4-.2.3.3.3-.3.3-1-.9 1-1 .2.2zM408.8 436.6l-.1.2-1.8-1.6.2-.2zM403.4 441.3l.2.1-.1 0zM407.9 411.7l-1 1-.1 0 .8-.8-.3-.3.2-.3zM405.2 409.4l.2.2-.2.1-.3-.3.4-.3.1.1zM405.1 421.5l-.3-.4.2-.2.5.5zM404.3 451.2l-.2-.2 1.1-1.1.1.2zM404.7 445.6l0-.1.1 0zM409.3 411.2l-.3.2.2-.3zM408.2 448.2l-.2-.1.3-.3.2.1zM408.5 440.7l.1.3-.2-.2zM413.5 419.7l-.4.3-.6-.6.3-.4zM411.7 427.2l.2-.3.3.4-.2.2zM407.8 472.5l-1-1.1.5-.5.5.6-.5.5zM409.7 474.7l.3.3-.3-.3zM433.9 453.9l.4.4-.6.5-.3-.3zM434.9 449.3l-1-1 .2-.3-.7-.7.8-1.1.6.5-.5.5 1.2 1.2-.4.4 1 1.1-.7.7 2.1 2.3.3-.2.6.5-1.1 1.1.5.4-.8-.8-.4.5-.7-.8.6-.5-1.7-1.7-.3.2-1-.9zM434.4 445.4l.2.2-.2.2-.2-.2zM433.9 439.3l.8-.8-.8.8zM435.5 438.9l0 .3-.1-.1zM439.9 436.4l-.5.7.5.6-.1.1-.6-.6zM439.2 432.3l-.2-.3.2.2zM440.7 428.3l0 .2-.1-.2zM440.8 424.6l-.1.2-.2-.2.2-.1zM439.8 419.4l-.3-.2-.4.3-.3-.4-.4.4-.8-.8.9-.9 1.5 1.5.1-.2.3.3-.2.2-.3-.3zM441.8 412.3l1.9-1.4 1.1 1.2.4-.4.6.6 1-.9-1.4 1.5.5.5-.2.1-.2-.2-.2.2-1.4-1.3-1.5 1.5-.8-.9.3-.3-.7-.7zM439.4 403l.5.5.8-.8 1.1 1.2-.5.4-.7-.7-.9.9-.9-.9zM422.3 465l.1-.1 1 1 1-.9 1 1-.5.5-.6-.6-.5.5zM422.8 462.6l1.4-1.4-1.4-1.4.5-.4-.7-.7.3-.3 1.6 1.6.8-.8.3.3 1.7-1.7-.6-.6.1-.2.6.6 3.4-3.1-.3-.3.4-.5.6.5-.9.9.7.7-1.3 1.2.4.4-.2.2-.8-.7-.8.9-.4-.4-2 2 .4.4-.6.6.8.8-.3-.1-.3.3-.7-.7-1.7 1.7 1.1 1.1-.2.3-1.3-1.3-.3.4zM425.2 456.5l-.2.3-.6-.6.3-.2zM423.7 454.4l.6-.5 1 1.2-.4.5zM422.7 442.5l.3-.3-.2-.2.7-.5.3.4-.2-.1zM424.9 441.2l3.2-3.3-1.1-1 .1-.2 1.5 1.4.4-.4.5.5.9-.9.1.1-.6.6.8 1-.4-.4-.3.3-.5-.5-1.7 1.7.3.3-.3.3-.4-.4-1.2 1.2-.6-.6-.5.5zM425.9 436.4l-.3.3-.5-.5-.3.4.6-.7zM422.9 431.5l-.3.3.1.2-.6.7-.2-.2zM428.5 403.4l-.8-.7.1-.1zM426.8 400l.3-.3.1.1 1.7-1.7-1.7-1.7-1.8 1.6-.5-.5.8-.8-.3-.3.5-.6.9.9 1.7-1.8.9.9 1.4-1.4.2.1-1.6 1.6 1.6 1.7-1.1 1 .3.3-.4-.2-1.7 1.7.3.3-.3.3zM414.9 468.2l-.9-.9 1.1-1.2 1 1zM414.9 465.6l-.7-.7.2-.2.7.7zM414.4 458.9l-.2.2.2.2-.5.5-.1.7-.6-.6 1.1-1.1zM420 459.8l.4.5-1.3 1.3.4.5-.2.2-.4-.4-.5.4-.6-.7.2-.2-.3-.3.8-.7.5.4zM419.4 453.3l.2.2.2-.2.8.8-.4.4 1.6 1.6-1.1.8-1.7-1.5.7-.7-.9-.8zM419.8 450l.8.9-.1.1-.9-.9zM421.3 447.4l.5.6-.3.3-.8-.8-.4.4-.4-.3.6-.6.6.6zM419.9 438.6l-.4.3.3-.4zM418.1 425.8l.3-.4.3.3-.4.4zM418.8 416l-.8-.9.6-.5 1.2 1.2.9-.9.3.3-1.1 1.1.2.2-.5.5-1-.8zM419.4 412.8l-.9.9-.5-.5.9-.9zM422.1 407.1l-1 1 .2.3-.1.1-.5-.5 1.1-1.2zM416.3 439.6l.4.5-.5.5-.5-.4zM414.7 440.7l-.2.2-.3-.2.2-.2zM413.2 457.2l.4-.3 1.2 1.1-.4.4zM417 453.9l-.7.8.5.6-.2.2-1.1-1.1.3-.5.6.6zM417.3 408l.3.2-.1 0zM418.3 421.3l.4.4-.1.1-.4-.4zM417.2 432.5l.5.5-.5-.5zM416.5 457.4l0 .2-.1-.1zM420.4 399.9l1.4 1.4-.4.4.7.7-.3.2-.7-.7-.3.3-.1-.1.9-1zM425.8 400l-.9.9-.5-.5-.4.4-.2-.1 1.2-1.4zM421.1 405.2l.4-.3 1 .9-.4.4zM422 410.1l-1 1-.3-.3 1-1.1zM422.8 410.3l-.1.3-.1-.1zM422.5 417.5l.4-.1.2.2-.3.3zM423 451.5l-.4.1.3-.2zM429.4 431.1l.2-.3.2.2-.3.3zM428.1 428.8l.3.3.4-.3.6.6-.4.3zM429.3 423.8l-.1 0 0-.1zM433.8 414.3l.5.4-.8.8-.5-.4zM435.5 409.6l.2.2-.5.6-1.1-1.1.1-.1.9.9zM433.7 408.9l-.3.5-.1-.1zM436 405.3l-1.2-1.1.3-.3 1.2 1.2zM431 418.3l-.3-.1.1-.2-.4-.5.5-.5.6.7zM430 413.4l.8-.8.4.4-.3.2.3.3-.9.9-1.2-1.2-.8.8-.7-.7 1.1-1.1zM428.3 410l.3-.3.3.2 1.7-1.7-.7-.6.2-.3.9.9-.3.4.6.6-.8.7.8.8-.3.3-1-1-1.3 1.3.2-.4zM427.8 405.6l-.7-.7.9-.8.6.6zM427.6 407.8l-.2-.3.2-.3.5-.5.3.3zM426.5 404.9l-.3 0 .2-.1zM426.5 413l.3-.2-.3.3zM432.1 402.1l.5.6-.3.3-.6-.6zM431.2 416.6l-.4.3.3-.3zM430.3 451.6l-.2-.2.3-.2.2.2zM428 447.8l.9.8.7-.7.9.9-.2.2-.6-.6-.6.7-1.2-1.1-.7.7zM430.7 445.2l-.8-.8.4-.5 1 1.4-1.2 1.1-.2-.4zM426.4 449.9l.4.4-.6.6-.4-.4zM427.8 454.1l-.9-1 .3-.2-1.4-1.5.1-.1 1.6 1.6.6-.1.2.2-.5.5.3.3zM435 436.1l-.1-.2.2.1zM430.2 434l.4-.3-.3.3zM432.2 434.1l.3.4-.2.2-.3-.4zM432.7 435.3l-.4.5-.2-.2.4-.5zM437.2 434.4l.3-.2-.4.3-.8-.8zM457.6 450l.5.6-.5-.5zM456.4 446.7l1.3-1.4.9 1-1.3 1.3.4.4-.7.7-.1-.1.7-.7zM455.9 437.8l-.4.4-.5-.5.3-.3.2.1 1.5-1.5 1.5 1.4-.6.6.3.3-.5.6-1-1-.4.4zM455.4 434.2l-2.6 2.3-.5-.5.5-.5.2.2 1.7-1.7-.8-.8.1-.2.6.6 1.7-1.7-1.3-1.3.5-.5 1.9 2.1.2-.1-.5.4-.4-.5-1.7 1.7zM458.8 429.9l.5.3-.1.1zM455.8 424.9l-1.7 1.7.3.3-.4.4-.6-.6-.8.7-.8-.9 1.1-1.1-.2-.2.4-.4.7.7 1.4-1.4 1.4 1.4.7-.7.2.2-.6.6 1.4 1.4-.4.4-.6-.7.2-.1zM457.5 422l.2-.3.1.1-.1 0zM464.6 412.5l-1.1-1 .3-.3.8.9.2-.2.4.4-.6.6 1.4 1.5-.2.1-.8-.8-1.3 1.2-.1-.1 1.1-1.1-.7-.7zM448.4 432.9l.3.3-.3.4-.4-.4zM451.3 429.5l-1.1 1-.3-.3-.4.4-.8-.7 1.5-1.6zM448.8 417.5l-.4-.4.3-.3.5.5 1.2-1-1.8 1.9.5.6-.4.4-.1-.2.4-.3-.7-.7zM448.3 411.4l-.3.3 1 .9-.4.5.2-.2-1.5-1.5.4-.5zM446.3 396.5l2.2 2.4-.7.6-2.2-2.4zM437.9 456.6l.3-.3.7.7.9-1 1.6 1.6-.7.7-1.2-1.3-1.6 1.5-.3-.4.9-.9zM437.8 449.5l.5-.5 1 1-.5.5zM437.1 446.5l.4-.4-1.1-1.1.3-.3 1.3 1.4 1.3-1.2 2.7 2.4.6-.6.6.5-.6.6-.1-.2-.3.3-1.1-1.1-.6.6-.4-.5-.3.3-.5-.6-1.4 1.4-.2-.2.4-.4zM440.2 443.5l-.1-.1.1 0zM439.8 442.1l.9-.9.3.3-.9.9zM445.8 420.7l-.2-.3-.3.3-.3-.3-.5-.7.3-.3-1.1-1.1.7-.7.9.9-.5.5 1.3 1.4zM442.3 406.7l-.1.2 1 1.2-1.1-1.1zM444.5 408.1l.9-.8.9.9-.9.9zM442.9 401.5l.1-.1.6.6-.1.1zM444.5 402.5l-.2-.3.3.3zM445 404.8l-.2-.3-.6.7-.2-.2.7-.7zM443.7 435.1l-.1.3-.1-.1zM444.9 424.2l-.2.2-.2-.3-.8.8.8-.8-.5-.5.2-.2zM446.1 426.4l.1.3-.2-.2zM445.8 432.7l-.6-.5-.7.7-1.3-1.3.7-.7-.3-.3.2-.3.9.9.4-.4.7.7-.3.3.3.2-.4.3zM443.7 428.6l.3-.1-.2.2zM443.4 451.6l.3.3-.3.3-2.2-2.1.2-.2 1.1 1.1.4-.5.8.8zM441.6 441.5l.6-.5.4.4-.5.5zM445.3 441.9l-.7-.7.7-.6.7.6zM443.5 438.8l-.2-.1.3-.2-.8-.9.2-.2.9 1zM444.8 437.6l1 .9-.1.1zM442.5 459.9l.3-.2-.2.2zM451 432.6l.6.7-1.1 1-1.3-1.3.7.6 1.2-1.2zM456.7 413.4l.3-.3.2.2-.3.3zM457.6 411.9l.2-.2.3.3-.2.2zM455.4 407l-.7.7 1.3-1.3-1-.9 1.2-1.2-1.7-1.7-1.7 1.7.9 1-.1.1-.9-.9-2.3 2.7 4 3.8-.1.1-.4-.4-.4.4-1.2-1.2-1.3 1.3.4-.5-.4-.4.7-.7-2.3-2 .7-1.2.3.4 1.7-1.7-1.7-1.7-.3.4-.3-.4.4-.4.2.2 1.2-1.1.7.7 1.2-1.3 1.1 1.1 1.7-1.7.3.3-1.2 1.3 1.7 1.7.3-.4.9.9-1.7 1.7 1.7 1.7 1.5-1.5-1.7 2.1.4.4-.4.4.5.5-.5.5-1.3-1.3-.4.3.7-.8zM456.2 416.6l-.2.4-.2-.2-.4.3-.3-.3.3-.3-1.4-1.4.1-.1 1.2 1.1.1-.2zM455.2 411.6l.2-.4.1.1zM449.9 421.4l-.4.5.2.4-.3-.4zM455.2 423.5l-.5-.5.2-.2.5.5zM455 419.4l.1.1-.8.8-.3-.3.4-.5.3.3zM450.6 426.9l.2-.2.3.3-1.1 1.1.9-1zM462.5 407l-.4.4-.6-.6.4-.4zM459.9 412.6l.4-.3-.4.3zM448.5 444.7l-.1 0 0-.1zM450 452.1l.1.3-.2-.2zM471 421.4l0-.3.1.1zM468.5 430.1l-.3-.3 1.4-1.5-.2-.2.4-.4-.2-.2.2-.2 1.3 1.3-.1.2.6.6-1.4 1.1-.9-.9-1.4 1.3-.1-.1zM462.9 433.1l1-1.1 1.1 1.1.7-.7 0 .2.5.5-1 .9.6.6-2.1 1.8-1.1-1.2-.3.2-.4-.4 1.1-1.2-1.7-1.7-.9 1-.3-.4 1.1-1.1zM463.5 424.6l-.4-.2.1-.1zM461.3 427.3l.7-.6.4.4-.6.7zM460.2 429.7l.4.4-.4.4-.4-.4zM459.8 435.2l-.3-.3.6-.6.3.3zM479 430.2l-.1-.1.1.1zM476.9 430.5l.6-.7.6.6-.7.6zM460.8 452.9l-2.3-2.3 1.5-1.6.8.8-.9.9 1.5 1.6zM462.8 451.2l1.2 1.2-.9 1-1.3-1.3zM335.5 442.5l-.9 1-.8-.8-1.7 1.7 1.7 1.7.9-1 .8.8 1.7-1.7zM330.6 445.6l-1.7 1.7 1.7 1.7 1.7-1.7zM348.7 450.2l-1.7-1.7-.2.2-.4-.4-1.7 1.7 1.7 1.7.2-.3.4.5zM331.8 449.6l-1.7 1.7 1.7 1.7 1.7-1.7zM336.9 457l-.7.7.8.7-2.3 2.4 1.7 1.7.5-.5 1.4 1.4 1.7-1.7-.7-.8 1-1-.6-.6 1.3-1.2-1.7-1.7-.3.2-.2-.1.5-.5-1-1 .4-.3-.7-.7.5-.6-.2-.2 1.4-1.4-1.7-1.7-1.7 1.7.2.2-1.4 1.4.7.7-.5.6.9 1-.3.3zM326.9 453.7l-1.7 1.7 1.7 1.7 1.7-1.7zM332.5 454.6l-1.7 1.7 1.7 1.7 1.7-1.7zM329.6 456.3l-1.7 1.7 1.7 1.7 1.7-1.7zM329.5 459.6l-1.7 1.7 1.7 1.7 1.7-1.7zM333.4 459.9l-1.7 1.7 1.7 1.7 1.7-1.7zM344.8 466.4l.4.4 1.7-1.7-1.7-1.7-.4.3-.4-.4-1.7 1.7 1.7 1.7zM329.9 464.5l-1.7 1.7 1.7 1.7 1.7-1.7zM326.5 465.5l-1.7 1.7 1.7 1.7 1.7-1.7zM330.5 468.4l-1.7 1.7.7.7-1.4 1.5 1.7 1.7 1.7-1.7-.8-.7 1.5-1.5zM335.5 470.3l-1.7 1.7.4.4-.6.5 1.7 1.7 1.7-1.7-.3-.3.5-.6zM331.8 473.2l-1.7 1.7 1.7 1.7 1.7-1.7zM352.3 478.3l1.7-1.7-3.3-3.2-1.7 1.7zM339.3 477.3l1-1-1.7-1.7-1.7 1.7.6.6-1.5 1.5 1.7 1.7.5-.5.2.1 1.7-1.7zM332.4 476.6l1.7 1.7 1.7-1.7-1.7-1.7zM338.5 484.6l-1.4 1.4 1.3 1.4-.7.7 1.7 1.7.8-.8.4.4-1.1 1 1 1-.7.7 1.7 1.7 1.7-1.7-.9-1 .6-.7-1.3-1.3 1.1-1.1-1.7-1.7-.8.8-.4-.4.7-.7-1.6-1.6 1.4-1.4-1.7-1.7-.7.8.4-.5-2.4-2.3-1.7 1.7.7.7-.4.4 1.7 1.7.7-.7zM347.3 479.7l-1.7 1.7 1.7 1.7 1.7-1.7zM342 485.1l1.7 1.7 1.7-1.7-1.7-1.7zM348.1 489l-1.7-1.7-.2.3-1.1-1.1-1.7 1.7 1.3 1.3-1.1 1 1.2 1.2-.2.3 1.7 1.7 2.8-3.1-1.3-1.3zM333.8 491.3l1.7 1.7 1.7-1.7-1.7-1.7zM342.7 494.6l-1.7 1.7 1.7 1.7 1.7-1.7zM342.9 499.9l-1.7 1.7 1.7 1.7 1.7-1.7zM347.4 500.7l-1.7 1.7 1.7 1.7 1.7-1.7zM339.7 503.9l-.6.7 1.7 1.7 1.7-1.7-1.5-1.4.7-.7-1.7-1.7-1.7 1.7zM349.7 504.9l-1.7 1.7 1.7 1.7 1.7-1.7zM344 507.7l1.7 1.7 1.7-1.7-1.7-1.7zM334.5 509.9l1.7 1.7 1.7-1.7-1.7-1.7zM349.7 510.2l-1.7 1.7 1.7 1.7 1.7-1.7zM346.9 510.9l-1.7 1.7 1.7 1.7 1.7-1.7zM348.7 517l-1.7 1.7 1.7 1.7 1.7-1.7zM336.5 546.6l-1.7 1.7 1.7 1.7 1.7-1.7zM363.5 385.3l-1.7 1.7 1.7 1.7 1.7-1.7zM351.5 387.7l-1.7 1.7 1.7 1.7 1.7-1.7zM361.8 389.6l-1.7 1.7 1.7 1.7 1.7-1.7zM358.7 394.6l-1.7 1.7 1.7 1.7 1.7-1.7zM361.2 404.8l-1.7 1.7 1.7 1.7 1.7-1.7zM352.2 408.6l-.3.4 1.7 1.7 3.4-3.2-1.7-1.7-1.2 1.2-1.5-1.5-1.7 1.7zM354.3 411.3l-1.7 1.7 1.7 1.7 1.7-1.7zM356.2 413l-1.7 1.7 1.6 1.7-.1.1-1.1-1.1-1.7 1.7 1.4 1.4-1.2 1.2 1.7 1.7 1.7-1.7-.3-.3 1.5-1.6-1.6-1.6.7-.7 1.5 1.3 1.7-1.7-1.7-1.7-.4-.2-.9.9zM365.7 412.2l-1.7-1.7-1.7 1.7 1.3 1.2-1.7 1.7 1.7 1.7 1.7-1.7-1.2-1.3zM357.6 419.7l-1.7 1.7.4.4-.5.5 1.7 1.7 1.7-1.7-.4-.4.5-.5zM351.8 421.8l2.2 2.2 1.7-1.7-2.2-2.2zM358.9 428l1.7-1.7-.2-.2 2.8-2.5-.8-.8.3-.3-1.7-1.7-1.7 1.7.7.7-.8.7-.7-.8-1.7 1.7.9 1-.5.5zM358.3 481.9l1.7-1.7-1.6-1.5.2-.2-.8-.9.8-.8-1.7-1.7-1.7 1.7.8.9-.8.8 1.1 1.1-1.4 1.4 1.7 1.7 1.2-1.2zM361.9 478.1l-1.7 1.7 1.7 1.7 1.7-1.7zM352.6 484.7l1.7-1.7-.5-.5.2-.1-1.7-1.7-1.7 1.7.5.5-.2.1zM357.7 483.1l-.7.6 1.7 1.7.7-.6 1.2 1.2 1.7-1.7-3.1-3.1-1.7 1.7zM360.2 485.8l-1.7 1.7 1.7 1.7 1.7-1.7zM358.9 491.4l1.7-1.7-1.7-1.7-.8.7-1.3-1.3-1.7 1.7 1.7 1.7.8-.7zM361 493l-1.3 1.3-1.2-1.2-.5.5-1.7-1.6-1.7 1.7 1.7 1.7.5-.6 1.7 1.7 1.3-1.3 1.2 1.2.3-.3.7.7 1.7-1.7-1.7-1.7-.3.3zM357.3 501.7l-.6.6 1.7 1.7 1.7-1.7-.4-.4.6-.6-1.7-1.7-1.7 1.7zM362.1 500.6l-1.7 1.7 1.7 1.7 1.7-1.7zM353.6 502.5l-1.7 1.7 1.7 1.7 1.7-1.7zM356.2 503.3l-1.7 1.7 1.7 1.7 1.7-1.7zM360 507.6l-1.7 1.7 1.7 1.7 1.7-1.7zM358.8 510.5l-1.7 1.7 1.7 1.7 1.7-1.7zM353.6 512.9l1.7 1.7 1.7-1.7-1.7-1.7zM362 516l.8.8-.4.4 1.7 1.7 1.7-1.7-.8-.8.4-.4-1.7-1.7zM358.1 514.4l-1.7 1.7 1.7 1.7 1.7-1.7zM354.7 514.8l-1.7 1.7 1.7 1.7 1.7-1.7zM359.8 520.4l-1.7 1.7 1.7 1.7 1.7-1.7zM361.4 523.6l-1.7 1.7 1.7 1.7 1.7-1.7zM352 523.7l-1.7 1.7 1.7 1.7 1.7-1.7zM353.7 532.8l1.7-1.7-1.1-1.1 1.6-1.7-1.7-1.7-1.7 1.7 1.1 1.1-1.6 1.7zM360.1 534.6l-1.7 1.7 1.7 1.7 1.7-1.7zM366.3 397.9l-1.7 1.7 1.7 1.7 1.7-1.7zM368 401.1l-1.7 1.7 1.7 1.7 1.7-1.7zM364 402.6l-1.7 1.7 1.7 1.7 1.7-1.7zM366.2 408.2l.4-.4-1.7-1.7-1.7 1.7.6.6-.4.3 2.9 3 1.7-1.7zM369.4 485.4l-1.7 1.7 1.7 1.7 1.7-1.7zM364.7 496.9l2 1.9 1.7-1.7-.5-.5.9-.8-1.7-1.7-1.7 1.7.2.2zM372.1 498.1l-1.7 1.7 1.7 1.7 1.7-1.7zM365.2 502.7l1.3-1.3 1.1 1.1.3-.4 1.7 1.7 1.7-1.7-1.7-1.7-.4.4-1.6-1.7-1.4 1.3-1-1.1-1.7 1.7zM366.9 505.6l1 1.1 1.7-1.7-1.7-1.7-.5.5-1-1-1.7 1.7 1.7 1.7zM370 510.4l-.4.4 1.6 1.7-.3.3 1.7 1.7 1.7-1.7-1.6-1.7.3-.3-.8-.7.5-.4-1.7-1.7-1.7 1.7zM369.7 526.3l-1.7 1.7 1.7 1.7 1.7-1.7zM377.1 400.5l-1.1 1.2 1.7 1.7 1.7-1.7-.9-.8 1.2-1.2-1.7-1.7-1.7 1.7zM374.5 472.2l-1.7-1.7-1.9 2.1 1.7 1.7.2-.2.2.2 1.7-1.7-.3-.3zM377.8 485.3l1.3-1.3-1.7-1.7-1.7 1.7 1.6 1.7-.3.3-.3-.3-1.3 1.2-.7-.7-1.7 1.7-.6-.6-1.7 1.7 1.5 1.4-1.3 1.3 1.7 1.7 1.7-1.7-.5-.5 1.4-1.4-.4-.3 1.1-1.1-.8 1 3 2.8-.3.3.9.9-.4.5-1.1-1.1-1.7 1.7 1.7 1.7 1.3-1.3 1 1-.4.4 1.7 1.7 1.7-1.7-.5-.5.9-.9-1.7-1.7-.5.5-.3-.4.8-.8-1.6-1.6.4-.3-1.7-1.7-.2.1-.3-.3 1.6-1.7zM373.3 493.9l-1.7 1.7 1.7 1.7 1.7-1.7zM376.1 500.3l-1.7 1.7 1.7 1.7 1.7-1.7zM373.6 502l-1.7 1.7 1.7 1.7 1.7-1.7zM377.2 512.8l-1.7 1.7 1.7 1.7 1.7-1.7zM376.6 526.3l-1.7 1.7 1.7 1.7 1.7-1.7zM374.4 547.8l1.7-1.7-3.2-3.3-1.7 1.7zM383.4 363.4l1.7 1.7 1.7-1.7-1.7-1.7zM380.5 376.9l1.7 1.7 1.7-1.7-1.7-1.7zM383 377.8l-1.7 1.7 1.7 1.7 1.7-1.7zM385.2 379.3l-1.7 1.7 1.7 1.7 1.7-1.7zM385 396.9l-.8.8 1.7 1.7 1.7-1.7-.7-.7.9-.8-1.7-1.7-1.7 1.7zM382.1 400l-1.7 1.7 1.7 1.7 1.7-1.7zM387.1 493.3l.7-.7-1.7-1.7-1.7 1.7.3.3-.7.7 1.7 1.7 1.7-1.7zM379.9 497.5l-1.7 1.7 1.7 1.7 1.7-1.7zM383.3 507.1l1.7-1.7-2.9-3.2-1.7 1.7zM379.4 508.6l-1.7 1.7 1.7 1.7 1.7-1.7zM384.8 513.5l-1.3 1.3 1.7 1.7 1.7-1.7-1.2-1.2 1.3-1.3-1.7-1.7-1.7 1.7zM381 521.2l-1.7 1.7 1.7 1.7 1.7-1.7zM382.8 523.6l1.7 1.7 1.7-1.7-1.7-1.7zM384.2 527.9l1.6 1.6-1.2 1.2 1.7 1.7 1.7-1.7-1.6-1.6.9-.9 1.3 1.3 1.7-1.7-1.7-1.7-1.4 1.4-1.3-1.3zM382.4 530.9l-1.7 1.7 1.7 1.7 1.7-1.7zM389.6 388.1l1.7-1.7-.4-.3.5-.5-1.7-1.7-1.7 1.7.3.4-.4.4zM390.5 389.6l-1.7 1.7 1.7 1.7 1.7-1.7zM390.3 396.9l-1.7 1.7 1.7 1.7 1.7-1.7zM392.3 491l-1.7-1.7-.7.7-.8-.7-1.7 1.7.9.9-.3.3 1.7 1.7zM393.4 498.2l2.2-2.3.3.3-1.3 1.4 1.7 1.7 1.7-1.7-.8-.9 1.4-1.4-1.7-1.7-1.3 1.1-.3-.3.9-.9-1.7-1.7-.8.8-1.1-1.1-1.7 1.7 1.7 1.7.8-.8.3.3-1.9 2-.6-.6-1.7 1.7 1.7 1.7 1.6-1.6zM387.2 507.1l1 1-1.3 1.3 1.7 1.7 1.7-1.7-1.2-1.2.4-.4.5.6 1.7-1.7-.7-.7.4-.4-1.3-1.4 1.4-1.4-1.7-1.7-2.8 2.6.9.9-.3.2-.7-.8-1.7 1.7 1.7 1.7zM390.7 532.4l3.4-3.3-1.7-1.7-3.4 3.3zM390.1 539.2l-1.7 1.7 1.7 1.7 1.7-1.7zM395.8 377.6l-1.7 1.7 1.7 1.7 1.7-1.7zM392.6 390l-.1.1 1.7 1.7 1.7-1.7-2.2-2.5-1.7 1.7zM396.5 489.5l-1.2 1.2 1.7 1.7 1-1 1.3 1.4-.5.5 1.2 1.1-1.4 1.5 1.5 1.4-.2.3.1.1-1.4 1.4 1.7 1.7.7-.7 1.3 1.3 1.7-1.7-1.1-1 .3-.3.6.6 1.7-1.7-.2-.2 1.4-1.3-1.7-1.7-.1.1-.7-.7-.1.2-1.4-1.4-.7.7-.9-.8.5-.5-4.3-4.7-1.4 1.4-1.7-1.7-1.7 1.7 1.7 1.7 1.4-1.4zM402.8 495.5l.6.6-.6.5-.6-.6-.2.2-.2-.1.2-.2-1.2-1.2.5-.5 1.4 1.5zM401.4 503.4l-1.7-1.7-1.6 1.6-1.6-1.6-1.7 1.7.9.9-.5.5 1.7 1.7 1.7-1.7-.9-.9.4-.4 1.6 1.6zM396 513.1l-1.1-1.1 1-1-.7-.7 1.5-1.6-.6-.6.2-.2-1.7-1.7-1.7 1.7 1.2 1.6-1.6 1.5 1.1 1.1-1 1 1.7 1.7zM393.2 516.8l-1.7 1.7 1.7 1.7 1.7-1.7zM394.8 522.2l-1.7 1.7 1.7 1.7 1.7-1.7zM393.4 533.6l-1.7 1.7 1.7 1.7 1.7-1.7zM392.4 543.9l-1.7 1.7 1.7 1.7 1.7-1.7zM396.1 548.7l-1.7 1.7 1.7 1.7 1.7-1.7zM400.8 377.2l-1.7 1.7 1.7 1.7 1.7-1.7zM398.4 378.9l-1.7 1.7 1.7 1.7 1.7-1.7zM400.9 382.6l-1.7 1.7 1.7 1.7 1.7-1.7zM398.2 385.1l-1.7 1.7 1.7 1.7 1.7-1.7zM399.7 392.6l-.3.2 1.7 1.7 1.7-1.7-.2-.2.2-.3-1.7-1.7-1.7 1.7zM402.3 491.9l.2-.2 1.3 1.4 1.7-1.7-.3-.3.2-.2.3.4 1-1 .3.4.9-.9 1 1 1.7-1.7-1.7-1.7-.9.9-.7-.7 1.5-1.4-1.7-1.7-1.7 1.7 1.4 1.4-.7.6-.4-.3-.2.3-.4-.4-1.1 1.1.5-.6-1.7-1.7-.9 1-.9-.9-1.7 1.7 1.6 1.5-.3.3zM403.6 489.9l0-.2.1.1zM400.9 511.5l-1.7 1.7 1.7 1.7 1.7-1.7zM402.1 519.5l1.7-1.7-1.7-1.7-1.7 1.7-.8-.9-1.7 1.7 1.7 1.7 1.6-1.7zM397.8 520.6l-1.7 1.7 1.7 1.7 1.7-1.7zM408.2 375.3l-1.2-1.2 1-1.1-1.7-1.7-1.7 1.7.6.6-1.1 1 2.4 2.4zM404 376.2l-1.7 1.7 1.7 1.7 1.7-1.7zM407 386.8l-.6.6-.4-.4.3-.4-1.7-1.7-1.7 1.7.8.7-.5.5 1.5 1.5-.3.3 1.7 1.7 2.6-2.8zM402.6 388l-1.7 1.7 1.7 1.7 1.7-1.7zM402.7 481.6l-1.7 1.7 1.7 1.7 1.7-1.7zM404.7 513.3l-1.7 1.7 1.7 1.7 1.7-1.7zM403.2 527.4l-1.7 1.7 1.7 1.7 1.7-1.7zM404.1 534.3l-.8.8 1.7 1.7 1.7-1.7-1.7-1.7.8-.8-1.7-1.7-1.7 1.7zM408.6 381.9l1.7-1.7-1.4-1.4.4-.4-1.7-1.7-1.7 1.7 1.4 1.4-.4.4zM408.7 383l-1.7 1.7 1.7 1.7 1.7-1.7zM409 491.8l-.3 0-1.7 1.7 1.7 1.7.3 0 1.2-1.2.4.3 1.7-1.7-.6-.5 1.6-1.6-1.7-1.7-1.7 1.7.6.5-1.1 1.1zM411.4 502.6l-2.9-3-.4.3.3-.3-1.7-1.7-1.7 1.7.3.2-.3.4 1.7 1.7.3-.4 2.7 2.8zM407.7 508.3l1.7 1.6 1.7-1.7-1.7-1.7-.6.6-1.7-1.6-1.7 1.7 1.7 1.7zM407 524.7l1.7 1.7 1.7-1.7-1.7-1.7zM407.2 527.3l-1.7 1.7 1.7 1.7 1.7-1.7zM407.5 541.5l-1.7 1.7 1.7 1.7 1.7-1.7zM411.9 377.4l-1.7 1.7 1.7 1.7 1.7-1.7zM414 379.8l-1.7 1.7 1.7 1.7.2-.3 1 1.1 1.7-1.7-1.7-1.7-.2.2zM414.6 383.9l-1.7 1.7 1.7 1.7 1.7-1.7zM415.3 485.3l.6-.6 1.1 1.1 1.7-1.7-1.7-1.7-.6.6-1.1-1.1-.4.4-1.6-1.6-1.7 1.7 1.7 1.7.4-.4zM415.5 489.6l.2-.1.2.2 1.7-1.7-1.7-1.7-.1.2-.3-.3-.2.3-1.4-1.5-1.7 1.7 1.7 1.7.2-.2zM414.4 490.9l-2.9 2.6 1.7 1.7 2.9-2.6zM409.8 500.3l1.7 1.7.3-.3.3.3.5-.5 1.4 1.4.4-.5 1.5 1.5 1.7-1.7-.9-.9 1.2-1.3-1.7-1.7-.8.9-.6-.7-1.5 1.4-.4-.5 1.5-1.5-1.7-1.7-.4.4-.6-.6-1.7 1.7 1.2 1.2zM411.4 504.9l-1.7 1.7 1.7 1.7 1.7-1.7zM413 511.2l-1.7 1.7 1.7 1.7 1.7-1.7zM417.2 518.4l1.7-1.7-1.7-1.7-1.1 1.2-1.2-1.2-1.7 1.7 1.7 1.7 1.2-1.2zM419.5 358.6l-1.7 1.7 1.7 1.7 1.7-1.7zM418.4 480.4l-1.7 1.7 1.7 1.7 1.7-1.7zM421.2 490l-2-1.8-1.7 1.7 1.3 1.3-.9.9 1.7 1.7 1.7-1.7-1.1-1.1zM416.7 494.8l-.4.4 1.7 1.7 1.7-1.7-.9-.8.5-.4-1.7-1.7-1.7 1.7zM420 505.3l.5.4 1.7-1.7-1.7-1.7-.8.8-.5-.4-1.4 1.4-.7-.7-1.7 1.7 3.2 3.2 1.7-1.7-.8-.8zM418.6 512.1l-1.7 1.7 1.7 1.7 1.7-1.7zM419.3 525.2l-1.7 1.7 1.7 1.7 1.7-1.7zM416.7 525.9l-1.7 1.7 1.7 1.7 1.7-1.7zM415.9 533l-1.7 1.7 1.7 1.7 1.7-1.7zM423.2 366.8l-1.7 1.7 1.7 1.7 1.7-1.7zM423.7 377.8l-.9 1 1.7 1.7 1.6-1.7.4.3 1.7-1.7-1.7-1.7-.7.7-1.6-1.5-1.4 1.4-1.6-1.6-1.7 1.7 1.7 1.7 1.4-1.4zM423.3 379.8l-1.7 1.7 1.7 1.7 1.7-1.7zM422.3 386.1l1.3 1.2 1.7-1.7-1.7-1.7-1.1 1.1-1.2-1.3-1.7 1.7 1 1-1.1 1 .9.9-.3.3 1.7 1.7 1.7-1.7-.8-.9.2-.3-1-1zM423.3 482.6l.3.4 1.3-1.3 1.1 1.1 1.7-1.7-1.7-1.7-1.1 1.1-1.9-2.1-1.7 1.7.5.5-.7.7 1.7 1.7zM420.7 485.6l-1.7 1.7 1.7 1.7 1.7-1.7zM423.5 490.2l-1.7 1.7 1.7 1.7 1.7-1.7zM420 499.6l1.7-1.7-.4-.4.6-.5-1.7-1.7-1.7 1.7.3.4-.5.5zM423.4 495.5l-1.7 1.7 1.7 1.7 1.7-1.7zM423.7 498.8l-1.7 1.7 1.7 1.7 1.7-1.7zM422.7 514.8l-1.7 1.7 1.7 1.7 1.7-1.7zM420.1 539l-1.7 1.7 1.7 1.7 1.7-1.7zM420 543.7l-1.7 1.7 1.7 1.7 1.7-1.7zM426 364.8l-1.7 1.7 1.7 1.7 1.7-1.7zM426 371.3l-1.7 1.7 1.7 1.7 1.7-1.7zM429.3 385.6l-.7-.7.1-.3-1.3-1.3.3-.4-1.7-1.7-.4.4-.2-.2-1.7 1.7 3.9 4.2zM426.4 477.1l-1.1 1.3 1.7 1.7.8-.8.8.7 1.4-1.4 1.3 1.2-1 1 1.7 1.7 1.7-1.7-1.3-1.3 1-1-1.2-1.2.1-.2 1.1 1.1 1.7-1.7-1.7-1.7-1.1 1.2-.2-.2 1.1-1-.3-.3.5-.5-1.7-1.7-1.7 1.7.3.3-.5.5.7.7-1 1.1 1.2 1.2-.5.5-1.4-1.4.4-.4-1.7-1.7-1.5 1.5-1.3-1.3-1.7 1.7 1.7 1.7 1.5-1.5zM426.8 486.3l-1.7 1.7 1.7 1.7 1.7-1.7zM428.6 492.1l2.5 2.6 1.7-1.7-3-3.1-.5.4-1.1-1.1-1.7 1.7 1.7 1.7zM424 512.9l1.7 1.7 1.7-1.7-1.7-1.7zM426 519.4l1.7 1.7 1.7-1.7-1.7-1.7zM428.5 369.8l2 2.2 1.7-1.7-2-2.2zM429.2 373.9l-1.7 1.7 1.7 1.7 1.7-1.7zM431.4 378.8l1.3 1.3-.5.5 4.4 4.2 1.4-1.4.7.7-.9.9 1.7 1.7.3-.3-1.2 1.2.4.5-.5.5-1.1-1.1-.8.8-.2-.2-1.6 1.7-.5-.6-1.7 1.7 1.7 1.7 1.6-1.6.5.5.9-.8 1.9 1.8 1.1-1.2 1.3 1.3 1.7-1.7-.4-.4.3-.3-1.7-1.7-.5.5-.2-.2 1.2-1.2-.4-.3.2-.2 1 1 1-.9.9.9-1.6 1.5 1.7 1.7 1.7-1.7-1.2-1.2.4-.3.1.2 1.6-1.6.4.3 1.7-1.7-1-1 .6-.7 1.2 1.1 1.7-1.7-1.7-1.7-.9.9-.2-.2 2.1-1.9-1.7-1.7-2.8 2.7.7.7-.9 1 1 1-1.4 1.4-.4-.3-.3.3-.7-.7-1.1 1.1-.9-.9-.6.7-1.1-1.1-.3.3-.6-.6.9-.9-1.1-1.1 1.6-1.6-1.7-1.7-1.7 1.7 1.1 1.1-1.3 1.3-.8-.8.8-.8-1.7-1.7-.4.4-1-1-.5.5-.1-.2.5-.4-1.7-1.7zM431.5 381.6l-.7-.9.6-.6-1.7-1.7-1.7 1.7.7.6-.7.6.1.3 3.1 3.4 1.7-1.7-1.5-1.6zM436.2 386.2l-2.6-2.6-1.7 1.7 1.2 1.3-.3-.3-1.7 1.7 1.7 1.7.8-.9.3.3 1.7-1.7-.3-.3zM429.2 386.8l-1.7 1.7 1.7 1.7 1.7-1.7zM432 466.5l1.6 1.6-1.4 1.3 1.3 1.4-1.4 1.3.4.4-.3.3 1.7 1.7 1.7-1.6.8.9.9-.9.5.6 1.7-1.7-.4-.4.4-.5.8.8 1.7-1.7-1.3-1.2.5-.5-1-1.1 1-1-.8-.8.2-.3-1.2-1.2 1.1-1.1-1.7-1.7-1.7 1.7 1.2 1.2-.6.7-1.1-1.1-1.2 1.2-3.2-3.1-2.2 2.4 1.7 1.7.2.1.6-.6.3.4zM434.8 470.3l.2.2 1.7-1.7-.3-.3.8-.9-.6-.6 1.2-1.3.2.3-.2.2 1.1 1-1.1 1.1.5.4-1.6 1.7.4.4-.1.1-.6-.5-1.3 1.3-.8-.8zM434.9 465.4l.6.5-.3.4-.6-.6zM430.5 481.2l-1.7 1.7 1.7 1.7 1.7-1.7zM433.2 482.5l-1.7 1.7 1.7 1.7 1.7-1.7zM431.8 504.3l-.7.8 1.7 1.7 1.7-1.7-.6-.5.8-.8-1.7-1.7-1.7 1.7zM429.6 528.8l-1.7 1.7 1.7 1.7 1.7-1.7zM434.3 358.1l-1.7 1.7 1.7 1.7 1.7-1.7zM437.4 369.5l-1.7 1.7 1.7 1.7 1.7-1.7zM439.6 471.9l-1.7 1.7 1.7 1.7 1.7-1.7zM437.2 483.4l1.7 1.7 1.7-1.7-1.7-1.7zM435.5 490.7l1.7-1.7-1.1-1.1 1.3-1.4-1.7-1.7-1.1 1.2-.3-.3-1.7 1.7zM435.6 490.8l-1.7 1.7 1.7 1.7 1.7-1.7zM435.9 497.4l-1.7 1.7 1.7 1.7 1.7-1.7zM437 505.9l-1.7 1.7 1.7 1.7 1.7-1.7zM434.9 510.4l-1.7 1.7 1.7 1.7 1.7-1.7zM447.3 362.2l-1.7 1.7 1.7 1.7 1.7-1.7zM445.9 373.2l.2-.2-1.7-1.7-1.6 1.6-.7-.8-1.7 1.7 1.7 1.7 1.4-1.3 1.5 1.5 1.7-1.7zM446.7 464.7l.7.7-.9.9 1.7 1.7 3.3-3-1.7-1.7-.4.4-1-1-1.4 1.3-1.5-1.5-1.7 1.7 1.7 1.7 1.3-1.4zM442.8 468.9l-.3.2 1.7 1.7 1.7-1.7-.9-1 .2-.2-1.7-1.7-1.7 1.7zM442.9 474.9l-1.7 1.7 1.7 1.7 1.7-1.7zM445.9 477.4l-1.7 1.7 1.7 1.7 1.7-1.7zM446.3 483.2l-1.7 1.7 1.7 1.7 1.7-1.7zM443.5 487.2l-1.7 1.7 1.7 1.7 1.7-1.7zM438.9 491.9l1.7 1.7 1.7-1.7-1.7-1.7zM445 527.9l1.7 1.7 1.7-1.7-1.7-1.7zM443.4 535.5l-1.7 1.7 1.7 1.7 1.7-1.7zM457 368.3l-1.7 1.7 1.7 1.7 1.7-1.7zM457.8 372.4l-1.7 1.7 1.7 1.7 1.7-1.7zM459.3 381l1.7-1.7-1.7-1.7-3 2.7 1.7 1.7 1.1-1.1zM457 385.7l-.2.2-.8-.8-.7.8-.7-.7-1.7 1.7.8.8-.8.8-.1-.2.5-.5-.8-.9.6-.6-1.7-1.7-1.7 1.7.8.8-1.4 1.4 1.7 1.7.2-.2 1.5 1.4.9-1 .5.5 1.1-1.1 1.1 1.1 1.7-1.7-.8.8 1.7 1.7 1.7-1.7-.3-.3.5-.5 1.7 1.6-1.6 1.6 1.7 1.7.8-.8.6.6 1.7-1.7-.2-.1.4-.5-.5-.7.8.9 1.7-1.7-1-1.1 2.6-2.4.7.7 1.7-1.7-1.7-1.7-1 1.1-1.2-1.2-1.3 1.3-.8-.8 1.4-1.4-1.7-1.7-1.7 1.7 1.4 1.3-1 1-1.2-1.3-1.2 1.2-.4-.4-1.6 1.6.9-1-1.7-1.7-.3.3-.7-.7.4-.4-1.7-1.7-1.7 1.7.9.9-.4.4zM460.6 387.4l-.6.6-.8-.8-1.6 1.6-.9-.9.6-.6.7.8 1.6-1.6zM455.4 387.9l.1.1-.5.6-.2-.2zM463.8 388.9l-1.7-1.6.3-.4.5.4 1.2-1.2 1 1-.5.5 1.1 1.1-.5.5-.9-.9zM449.2 390l-1.7 1.7 1.7 1.7 1.7-1.7zM456 454.4l-1.7 1.7 1.7 1.7 1.7-1.7zM453.7 457.1l-1.7 1.7 1.7 1.7 1.7-1.7zM452.4 464.3l-1.7 1.7.4.4-1.6 1.6 1.7 1.7 1.7-1.7-.4-.4 1.6-1.6zM455.5 465.9l-1.7 1.7 1.7 1.7 1.7-1.7zM457.3 476.3l1.7-1.7-1.5-1.4.8-.8-1.7-1.7-1.7 1.7 1.5 1.5-.8.7zM453.2 472l-1.7 1.7 1.7 1.7 1.7-1.7zM450 477.1l1.7 1.7 1.7-1.7-1.7-1.7zM454.1 476.5l-1.7 1.7 1.7 1.7 1.7-1.7zM456.2 513.3l-1.7 1.7 1.7 1.7 1.7-1.7zM454.4 521.3l-1.7 1.7 1.7 1.7 1.7-1.7zM452.7 537.2l-1.7 1.7 1.7 1.7 1.7-1.7zM459.5 346.3l-1.7 1.7 1.7 1.7 1.7-1.7zM466.3 358.8l-1.7 1.7 1.7 1.7 1.7-1.7zM461.1 372.1l-1.7 1.7 1.7 1.7 1.7-1.7zM466.4 381.4l1.7 1.7 1.7-1.7-1.7-1.7zM468.8 391.6l-1.7 1.7 1.7 1.7 1.7-1.7zM460.4 395.7l1.7-1.7-1.7-1.7-.9.8-1.4-1.4-1.7 1.7 1.7 1.7.8-.9zM467.9 396.4l-1.7-1.7-1.7 1.7 1.1 1-.4.4-.5-.5-.1.2-1.6-1.6-1.7 1.7 3 2.8-.3.3-.1-.2-1.7 1.7 1.7 1.7.6-.6.6.6 1.4-1.4 2.6 2.3 1.3-1.3.9.9.7-.7.5.6.7-.6 1 1-.2.2 1.7 1.7 1.7-1.7-1.3-1.3.3-.2-.1-.3-1.7-1.7-.8.7-1.3-1.2-.6.7-.3-.3.3-.2-1.7-1.7-.2.2-1-1 .2-.3-1.6-1.6zM467 399.5l-.3.3 1 .9-1.2 1.2-.2-.1.6-.6-.8-.8zM469 401.5l-.4-.2.1-.1zM469.7 407.9l0-.6-1.7-1.7-3 3 1.7 1.7 1.1-1 .6.7 1.7-1.7zM462 439.1l-1.7 1.7 1.7 1.7 1.7-1.7zM469.2 449.9l-.9.9 1.7 1.7.7-.7 1.1 1.2 1.7-1.7-1.2-1.2 1.1-1.1-1.7-1.7-.8.8-.5-.5 1.4-1.3-1.7-1.7-1.7 1.7 1.6 1.7-1.3 1.3zM459.4 455.8l-1.7 1.7 1.7 1.7 1.7-1.7zM470 461.2l1.7-1.7-1.7-1.7-.9.9-1.6-1.6-1.7 1.7 1.7 1.7.9-.9zM461.2 458.9l-1.7 1.7 1.7 1.7 1.7-1.7zM466.9 464.6l-.9.8 1.7 1.7 1.7-1.7-.7-.7.8-.8-1.7-1.7-1.7 1.7zM466.2 469.3l-1.7 1.7 1.7 1.7 1.7-1.7zM461.4 472.6l1.7 1.7 1.7-1.7-1.7-1.7zM466.6 475.1l1.7 1.7 1.7-1.7-1.7-1.7zM464.7 475.7l-1.7 1.7 1.7 1.7 1.7-1.7zM460.2 476.2l-1.7 1.7 1.7 1.7 1.7-1.7zM460.9 482.9l1.3 1.3 1.7-1.7-1.7-1.7-1.1 1.1-1.3-1.3-1.7 1.7 1.7 1.7zM468.4 483.2l-1.7 1.7 1.7 1.7 1.7-1.7zM462.8 498.9l-1.7 1.7 1.7 1.7 1.7-1.7zM465.2 502.6l-1.7 1.7 1.7 1.7 1.7-1.7zM463.5 536.7l1.7 1.7 1.7-1.7-1.7-1.7zM479.1 351.6l1.7 1.7 1.7-1.7-1.7-1.7zM474.3 358.4l-1.7 1.7 1.7 1.7 1.7-1.7zM485.9 372.6l-1.7 1.7 1.7 1.7 1.7-1.7zM475.2 376.2l-1.7 1.7 1.7 1.7 1.7-1.7zM477.7 381.5l1.7-1.7-1.7-1.7-.2.2-.3-.4-1.7 1.7 1.7 1.7.1-.1zM472.8 378l-1.7 1.7 1.7 1.7 1.7-1.7zM481.4 379.6l-1.7 1.7 1.7 1.7 1.7-1.7zM475 380.3l-1.7 1.7 1.7 1.7 1.7-1.7zM482.8 383.4l-1.4 1.5-.3-.2-1.7 1.7 1.7 1.7 1.5-1.5.2.2 1.7-1.7zM478.8 383.4l-1.7 1.7 1.7 1.7 1.7-1.7zM472.5 395.1l-.3.3-.1-.2.4-.3-1.7-1.7-1.7 1.7.7.7-.4.3 3.4 3.2 1.5-1.5.5.6.2-.2.6.6-1.4 1.4 1.7 1.7.8-.8 1.6 1.6 1.2-1.3.8.9.9-1 1.2 1.2 1.7-1.7-1-1 .3-.4-1.7-1.7-2.6 2.4-.8-.8-.9.8-.5-.6.9-.9.6.6 1.7-1.6.3.3 1.7-1.7-1-1 .3-.3-1.7-1.7-1.7 1.7 1 1-.1.2-1.5-1.5-1.5 1.4-.5-.5.9-1-.7-.7.2-.2-.1-.1 1.6-1.6.8.8 1.7-1.7-1.7-1.7-1.7 1.6-.5-.6.8-.7-3.3-3.2-1.7 1.7 3 2.9-.7.8.1.1-1.7 1.7.7.7-.2.2 1.2 1.2-.6.6zM486.2 389.1l-1.7 1.7 1.7 1.7 1.7-1.7zM479.6 392l1.7 1.7 1.7-1.7-1.7-1.7zM472 390.4l-1.7 1.7 1.7 1.7 1.7-1.7zM483.7 393.9l-1.7 1.7.3.3-.6.5 1.7 1.7 1.7-1.7-.2-.2.5-.6zM487 394.5l-1.7 1.7 1.7 1.7 1.7-1.7zM486 400.6l-1.7 1.7 1.7 1.7 1.7-1.7zM474.1 405.2l-.5.5-.8-.8-1.7 1.7.3.3-1 1.1 1.6 1.7-.9.9 2.4 2.5-1.4-1.2-.6.7-.5-.5-1.7 1.7.9.9-1.1 1.1 1.7 1.7.4-.4.9.9 1.7-1.7-1.1-1.1.9-.9-.2-.3.2-.2 1.3 1.3 1.7-1.7-.6-.5.8-.8.5.5 1.7-1.7.6.6-1.6 1.5.7.6-.4.3.5.5-.3.4 1.7 1.7.6-.6 1.6 1.6.5-.5 1.1 1.1 1.4-1.4-.7.7 1.7 1.7 1.7-1.7-1.3-1.3.7-.7-1.1-1.1 1-1-1.7-1.7-1.7 1.7.3.4-1.1 1.1-.8-.7-.6.6-.4-.4.3-.4-.4-.4 1-1 .2.2 1.7-1.7-1-1.1 1.6-1.6.1.2-.6.6 1.7 1.7.1-.1.7.6-.3.3 1.7 1.7 1.3-1.3.3.3-.9 1 1.3 1.3-.6.6.4.4-.9.9 1.1 1.2-.5.5-1-1-1.7 1.7 1.2 1.2-.3.3 1.8 1.8-.9.8.6.6-2.1 1.9-1.7-1.6-.2.2-.6-.6.7-.7-1.6-1.6.9-.9-1.7-1.7-1.7 1.7.5.5-1.4 1.4 1.5 1.5-.3.3 2.5 2.4.3-.3 1.1 1.2 1.3-1.3 1.7 1.6 2.3-2.2.2.3 1.2-1.2 1.5 1.5.9-1 .3.3 1.5-1.6.6.6 1.7-1.7-1.7-1.7-1.5 1.6 0-.4 1.2-1.2-1.7-1.7-1.4 1.4-.2-.2.9-1 .2.2 3.2-3.3-1.6-1.6 1.3-1.3-1.7-1.7-1.7 1.7 1.6 1.6-1.9 2.1-1.3-1.4.5-.5-.6-.5 1.4-1.5-1.7-1.7-.8.8-.6-.6 1-1-1.7-1.7-.4.4-1.1-1.2-.7.8-.8-.8.6-.6.5.4.9-.9 1.5 1.5 1.7-1.7-1-1 .5-.5-1.7-1.7-1.4 1.4-1.1-.8-1.7 1.6-.8-.7-1.7 1.6-.2-.2-2.6 2.4-.5-.6-1.7 1.7 1.9-2.2-.5-.5 1.1-1-1.5-1.4 1.5-1.6-1.7-1.7-1.7 1.7 1.5 1.5-.9.8-.4-.3-1.5 1.6zM474.8 409.9l-.5.6-1.5-1.5.8-.6.3.3-.2.2zM476.5 410.1l-.2.2-.3-.3.2-.2zM476.3 407.5l.6.5-.3.3 0-.2-.4-.5zM491.3 420.4l.9-.8.3.3-.9.8zM492.7 423l.2-.2.3.4-.6.6-.5-.6.1-.2-1.1-1.1.3-.2zM482.8 402.2l-1.7 1.7 1.7 1.7 1.7-1.7zM487.1 420.8l-1.7 1.7 1.7 1.7 1.7-1.7zM483.2 426.2l-1.7 1.7 1.7 1.7 1.7-1.7zM489 430.7l.2-.1.8.8.2-.2 1.5 1.5.7-.6.4.4-1.1 1 1.7 1.7 1.7-1.7-1.2-1.2 1.1-1-1.3-1.3 1.1-1.1-1.7-1.7-1.7 1.7.2.3-.2.2-1.4-1.4-.2.2-.8-.9-.6.7-1.2-1.1-1.7 1.7 1.7 1.7.7-.7zM483.6 430.3l1.7 1.7 1.7-1.7-1.7-1.7zM488.2 430.1l-1.7 1.7 1.7 1.7 1.7-1.7zM489.1 437.5l1.7-1.7-.7-.7 1.6-1.5-1.7-1.7-1.7 1.7.6.7-1.1 1.1-1.5-1.5-1.7 1.7 1.7 1.7 1.3-1.3zM476.3 434l-1.7 1.7 1.7 1.7 1.7-1.7zM480 435.7l-1.8 1.7 1.7 1.7 1.9-1.8zM472.1 444.1l3.1 3.5 1.7-1.7-1.4-1.4 0-.4-.6-.6.8-.8 1.1 1.1 1.7-1.7-.9-.9.4-.3-1.7-1.7-1.7 1.7.8.9-1-1 1-1.1-1.7-1.7-1.2 1.3-1.6-1.6-1.7 1.7 1.7 1.7 1.3-1.2 1.5 1.5-1.1 1 .5.6zM481 438.1l-1.7 1.7 1.3 1.3-.8.8 1.7 1.7 1.7-1.7-1.3-1.3.8-.8zM486.8 446.6l1.7 1.7 1.7-1.7-1.7-1.7.9-.9-.8-.8.5-.4-1-1 .2-.1 1 1 .9-.9-.5.7 1.7 1.7 1.7-1.7-1.5-1.5.3-.2 1.1 1.1.8-.8 1.1 1.1 1.7-1.7-.6-.6.7-.8-1.7-1.7-1.5 1.6-.3-.3.5-.4-1.7-1.7-.7.7-.9-.8-1.7 1.7 1.2 1.1-.3.3-.3-.3-1.4 1.4-1-1-1.7 1.7.9.9-.4.5.7.8-.4.4 1.7 1.7zM491.2 439.1l.6.6-.1.2-.7-.7zM480.4 443.4l-1.7 1.7 1.7 1.7 1.7-1.7zM485.2 446.9l-3.1 3.5 1.7 1.7 3.1-3.5zM481.2 447.4l-1.7 1.7 1.7 1.7 1.7-1.7zM476.7 447.6l-1.7 1.7 1.7 1.7 1.7-1.7zM486.2 455.7l1.7-1.7-.9-1 .9-.9-1.7-1.7-1.7 1.7.9.9-.9 1zM479.8 451.2l-1.7 1.7 1.7 1.7 1.7-1.7zM472.5 453.4l3.1 3 1.7-1.7-3.1-3zM480.2 457.7l-1.7 1.7 1.7 1.7 1.7-1.7zM476.4 461.7l1.7-1.7-2.2-2.1-1.7 1.7zM482.9 468l1.7-1.7-1.5-1.5.2-.3-.3-.3.6-.6-.6-.6 1.1-1-1.7-1.7-1.7 1.7.6.6-1.1 1 .3.3-.6.6 1.6 1.6-.3.2zM471.6 468.8l1.7 1.7 1.7-1.7-1.7-1.7zM469.9 470.8l1.7 1.7 1.7-1.7-1.7-1.7zM480.5 472.1l-.2-.2-1.7 1.7 1.7 1.7 1.2-1.2.2.2 1.7-1.7-1.7-1.7zM471.6 472.5l-1.7 1.7 1.7 1.7 1.7-1.7zM487.1 476l-1.7 1.7 1.7 1.7 1.7-1.7zM479.4 479l-1.7 1.7 1.7 1.7 1.7-1.7zM477.8 483.9l-1.7 1.7 1.7 1.7 1.7-1.7zM475.9 487.3l-1.7 1.7 1.7 1.7 1.7-1.7zM471.8 492.4l1.7 1.7 1.7-1.7-1.7-1.7zM476.5 499.8l1.7 1.7 1.7-1.7-1.7-1.7zM477.6 502.6l-1.7 1.7 1.7 1.7 1.7-1.7zM485.3 508.3l-1.7 1.7 1.7 1.7 1.7-1.7zM518.9 362.6l-1.7 1.7.6.7-1.7 1.6 1.7 1.7 1.7-1.7-.6-.6 1.7-1.7zM504.3 363l-1.7 1.7 1.7 1.7 1.7-1.7zM527.9 369.2l-1.7 1.7 1.7 1.7 1.7-1.7zM507.6 372.1l-1.7 1.7 1.7 1.7 1.7-1.7zM516.6 374.7l-1.7 1.7 1.7 1.7 1.7-1.7zM534.4 374.7l-1.7 1.7 1.7 1.7 1.7-1.7zM547.5 375l-1.7 1.7 1.7 1.7 1.7-1.7zM496.8 379.5l.7.7 1.7-1.7-1.7-1.7-.2.2-.7-.7-1.7 1.7 1.7 1.7zM522.5 377.2l-1.7 1.7 1.7 1.7 1.7-1.7zM507.2 381.1l-1.7 1.7 1.7 1.7 1.7-1.7zM521.7 381.8l-1.7 1.7 1.7 1.7 1.7-1.7zM521.9 385.5l1.7 1.7 1.7-1.7-1.7-1.7zM497.6 386.5l1.7 1.7-.7.8 1.7 1.7 1.7-1.7-1.7-1.7.7-.8-1.7-1.7zM507.1 385.1l-1.7 1.7 1.7 1.7 1.7-1.7zM502.7 386l-1.7 1.7 1.4 1.4-.3.4 1.7 1.7 1.7-1.7-1.4-1.5.3-.3zM520.5 386.5l-1.7 1.7 1.7 1.7 1.7-1.7zM496.6 393.6l1.7-1.7-1.1-1.1.6-.6-1.7-1.7-1.7 1.7 1.1 1.1-.6.6zM515.7 393.1l.5-.5-.5-.6.5-.5-1.7-1.7-1.7 1.7.5.6-.9 1.2 1.7 1.7 1.7-1.7zM522.2 398.5l1.7-1.7-1.7-1.7-.3.2-.3-.3.7-.6-.7-.7.8-.9-1.7-1.7-1.7 1.7.7.7-.8.9 1.3 1.3-.7.6 1.7 1.7.3-.2zM547.5 392.4l-1.7 1.7 1.7 1.7 1.7-1.7zM541.2 396.4l1.7-1.7-1.7-1.7-1.1 1.1-1.2-1.2-1.7 1.7 1.7 1.7 1.1-1.1zM493.8 398.7l.7.6 1.7-1.7-1.7-1.7-.7.7-.7-.6 1.2-1.1-1.7-1.7-1.7 1.7 1.6 1.7-1.1 1.1 1.7 1.7zM552.3 397.6l.2.2 1.7-1.7-1.7-1.7-1.7 1.7-.2-.2-1.7 1.7 1.7 1.7zM499.4 394.8l-1.7 1.7 1.7 1.7 1.7-1.7zM490.2 395.3l-1.7 1.7 1.7 1.7 1.7-1.7zM511.2 396l-1.7 1.7 1.7 1.7 1.7-1.7zM530.4 396.8l-1.7 1.7 1.7 1.7 1.7-1.7zM524.8 398.7l-1.7 1.7 1.7 1.7 1.7-1.7zM527.6 399.9l-1.7 1.7 1.7 1.7 1.7-1.7zM504.7 400.2l-1.7 1.7 1.7 1.7 1.7-1.7zM536.5 400.3l-1.7 1.7 1.7 1.7 1.7-1.7zM490.4 400.5l-1.7 1.7 1.7 1.7 1.7-1.7zM517.7 402l-1.7 1.7 1.7 1.7 1.2-1.1 1.3 1.3 1.7-1.7-1.7-1.7-1.2 1.2zM496.7 406.8l1-1 1 1 3.3-3-1.7-1.7-1 1-1.1-1-3 2.8-1.2-1.2-1.7 1.7 1.7 1.7 1.5-1.5zM505.9 404l-1.7 1.7.1.2-.3.3 1.9 1.8-1.8 2-1.9-2 .7-.6-1.7-1.7-1.7 1.7 1.1 1.1-.6.7 2.5 2.6 1-.9.4.4-.7.7 1.7 1.7 1.7-1.7-.6-.6 3.1-3.6-1.8-1.7.3-.4zM508.4 406.5l1.7 1.7 1.7-1.7-1.7-1.7zM520 406.6l.9.8-1 1.1 1.7 1.7 1.7-1.7-.9-.9 1-1-1.7-1.7zM531.9 405.2l-1.7 1.7 1.7 1.7 1.7-1.7zM515 405.9l-1.7 1.7 1.7 1.7 1.7-1.7zM498.3 406.8l-1.7 1.7 1.7 1.7 1.7-1.7zM510.6 408.7l1.7 1.7 1.7-1.7-1.7-1.7zM553.6 411.2l-1.2-1.2 1.3-1.3-1.7-1.7-1.7 1.7 1.1 1.2-1.2 1.3 1.7 1.7zM527.3 409.2l-1.7 1.7 1.7 1.7 1.7-1.7zM494.4 409.6l-1.7 1.7 1.7 1.7 1.7-1.7zM544.3 410.1l-1.7 1.7 1.3 1.3-.2.2 1.7 1.7 1.7-1.7-1.3-1.3.2-.2zM538.9 410.4l-1.7 1.7 1.7 1.7 1.7-1.7zM522.5 411.2l-1.7 1.7 2.4 2.6 1.7-1.7zM508.2 411.7l-1.7 1.7 1.7 1.7 1.7-1.7zM534.8 413.2l-1.7 1.7 1.7 1.7 1.7-1.7zM516.3 413.4l-1.7 1.7 1.7 1.7 1.7-1.7zM502.5 419l.8-.7.7.6-.5.4 1.7 1.7 1-1 .7.7 1.7-1.7-1.5-1.5 1.3-1.3-1.7-1.7-1.7 1.7 1.5 1.5-.2.2-1.6-1.7-.8.8-1.1-1.2.5-.4-1.7-1.7-1.5 1.4-.3-.3-1.7 1.7 1.7 1.7.3-.3 1.2 1.1.6-.6zM516.9 418.4l-1.7 1.7 3.5 3.2 1.7-1.7-1.2-1.3.9-.9-1.1-1.1 2.7-2.5-1.7-1.7-.5.5-.3-.3-1.7 1.7.2.2-.5.5 1.1 1.1-1 1zM508.8 419.2l.2.2-.8.7 1.7 1.7.7-.6 1.7 1.9.7-.7.8.8 1.7-1.7-1.5-1.4.9-.9-.4-.4.9-1-1.7-1.7-1.7 1.7.4.4-.6.6-1.3-1.3zM531.8 416.6l-1.7 1.7 1.7 1.7 1.7-1.7zM537.1 421.3l1.2-1.1-1.5-1.5.2-.2-1.7-1.7-1.7 1.7 1.5 1.5-.2.2.8.8-1.1 1.1 1.7 1.7 1.7-1.7zM531.2 420.8l1.7 1.7.2-.1.3.2 1.7-1.7-1.7-1.7-.2.2-.3-.3zM506.2 421.6l-1.7 1.7 1.7 1.7 1.7-1.7zM500.6 421.7l-1.7 1.7 1.7 1.7 1.7-1.7zM502.1 429l1.3-1.3 1.4 1.4 1.7-1.7-1.7-1.7-1.2 1.3-.6-.6 1-.9-1.7-1.7-1.7 1.7.8.8-1 1zM498.9 428.1l1.7-1.7-1.7-1.7-.3.3-.6-.6-1.7 1.7 1.7 1.7.4-.3zM510.9 425l-1.7 1.7 1.7 1.7 1.7-1.7zM514.6 428.2l-1.7-1.8-2.9 3 1.7 1.7zM496.5 430.5l-1.7 1.7 1 1-1.6 1.6 1.7 1.7 1.7-1.7-1-1 1.6-1.6zM540.6 435.3l1.7-1.7-.3-.2 1.2-1.2-1.7-1.7-1.7 1.7.3.3-1.2 1.1zM504.3 430.8l-1.7 1.7 1.7 1.7 1.7-1.7zM513.3 431.2l-1.7 1.7 1.7 1.7 1.7-1.7zM509.3 434.7l1.3 1.3 1.7-1.7-1.7-1.7-.7.6-1.2-1.2-1.7 1.7 1.7 1.7zM519 433l-1.7 1.7 1.7 1.7 1.7-1.7zM501.4 434.1l-1.7 1.7 1.7 1.7 1.7-1.7zM531.2 434.5l-1.7 1.7 1.7 1.7 1.7-1.7zM507.4 436.8l-1.2 1.2-.3-.3-1.7 1.7 1.7 1.7 1.2-1.2.3.3 1.7-1.7zM523.4 436.8l-1.7 1.7 1.7 1.7 1.7-1.7zM527.5 437.7l-1.7 1.7 1.7 1.7 1.7-1.7zM500 437.8l-1.7 1.7 1.7 1.7 1.7-1.7zM510.2 440.3l1.7 1.7 1.7-1.7-1.7-1.7zM503.9 445.3l1.7-1.7-.7-.6 1.4-1.4-1.7-1.7-.9.9-1-.9-1.7 1.7 1 1-.4.4zM492.8 442.9l-1.7 1.7 1.7 1.7 1.7-1.7zM494.5 447.3l-1.7 1.7 1.7 1.7 1.7-1.7zM508.7 448.5l-1.7 1.7 1.7 1.7 1.7-1.7zM493.3 449.8l-1.7 1.7 1.7 1.7 1.7-1.7zM514.3 450.2l-1.7 1.7 1.7 1.7 1.7-1.7zM512.4 452.6l-1.7 1.7 1 1-.4.5 1.7 1.7 1.7-1.7-1.1-1 .5-.5zM498.5 452.6l-1.7 1.7 1.7 1.7 1.7-1.7zM521.2 458.8l-1.1 1.2 1.7 1.7 1.7-1.7-1.2-1.2 1.2-1.1-1.7-1.7-1.7 1.7zM525.7 459.4l1.7 1.7 1.7-1.7-1.7-1.7zM530.2 458.8l-1.7 1.7 1.7 1.7 1.7-1.7zM505.7 460.6l-1.7 1.7 1.7 1.7 1.7-1.7zM490.3 461.1l-1.7 1.7 1.7 1.7 1.7-1.7zM521.4 461.6l-1.7 1.7 1.7 1.7 1.7-1.7zM512.5 463l-1.7 1.7 1.7 1.7 1.7-1.7zM510.2 466.7l-1.7 1.7 1.7 1.7 1.7-1.7zM499.3 466.7l-1.7 1.7 1.7 1.7 1.7-1.7zM522 469.3l1.7 1.7 1.7-1.7-1.7-1.7zM501 469.4l.3.3-.2.1 1.7 1.7 1.7-1.7-.3-.3.2-.1-1.7-1.7zM541.5 469.9l-1.7 1.7 1.7 1.7 1.7-1.7zM516.2 469.9l-1.7 1.7 1.7 1.7 1.7-1.7zM498.4 471.6l-1.7 1.7 1.7 1.7 1.7-1.7zM549 471.9l-1.7 1.7 1.7 1.7 1.7-1.7zM510.2 476.6l-1.7 1.7 1.7 1.7 1.7-1.7zM493.3 476.6l-1.7 1.7 1.7 1.7 1.7-1.7zM515 480l1.7 1.7 1.7-1.7-1.7-1.7zM507.4 508.7l1.7 1.7 1.7-1.7-1.7-1.7z"/>
<line x1="327.1" y1="471" x2="548.5" y2="387.9" stroke="#000" stroke-width="1.9"/>
<rect x="322.5" y="320.0" width="234.3" height="235.5" fill="none" stroke="#6c6c6c" stroke-width="1.7"/>
<path d="M318.3 555.5h4.2M318.3 529.5h4.2M318.3 503.5h4.2M318.3 477.5h4.2M318.3 451.5h4.2M318.3 425.5h4.2M318.3 399.5h4.2M318.3 373.5h4.2M318.3 347.5h4.2M318.3 321.5h4.2M321.6 555.5v3M360.8 555.5v3M400.0 555.5v3M439.2 555.5v3M478.4 555.5v3M517.6 555.5v3M556.8 555.5v3" stroke="#858585" stroke-width="1.1"/>
<text x="314.2" y="560.0" text-anchor="end">-3</text>
<text x="314.2" y="534.0" text-anchor="end">-2</text>
<text x="304.2" y="508.0">- </text>
<path transform="translate(307.92 508.00) scale(0.01175 -0.01130)" d="M359 0L359 703L293 703C280 650 250 600 180 582C150 575 120 572 101 572L101 504L271 504L271 0Z"/>
<text x="314.2" y="482.0" text-anchor="end">0</text>
<text x="307.9" y="456.0"> </text>
<path transform="translate(307.92 456.00) scale(0.01175 -0.01130)" d="M359 0L359 703L293 703C280 650 250 600 180 582C150 575 120 572 101 572L101 504L271 504L271 0Z"/>
<text x="314.2" y="430.0" text-anchor="end">2</text>
<text x="314.2" y="404.0" text-anchor="end">3</text>
<text x="314.2" y="378.0" text-anchor="end">4</text>
<text x="314.2" y="352.0" text-anchor="end">5</text>
<text x="314.2" y="326.0" text-anchor="end">6</text>
<text x="321.9" y="568.8" text-anchor="middle">2</text>
<text x="361.1" y="568.8" text-anchor="middle">3</text>
<text x="400.3" y="568.8" text-anchor="middle">4</text>
<text x="439.5" y="568.8" text-anchor="middle">5</text>
<text x="478.7" y="568.8" text-anchor="middle">6</text>
<text x="517.9" y="568.8" text-anchor="middle">7</text>
<text x="557.1" y="568.8" text-anchor="middle">8</text>
<text x="496.4" y="549.6" textLength="47" lengthAdjust="spacingAndGlyphs">R = 0.45</text>
<text x="375.5" y="583.5" textLength="135.5" lengthAdjust="spacingAndGlyphs">log<tspan font-size="8.8" dy="2.8">2</tspan><tspan dy="-2.8"> mRNA half life (min)</tspan></text>
<text x="300.8" y="491.2" textLength="92.5" lengthAdjust="spacingAndGlyphs" transform="rotate(-90 300.8 491.2)">log<tspan font-size="8.8" dy="2.8">2</tspan><tspan dy="-2.8"> ribsomes/kb</tspan></text>
</svg></body></html>
